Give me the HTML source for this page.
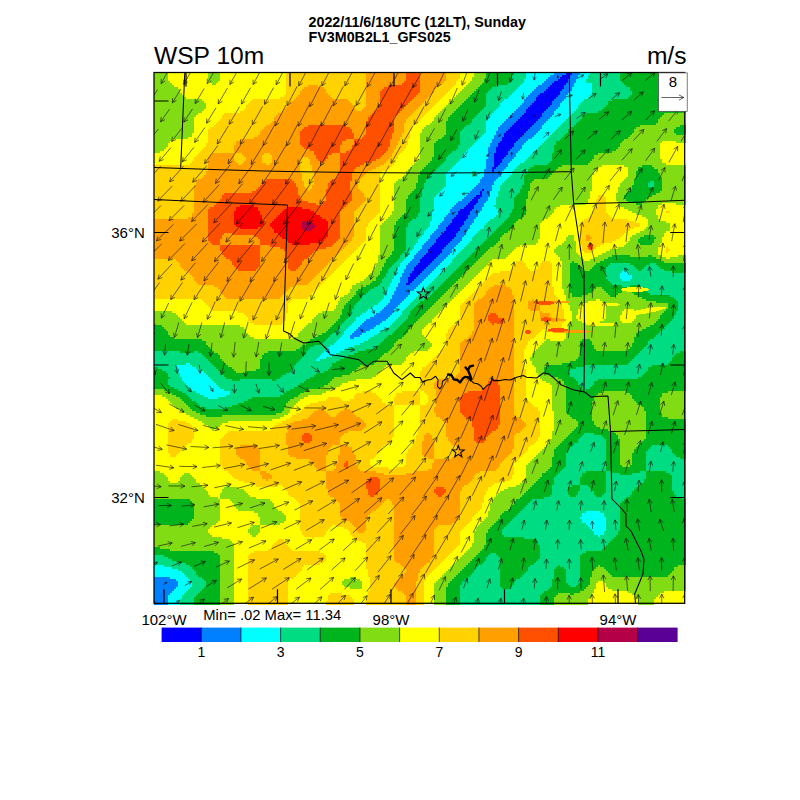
<!DOCTYPE html>
<html><head><meta charset="utf-8"><title>WSP 10m</title>
<style>
html,body{margin:0;padding:0;background:#fff;}
svg{display:block}
text{font-family:"Liberation Sans",sans-serif;fill:#000}
</style></head><body>
<svg width="800" height="800" viewBox="0 0 800 800">
<rect width="800" height="800" fill="#fff"/>
<g shape-rendering="crispEdges"><rect x="154.0" y="72.5" width="531.0" height="531.0" fill="#ffff00"/>
<path fill="#0000ff" d="M566 72.5h6v2h-6zM562 74.5h8v2h-8zM560 76.5h10v2h-10zM558 78.5h10v2h-10zM554 80.5h14v2h-14zM552 82.5h14v2h-14zM550 84.5h14v2h-14zM548 86.5h16v2h-16zM546 88.5h16v2h-16zM544 90.5h16v2h-16zM540 92.5h20v2h-20zM538 94.5h20v2h-20zM536 96.5h20v2h-20zM536 98.5h18v2h-18zM534 100.5h18v2h-18zM532 102.5h20v2h-20zM530 104.5h20v2h-20zM528 106.5h20v2h-20zM526 108.5h20v2h-20zM526 110.5h18v2h-18zM524 112.5h18v2h-18zM522 114.5h20v2h-20zM520 116.5h20v2h-20zM518 118.5h20v2h-20zM516 120.5h20v2h-20zM514 122.5h20v2h-20zM512 124.5h20v2h-20zM510 126.5h20v2h-20zM508 128.5h20v2h-20zM506 130.5h20v2h-20zM504 132.5h20v2h-20zM504 134.5h18v2h-18zM502 136.5h18v2h-18zM502 138.5h16v2h-16zM500 140.5h16v2h-16zM498 142.5h16v4h-16zM496 146.5h16v2h-16zM496 148.5h14v2h-14zM496 150.5h12v2h-12zM494 152.5h14v2h-14zM494 154.5h12v2h-12zM494 156.5h10v2h-10zM494 158.5h8v4h-8zM494 162.5h6v2h-6zM494 164.5h4v2h-4zM492 166.5h4v2h-4zM492 168.5h2v4h-2zM482 188.5h2v2h-2zM480 190.5h2v4h-2zM476 194.5h6v2h-6zM474 196.5h6v2h-6zM472 198.5h6v2h-6zM470 200.5h8v2h-8zM468 202.5h8v2h-8zM466 204.5h8v2h-8zM464 206.5h10v2h-10zM460 208.5h12v2h-12zM458 210.5h12v4h-12zM456 214.5h12v2h-12zM454 216.5h14v2h-14zM452 218.5h14v2h-14zM452 220.5h12v2h-12zM450 222.5h14v2h-14zM448 224.5h14v2h-14zM446 226.5h14v4h-14zM444 230.5h14v2h-14zM442 232.5h14v2h-14zM440 234.5h16v2h-16zM438 236.5h16v2h-16zM436 238.5h16v2h-16zM436 240.5h14v2h-14zM434 242.5h14v2h-14zM432 244.5h14v2h-14zM430 246.5h14v2h-14zM428 248.5h14v4h-14zM426 252.5h14v2h-14zM424 254.5h14v2h-14zM422 256.5h14v2h-14zM420 258.5h14v2h-14zM420 260.5h12v2h-12zM418 262.5h12v2h-12zM416 264.5h12v2h-12zM414 266.5h12v2h-12zM414 268.5h10v2h-10zM412 270.5h10v2h-10zM410 272.5h10v2h-10zM410 274.5h8v2h-8zM408 276.5h8v2h-8zM408 278.5h6v2h-6zM408 280.5h4v2h-4zM406 282.5h4v2h-4z"/>
<path fill="#0080ff" d="M572 72.5h8v2h-8zM554 72.5h12v2h-12zM550 74.5h12v2h-12zM570 74.5h8v4h-8zM548 76.5h12v2h-12zM546 78.5h12v2h-12zM568 78.5h8v4h-8zM544 80.5h10v2h-10zM542 82.5h10v2h-10zM566 82.5h8v2h-8zM564 84.5h10v2h-10zM538 84.5h12v2h-12zM536 86.5h12v2h-12zM564 86.5h8v2h-8zM562 88.5h10v2h-10zM534 88.5h12v2h-12zM560 90.5h10v2h-10zM532 90.5h12v2h-12zM560 92.5h8v2h-8zM530 92.5h10v2h-10zM558 94.5h8v2h-8zM528 94.5h10v2h-10zM556 96.5h10v2h-10zM526 96.5h10v2h-10zM524 98.5h12v2h-12zM554 98.5h10v2h-10zM524 100.5h10v2h-10zM552 100.5h10v2h-10zM522 102.5h10v2h-10zM552 102.5h8v2h-8zM550 104.5h10v2h-10zM520 104.5h10v2h-10zM518 106.5h10v2h-10zM548 106.5h10v2h-10zM546 108.5h10v2h-10zM516 108.5h10v2h-10zM544 110.5h10v2h-10zM514 110.5h12v2h-12zM512 112.5h12v2h-12zM542 112.5h12v2h-12zM510 114.5h12v2h-12zM542 114.5h10v2h-10zM508 116.5h12v2h-12zM540 116.5h10v2h-10zM506 118.5h12v2h-12zM538 118.5h10v2h-10zM536 120.5h10v2h-10zM504 120.5h12v2h-12zM502 122.5h12v2h-12zM534 122.5h10v2h-10zM500 124.5h12v2h-12zM532 124.5h10v2h-10zM530 126.5h12v2h-12zM498 126.5h12v2h-12zM498 128.5h10v2h-10zM528 128.5h12v2h-12zM526 130.5h12v2h-12zM496 130.5h10v2h-10zM524 132.5h12v2h-12zM496 132.5h8v2h-8zM494 134.5h10v2h-10zM522 134.5h12v2h-12zM520 136.5h12v2h-12zM494 136.5h8v2h-8zM492 138.5h10v2h-10zM518 138.5h10v2h-10zM492 140.5h8v2h-8zM516 140.5h10v2h-10zM514 142.5h10v2h-10zM490 142.5h8v4h-8zM514 144.5h8v2h-8zM512 146.5h10v2h-10zM510 148.5h10v2h-10zM488 146.5h8v6h-8zM508 150.5h10v2h-10zM508 152.5h8v2h-8zM506 154.5h10v2h-10zM488 152.5h6v6h-6zM504 156.5h10v2h-10zM502 158.5h10v2h-10zM502 160.5h8v2h-8zM500 162.5h8v2h-8zM486 158.5h8v8h-8zM498 164.5h10v2h-10zM486 166.5h6v2h-6zM496 166.5h10v2h-10zM494 168.5h10v2h-10zM484 168.5h8v4h-8zM494 170.5h8v2h-8zM484 172.5h18v2h-18zM484 174.5h16v2h-16zM482 176.5h16v2h-16zM480 178.5h16v2h-16zM480 180.5h14v2h-14zM478 182.5h16v2h-16zM476 184.5h16v2h-16zM474 186.5h18v2h-18zM484 188.5h8v2h-8zM472 188.5h10v2h-10zM470 190.5h10v2h-10zM468 192.5h12v2h-12zM482 190.5h8v6h-8zM466 194.5h10v2h-10zM480 196.5h8v2h-8zM464 196.5h10v2h-10zM478 198.5h10v2h-10zM462 198.5h10v2h-10zM458 200.5h12v2h-12zM478 200.5h8v2h-8zM456 202.5h12v2h-12zM476 202.5h8v2h-8zM454 204.5h12v2h-12zM474 204.5h10v2h-10zM474 206.5h8v2h-8zM452 206.5h12v2h-12zM472 208.5h10v2h-10zM450 208.5h10v2h-10zM450 210.5h8v2h-8zM470 210.5h10v2h-10zM448 212.5h10v2h-10zM470 212.5h8v2h-8zM468 214.5h10v2h-10zM446 214.5h10v2h-10zM444 216.5h10v2h-10zM468 216.5h8v2h-8zM466 218.5h8v2h-8zM444 218.5h8v2h-8zM442 220.5h10v2h-10zM464 220.5h10v2h-10zM464 222.5h8v2h-8zM440 222.5h10v2h-10zM438 224.5h10v2h-10zM462 224.5h8v2h-8zM460 226.5h10v2h-10zM438 226.5h8v2h-8zM436 228.5h10v2h-10zM460 228.5h8v2h-8zM458 230.5h8v2h-8zM434 230.5h10v2h-10zM456 232.5h10v2h-10zM432 232.5h10v2h-10zM430 234.5h10v2h-10zM456 234.5h8v2h-8zM430 236.5h8v2h-8zM454 236.5h8v2h-8zM428 238.5h8v2h-8zM452 238.5h10v2h-10zM426 240.5h10v2h-10zM450 240.5h10v2h-10zM424 242.5h10v2h-10zM448 242.5h10v2h-10zM422 244.5h10v2h-10zM446 244.5h10v2h-10zM444 246.5h10v2h-10zM422 246.5h8v2h-8zM420 248.5h8v2h-8zM442 248.5h10v4h-10zM418 250.5h10v2h-10zM416 252.5h10v2h-10zM440 252.5h10v2h-10zM414 254.5h10v2h-10zM438 254.5h10v2h-10zM436 256.5h10v2h-10zM414 256.5h8v2h-8zM434 258.5h10v2h-10zM412 258.5h8v2h-8zM410 260.5h10v2h-10zM432 260.5h10v2h-10zM430 262.5h10v2h-10zM408 262.5h10v2h-10zM428 264.5h10v2h-10zM406 264.5h10v2h-10zM426 266.5h10v2h-10zM406 266.5h8v2h-8zM424 268.5h10v2h-10zM404 268.5h10v2h-10zM422 270.5h10v2h-10zM404 270.5h8v2h-8zM420 272.5h10v2h-10zM402 272.5h8v4h-8zM418 274.5h10v2h-10zM416 276.5h10v2h-10zM414 278.5h10v2h-10zM400 276.5h8v6h-8zM412 280.5h10v2h-10zM398 282.5h8v2h-8zM410 282.5h10v2h-10zM398 284.5h20v2h-20zM396 286.5h20v2h-20zM396 288.5h18v2h-18zM394 290.5h16v4h-16zM392 294.5h16v2h-16zM392 296.5h14v2h-14zM390 298.5h14v2h-14zM390 300.5h12v2h-12zM388 302.5h12v2h-12zM386 304.5h12v2h-12zM384 306.5h12v2h-12zM382 308.5h12v2h-12zM380 310.5h14v2h-14zM376 312.5h16v2h-16zM374 314.5h16v2h-16zM370 316.5h18v2h-18zM366 318.5h20v2h-20zM364 320.5h18v2h-18zM362 322.5h18v2h-18zM360 324.5h16v2h-16zM358 326.5h16v2h-16zM356 328.5h14v2h-14zM354 330.5h12v2h-12zM352 332.5h10v2h-10zM350 334.5h10v2h-10zM350 336.5h4v2h-4zM154 576.5h16v2h-16zM154 578.5h22v2h-22zM154 580.5h24v6h-24zM154 586.5h22v2h-22zM154 588.5h20v2h-20zM154 590.5h18v2h-18zM154 592.5h16v2h-16zM154 594.5h14v10h-14z"/>
<path fill="#00ffff" d="M526 72.5h28v2h-28zM580 72.5h10v2h-10zM526 74.5h24v2h-24zM578 74.5h10v4h-10zM526 76.5h22v2h-22zM524 78.5h22v2h-22zM576 78.5h10v4h-10zM524 80.5h20v2h-20zM522 82.5h20v2h-20zM574 82.5h18v4h-18zM520 84.5h18v2h-18zM518 86.5h18v2h-18zM572 86.5h20v4h-20zM516 88.5h18v2h-18zM514 90.5h18v2h-18zM570 90.5h22v2h-22zM512 92.5h18v2h-18zM568 92.5h24v2h-24zM566 94.5h24v2h-24zM510 94.5h18v2h-18zM508 96.5h18v2h-18zM566 96.5h22v2h-22zM564 98.5h20v2h-20zM504 98.5h20v2h-20zM562 100.5h20v2h-20zM502 100.5h22v2h-22zM500 102.5h22v2h-22zM560 102.5h20v2h-20zM560 104.5h18v2h-18zM500 104.5h20v2h-20zM558 106.5h20v2h-20zM498 106.5h20v2h-20zM556 108.5h20v2h-20zM496 108.5h20v2h-20zM494 110.5h20v2h-20zM554 110.5h20v2h-20zM554 112.5h18v2h-18zM492 112.5h20v2h-20zM552 114.5h18v2h-18zM490 114.5h20v2h-20zM550 116.5h18v2h-18zM488 116.5h20v2h-20zM488 118.5h18v2h-18zM548 118.5h18v2h-18zM546 120.5h18v2h-18zM486 120.5h18v2h-18zM486 122.5h16v2h-16zM544 122.5h18v2h-18zM542 124.5h18v2h-18zM486 124.5h14v2h-14zM542 126.5h16v2h-16zM486 126.5h12v4h-12zM540 128.5h16v2h-16zM538 130.5h16v2h-16zM486 130.5h10v2h-10zM484 132.5h12v2h-12zM536 132.5h16v2h-16zM482 134.5h12v2h-12zM534 134.5h16v2h-16zM480 136.5h14v2h-14zM532 136.5h16v2h-16zM528 138.5h18v2h-18zM478 138.5h14v2h-14zM476 140.5h16v2h-16zM526 140.5h18v2h-18zM474 142.5h16v2h-16zM524 142.5h18v2h-18zM522 144.5h18v2h-18zM472 144.5h18v2h-18zM470 146.5h18v2h-18zM522 146.5h16v2h-16zM520 148.5h16v2h-16zM468 148.5h20v2h-20zM518 150.5h16v2h-16zM466 150.5h22v2h-22zM464 152.5h24v2h-24zM516 152.5h16v2h-16zM516 154.5h14v2h-14zM462 154.5h26v4h-26zM514 156.5h14v2h-14zM512 158.5h14v2h-14zM460 158.5h26v2h-26zM458 160.5h28v2h-28zM510 160.5h14v2h-14zM456 162.5h30v2h-30zM508 162.5h12v2h-12zM508 164.5h10v2h-10zM454 164.5h32v2h-32zM506 166.5h10v2h-10zM452 166.5h34v2h-34zM450 168.5h34v2h-34zM504 168.5h10v2h-10zM448 170.5h24v2h-24zM476 170.5h8v4h-8zM502 170.5h10v4h-10zM446 172.5h26v4h-26zM500 174.5h10v2h-10zM474 174.5h10v2h-10zM498 176.5h10v2h-10zM446 176.5h36v2h-36zM496 178.5h10v2h-10zM446 178.5h34v4h-34zM494 180.5h10v2h-10zM494 182.5h8v2h-8zM446 182.5h32v2h-32zM446 184.5h30v2h-30zM444 186.5h30v2h-30zM492 184.5h8v6h-8zM442 188.5h30v2h-30zM440 190.5h30v2h-30zM438 192.5h30v2h-30zM490 190.5h8v6h-8zM436 194.5h30v2h-30zM434 196.5h30v2h-30zM488 196.5h8v4h-8zM434 198.5h28v2h-28zM434 200.5h24v2h-24zM486 200.5h10v2h-10zM434 202.5h22v2h-22zM484 202.5h12v2h-12zM434 204.5h20v2h-20zM484 204.5h10v2h-10zM482 206.5h14v2h-14zM434 206.5h18v2h-18zM434 208.5h16v2h-16zM482 208.5h16v2h-16zM480 210.5h18v2h-18zM432 210.5h18v2h-18zM432 212.5h16v2h-16zM478 212.5h20v2h-20zM478 214.5h18v2h-18zM432 214.5h14v2h-14zM476 216.5h18v2h-18zM432 216.5h12v4h-12zM474 218.5h16v2h-16zM430 220.5h12v2h-12zM474 220.5h14v2h-14zM472 222.5h14v2h-14zM430 222.5h10v2h-10zM430 224.5h8v2h-8zM470 224.5h14v4h-14zM428 226.5h10v2h-10zM468 228.5h12v2h-12zM426 228.5h10v2h-10zM424 230.5h10v2h-10zM466 230.5h12v2h-12zM424 232.5h8v2h-8zM466 232.5h10v2h-10zM422 234.5h8v2h-8zM464 234.5h10v2h-10zM420 236.5h10v2h-10zM462 236.5h10v4h-10zM418 238.5h10v2h-10zM418 240.5h8v2h-8zM460 240.5h10v2h-10zM416 242.5h8v2h-8zM458 242.5h10v2h-10zM456 244.5h10v2h-10zM414 244.5h8v4h-8zM454 246.5h10v2h-10zM452 248.5h10v2h-10zM412 248.5h8v2h-8zM452 250.5h8v2h-8zM410 250.5h8v2h-8zM410 252.5h6v2h-6zM450 252.5h8v2h-8zM448 254.5h8v2h-8zM408 254.5h6v2h-6zM446 256.5h8v2h-8zM406 256.5h8v2h-8zM404 258.5h8v2h-8zM444 258.5h8v2h-8zM402 260.5h8v2h-8zM442 260.5h10v2h-10zM440 262.5h10v2h-10zM400 262.5h8v2h-8zM400 264.5h6v2h-6zM438 264.5h10v2h-10zM398 266.5h8v2h-8zM436 266.5h10v2h-10zM398 268.5h6v2h-6zM434 268.5h10v2h-10zM396 270.5h8v2h-8zM622 270.5h6v2h-6zM432 270.5h10v2h-10zM396 272.5h6v2h-6zM430 272.5h10v2h-10zM620 272.5h10v2h-10zM394 274.5h8v2h-8zM428 274.5h10v2h-10zM620 274.5h12v4h-12zM394 276.5h6v2h-6zM426 276.5h10v2h-10zM424 278.5h10v2h-10zM622 278.5h8v2h-8zM392 278.5h8v4h-8zM422 280.5h10v2h-10zM420 282.5h10v2h-10zM390 282.5h8v4h-8zM418 284.5h10v2h-10zM416 286.5h10v2h-10zM388 286.5h8v4h-8zM414 288.5h10v2h-10zM410 290.5h12v2h-12zM386 290.5h8v4h-8zM410 292.5h10v2h-10zM408 294.5h10v2h-10zM384 294.5h8v4h-8zM406 296.5h10v2h-10zM382 298.5h8v2h-8zM404 298.5h10v2h-10zM380 300.5h10v2h-10zM402 300.5h10v2h-10zM378 302.5h10v2h-10zM400 302.5h10v2h-10zM374 304.5h12v2h-12zM398 304.5h10v2h-10zM372 306.5h12v2h-12zM396 306.5h10v2h-10zM368 308.5h14v2h-14zM394 308.5h10v2h-10zM394 310.5h8v2h-8zM366 310.5h14v2h-14zM362 312.5h14v2h-14zM392 312.5h10v2h-10zM360 314.5h14v2h-14zM390 314.5h10v2h-10zM356 316.5h14v2h-14zM388 316.5h10v2h-10zM356 318.5h10v2h-10zM386 318.5h10v2h-10zM354 320.5h10v2h-10zM382 320.5h12v2h-12zM380 322.5h12v2h-12zM352 322.5h10v2h-10zM350 324.5h10v2h-10zM376 324.5h14v2h-14zM374 326.5h14v2h-14zM348 326.5h10v2h-10zM370 328.5h14v2h-14zM346 328.5h10v2h-10zM366 330.5h14v2h-14zM344 330.5h10v2h-10zM344 332.5h8v2h-8zM362 332.5h16v2h-16zM342 334.5h8v2h-8zM360 334.5h14v2h-14zM340 336.5h10v2h-10zM354 336.5h16v2h-16zM338 338.5h30v2h-30zM336 340.5h28v2h-28zM334 342.5h26v2h-26zM330 344.5h24v2h-24zM328 346.5h20v2h-20zM326 348.5h18v2h-18zM324 350.5h16v2h-16zM322 352.5h14v2h-14zM320 354.5h12v2h-12zM318 356.5h8v2h-8zM316 358.5h4v2h-4zM186 362.5h4v2h-4zM176 364.5h16v2h-16zM178 366.5h18v2h-18zM178 368.5h22v2h-22zM178 370.5h26v2h-26zM180 372.5h26v2h-26zM180 374.5h28v2h-28zM182 376.5h28v2h-28zM182 378.5h30v2h-30zM184 380.5h30v2h-30zM186 382.5h30v2h-30zM188 384.5h30v2h-30zM190 386.5h30v2h-30zM192 388.5h32v2h-32zM196 390.5h34v2h-34zM200 392.5h30v2h-30zM204 394.5h22v2h-22zM208 396.5h10v2h-10zM586 510.5h14v2h-14zM582 512.5h22v4h-22zM580 516.5h26v2h-26zM582 518.5h24v4h-24zM586 522.5h20v2h-20zM588 524.5h18v2h-18zM590 526.5h16v2h-16zM592 528.5h14v2h-14zM594 530.5h10v4h-10zM598 534.5h2v2h-2zM154 564.5h10v2h-10zM154 566.5h18v2h-18zM154 568.5h24v2h-24zM154 570.5h28v2h-28zM154 572.5h30v2h-30zM154 574.5h32v2h-32zM170 576.5h18v2h-18zM176 578.5h14v2h-14zM178 580.5h12v2h-12zM178 582.5h14v4h-14zM176 586.5h14v2h-14zM174 588.5h14v2h-14zM172 590.5h14v2h-14zM170 592.5h14v2h-14zM168 594.5h14v4h-14zM168 598.5h12v6h-12z"/>
<path fill="#00dc82" d="M590 72.5h30v2h-30zM514 72.5h12v2h-12zM588 74.5h32v4h-32zM512 74.5h14v4h-14zM512 78.5h12v2h-12zM586 78.5h34v2h-34zM510 80.5h14v2h-14zM586 80.5h36v2h-36zM592 82.5h32v2h-32zM508 82.5h14v2h-14zM496 84.5h24v2h-24zM592 84.5h34v2h-34zM492 86.5h26v2h-26zM592 86.5h38v4h-38zM490 88.5h26v2h-26zM488 90.5h26v2h-26zM592 90.5h40v4h-40zM486 92.5h26v2h-26zM590 94.5h40v2h-40zM486 94.5h24v2h-24zM588 96.5h40v2h-40zM486 96.5h22v2h-22zM584 98.5h28v2h-28zM486 98.5h18v2h-18zM486 100.5h16v2h-16zM582 100.5h26v2h-26zM580 102.5h28v2h-28zM486 102.5h14v4h-14zM578 104.5h28v2h-28zM578 106.5h26v2h-26zM484 106.5h14v2h-14zM482 108.5h14v2h-14zM576 108.5h26v2h-26zM574 110.5h24v2h-24zM480 110.5h14v2h-14zM572 112.5h14v2h-14zM478 112.5h14v2h-14zM476 114.5h14v2h-14zM570 114.5h12v2h-12zM474 116.5h14v2h-14zM568 116.5h14v2h-14zM566 118.5h14v2h-14zM472 118.5h16v2h-16zM472 120.5h14v2h-14zM564 120.5h14v2h-14zM562 122.5h14v2h-14zM470 122.5h16v2h-16zM466 124.5h20v2h-20zM560 124.5h14v2h-14zM464 126.5h22v2h-22zM558 126.5h12v2h-12zM556 128.5h12v2h-12zM462 128.5h24v2h-24zM554 130.5h14v2h-14zM460 130.5h26v2h-26zM460 132.5h24v2h-24zM552 132.5h14v2h-14zM460 134.5h22v2h-22zM550 134.5h14v2h-14zM548 136.5h14v2h-14zM460 136.5h20v2h-20zM546 138.5h14v2h-14zM460 138.5h18v2h-18zM460 140.5h16v2h-16zM544 140.5h12v2h-12zM542 142.5h14v2h-14zM460 142.5h14v2h-14zM458 144.5h14v2h-14zM540 144.5h14v2h-14zM538 146.5h16v2h-16zM458 146.5h12v2h-12zM536 148.5h18v2h-18zM456 148.5h12v2h-12zM534 150.5h20v2h-20zM452 150.5h14v2h-14zM532 152.5h20v2h-20zM450 152.5h14v2h-14zM448 154.5h14v2h-14zM530 154.5h22v2h-22zM528 156.5h24v2h-24zM446 156.5h16v2h-16zM526 158.5h26v2h-26zM446 158.5h14v2h-14zM524 160.5h26v2h-26zM444 160.5h14v2h-14zM520 162.5h28v2h-28zM442 162.5h14v2h-14zM440 164.5h14v2h-14zM518 164.5h16v2h-16zM438 166.5h14v2h-14zM516 166.5h14v2h-14zM514 168.5h14v2h-14zM436 168.5h14v2h-14zM512 170.5h16v2h-16zM434 170.5h14v2h-14zM472 170.5h4v4h-4zM432 172.5h14v2h-14zM512 172.5h14v2h-14zM510 174.5h14v2h-14zM472 174.5h2v2h-2zM430 174.5h16v2h-16zM428 176.5h18v2h-18zM508 176.5h16v2h-16zM506 178.5h18v2h-18zM426 178.5h20v4h-20zM650 180.5h4v2h-4zM504 180.5h20v2h-20zM502 182.5h22v2h-22zM424 182.5h22v4h-22zM648 182.5h6v4h-6zM500 184.5h22v4h-22zM424 186.5h20v2h-20zM422 188.5h20v2h-20zM500 188.5h20v2h-20zM498 190.5h22v2h-22zM422 190.5h18v2h-18zM422 192.5h16v2h-16zM498 192.5h20v2h-20zM422 194.5h14v2h-14zM498 194.5h18v2h-18zM496 196.5h18v8h-18zM494 204.5h20v2h-20zM496 206.5h18v2h-18zM420 196.5h14v14h-14zM498 208.5h14v4h-14zM420 210.5h12v2h-12zM498 212.5h12v2h-12zM418 212.5h14v4h-14zM496 214.5h14v2h-14zM494 216.5h14v2h-14zM416 216.5h16v2h-16zM490 218.5h16v2h-16zM412 218.5h20v2h-20zM488 220.5h16v2h-16zM410 220.5h20v2h-20zM486 222.5h16v2h-16zM408 222.5h22v4h-22zM484 224.5h16v2h-16zM406 226.5h22v2h-22zM484 226.5h14v2h-14zM480 228.5h16v2h-16zM406 228.5h20v2h-20zM478 230.5h16v2h-16zM406 230.5h18v4h-18zM476 232.5h16v2h-16zM474 234.5h16v2h-16zM406 234.5h16v2h-16zM406 236.5h14v2h-14zM472 236.5h16v2h-16zM472 238.5h14v2h-14zM406 238.5h12v4h-12zM470 240.5h14v2h-14zM406 242.5h10v2h-10zM468 242.5h14v2h-14zM466 244.5h14v2h-14zM406 244.5h8v4h-8zM464 246.5h14v2h-14zM406 248.5h6v2h-6zM462 248.5h14v2h-14zM404 250.5h6v2h-6zM460 250.5h14v2h-14zM458 252.5h14v2h-14zM402 252.5h8v2h-8zM400 254.5h8v2h-8zM456 254.5h14v2h-14zM454 256.5h14v2h-14zM400 256.5h6v2h-6zM398 258.5h6v2h-6zM452 258.5h14v2h-14zM452 260.5h12v2h-12zM396 260.5h6v2h-6zM610 262.5h20v2h-20zM394 262.5h6v2h-6zM450 262.5h12v2h-12zM650 262.5h6v2h-6zM392 264.5h8v2h-8zM646 264.5h12v2h-12zM448 264.5h12v2h-12zM608 264.5h26v2h-26zM606 266.5h30v2h-30zM446 266.5h12v2h-12zM644 266.5h16v2h-16zM390 266.5h8v2h-8zM642 268.5h22v2h-22zM606 268.5h32v2h-32zM444 268.5h12v2h-12zM388 268.5h10v2h-10zM442 270.5h12v2h-12zM606 270.5h16v2h-16zM628 270.5h44v2h-44zM388 270.5h8v2h-8zM386 272.5h10v2h-10zM630 272.5h56v2h-56zM440 272.5h12v2h-12zM386 274.5h8v2h-8zM438 274.5h12v2h-12zM606 272.5h14v6h-14zM632 274.5h54v4h-54zM384 276.5h10v2h-10zM436 276.5h12v2h-12zM434 278.5h12v2h-12zM608 278.5h14v2h-14zM630 278.5h56v2h-56zM382 278.5h10v4h-10zM610 280.5h76v2h-76zM432 280.5h12v2h-12zM612 282.5h74v2h-74zM380 282.5h10v2h-10zM430 282.5h12v2h-12zM622 284.5h8v2h-8zM640 284.5h46v2h-46zM428 284.5h12v2h-12zM378 284.5h12v2h-12zM426 286.5h12v2h-12zM374 286.5h14v2h-14zM644 286.5h42v2h-42zM370 288.5h18v2h-18zM646 288.5h40v2h-40zM424 288.5h12v2h-12zM422 290.5h12v2h-12zM368 290.5h18v2h-18zM648 290.5h38v2h-38zM366 292.5h20v2h-20zM420 292.5h12v2h-12zM650 292.5h36v2h-36zM418 294.5h12v2h-12zM670 294.5h16v2h-16zM362 294.5h22v4h-22zM674 296.5h12v2h-12zM416 296.5h12v2h-12zM360 298.5h22v2h-22zM414 298.5h10v2h-10zM676 298.5h10v2h-10zM358 300.5h22v2h-22zM412 300.5h8v2h-8zM356 302.5h22v2h-22zM410 302.5h8v2h-8zM408 304.5h8v2h-8zM354 304.5h20v2h-20zM406 306.5h8v2h-8zM354 306.5h18v2h-18zM678 300.5h8v10h-8zM404 308.5h8v2h-8zM352 308.5h16v2h-16zM352 310.5h14v2h-14zM402 310.5h8v4h-8zM676 310.5h10v4h-10zM350 312.5h12v2h-12zM400 314.5h8v2h-8zM350 314.5h10v2h-10zM674 314.5h12v4h-12zM398 316.5h10v2h-10zM348 316.5h8v2h-8zM396 318.5h10v2h-10zM672 318.5h14v2h-14zM346 318.5h10v2h-10zM394 320.5h10v2h-10zM344 320.5h10v2h-10zM670 320.5h16v2h-16zM342 322.5h10v2h-10zM392 322.5h10v2h-10zM668 322.5h18v2h-18zM666 324.5h20v2h-20zM390 324.5h10v2h-10zM340 324.5h10v2h-10zM340 326.5h8v2h-8zM664 326.5h22v2h-22zM388 326.5h10v2h-10zM662 328.5h24v2h-24zM338 328.5h8v2h-8zM384 328.5h12v2h-12zM380 330.5h14v2h-14zM660 330.5h26v2h-26zM336 330.5h8v2h-8zM378 332.5h14v2h-14zM658 332.5h28v2h-28zM332 332.5h12v2h-12zM656 334.5h30v2h-30zM374 334.5h14v2h-14zM330 334.5h12v2h-12zM328 336.5h12v2h-12zM370 336.5h16v2h-16zM654 336.5h32v2h-32zM368 338.5h16v2h-16zM326 338.5h12v2h-12zM650 338.5h36v2h-36zM364 340.5h18v2h-18zM324 340.5h12v2h-12zM648 340.5h38v4h-38zM360 342.5h20v2h-20zM322 342.5h12v2h-12zM354 344.5h24v2h-24zM646 344.5h40v2h-40zM314 344.5h16v2h-16zM348 346.5h28v2h-28zM644 346.5h42v2h-42zM310 346.5h18v2h-18zM344 348.5h22v2h-22zM308 348.5h18v2h-18zM642 348.5h44v2h-44zM306 350.5h18v2h-18zM154 350.5h26v2h-26zM194 350.5h4v2h-4zM340 350.5h18v2h-18zM640 350.5h40v2h-40zM306 352.5h16v2h-16zM336 352.5h18v2h-18zM154 352.5h48v2h-48zM638 352.5h38v2h-38zM304 354.5h16v2h-16zM636 354.5h38v2h-38zM154 354.5h50v2h-50zM332 354.5h16v2h-16zM634 356.5h38v2h-38zM154 356.5h52v2h-52zM302 356.5h16v2h-16zM326 356.5h18v2h-18zM300 358.5h16v2h-16zM320 358.5h20v2h-20zM632 358.5h40v2h-40zM154 358.5h54v2h-54zM154 360.5h56v2h-56zM630 360.5h40v2h-40zM298 360.5h38v2h-38zM628 362.5h40v2h-40zM190 362.5h22v2h-22zM154 362.5h32v2h-32zM296 362.5h36v2h-36zM584 364.5h68v2h-68zM294 364.5h38v2h-38zM192 364.5h22v2h-22zM154 364.5h22v2h-22zM294 366.5h36v2h-36zM158 366.5h20v2h-20zM576 366.5h72v2h-72zM196 366.5h20v2h-20zM200 368.5h18v2h-18zM292 368.5h36v2h-36zM570 368.5h78v2h-78zM162 368.5h16v2h-16zM568 370.5h78v2h-78zM166 370.5h12v2h-12zM204 370.5h16v2h-16zM290 370.5h34v2h-34zM570 372.5h74v2h-74zM286 372.5h30v2h-30zM206 372.5h16v2h-16zM168 372.5h12v4h-12zM282 374.5h32v2h-32zM208 374.5h16v2h-16zM570 374.5h72v2h-72zM210 376.5h16v2h-16zM280 376.5h30v2h-30zM574 376.5h64v2h-64zM170 376.5h12v2h-12zM212 378.5h20v2h-20zM276 378.5h30v2h-30zM240 378.5h32v2h-32zM576 378.5h22v2h-22zM168 378.5h14v2h-14zM214 380.5h90v2h-90zM168 380.5h16v2h-16zM578 380.5h16v4h-16zM216 382.5h84v2h-84zM168 382.5h18v2h-18zM218 384.5h80v2h-80zM580 384.5h12v2h-12zM170 384.5h18v2h-18zM220 386.5h74v2h-74zM174 386.5h16v2h-16zM582 386.5h8v2h-8zM178 388.5h14v2h-14zM224 388.5h66v2h-66zM584 388.5h2v2h-2zM182 390.5h14v2h-14zM230 390.5h56v2h-56zM186 392.5h14v2h-14zM230 392.5h54v2h-54zM226 394.5h54v2h-54zM188 394.5h16v2h-16zM190 396.5h18v2h-18zM218 396.5h34v2h-34zM192 398.5h56v2h-56zM196 400.5h48v2h-48zM198 402.5h40v2h-40zM200 404.5h32v2h-32zM206 406.5h20v2h-20zM584 432.5h10v2h-10zM582 434.5h20v2h-20zM580 436.5h24v2h-24zM578 438.5h28v4h-28zM574 442.5h32v2h-32zM652 444.5h16v2h-16zM572 444.5h34v2h-34zM570 446.5h36v2h-36zM650 446.5h20v2h-20zM648 448.5h24v2h-24zM568 448.5h38v4h-38zM646 450.5h26v2h-26zM646 452.5h28v2h-28zM646 454.5h30v2h-30zM646 456.5h34v2h-34zM566 452.5h40v14h-40zM564 466.5h42v2h-42zM646 458.5h40v12h-40zM562 468.5h44v2h-44zM666 470.5h20v2h-20zM560 470.5h26v2h-26zM640 470.5h6v2h-6zM606 470.5h6v2h-6zM606 472.5h14v2h-14zM558 472.5h24v2h-24zM632 472.5h14v2h-14zM670 472.5h16v2h-16zM556 474.5h26v2h-26zM606 474.5h40v4h-40zM606 478.5h38v4h-38zM554 476.5h26v8h-26zM606 482.5h34v2h-34zM606 484.5h32v2h-32zM580 484.5h8v2h-8zM552 484.5h20v2h-20zM580 486.5h10v2h-10zM606 486.5h30v2h-30zM672 474.5h14v16h-14zM606 488.5h28v2h-28zM580 488.5h12v2h-12zM606 490.5h26v2h-26zM552 486.5h16v8h-16zM674 490.5h12v4h-12zM578 490.5h16v4h-16zM604 492.5h28v2h-28zM576 494.5h20v2h-20zM550 494.5h20v2h-20zM602 494.5h28v2h-28zM676 494.5h10v2h-10zM682 496.5h4v2h-4zM544 496.5h82v2h-82zM532 498.5h92v2h-92zM530 500.5h92v2h-92zM528 502.5h92v2h-92zM526 504.5h94v2h-94zM524 506.5h96v2h-96zM522 508.5h98v2h-98zM600 510.5h20v2h-20zM520 510.5h66v2h-66zM518 512.5h64v2h-64zM604 512.5h16v4h-16zM516 514.5h66v2h-66zM514 516.5h66v2h-66zM512 518.5h70v2h-70zM510 520.5h72v2h-72zM508 522.5h78v2h-78zM506 524.5h82v2h-82zM504 526.5h86v2h-86zM606 516.5h14v14h-14zM502 528.5h90v2h-90zM604 530.5h14v4h-14zM502 530.5h92v4h-92zM504 534.5h94v2h-94zM600 534.5h16v2h-16zM524 536.5h90v2h-90zM536 538.5h76v2h-76zM538 540.5h72v2h-72zM538 542.5h70v2h-70zM540 544.5h66v2h-66zM540 546.5h64v2h-64zM540 548.5h62v2h-62zM540 550.5h46v2h-46zM540 552.5h42v2h-42zM490 552.5h6v2h-6zM154 554.5h10v2h-10zM488 554.5h10v2h-10zM540 554.5h40v4h-40zM154 556.5h14v2h-14zM486 556.5h14v4h-14zM154 558.5h18v2h-18zM538 558.5h42v2h-42zM154 560.5h24v2h-24zM484 560.5h16v2h-16zM536 560.5h44v2h-44zM154 562.5h32v2h-32zM534 562.5h46v2h-46zM482 562.5h18v2h-18zM164 564.5h26v2h-26zM530 564.5h28v2h-28zM560 564.5h20v2h-20zM478 564.5h22v2h-22zM528 566.5h28v2h-28zM476 566.5h24v2h-24zM172 566.5h20v2h-20zM564 566.5h16v2h-16zM178 568.5h16v2h-16zM528 568.5h26v2h-26zM474 568.5h26v4h-26zM182 570.5h14v2h-14zM526 570.5h28v2h-28zM184 572.5h12v2h-12zM524 572.5h30v2h-30zM472 572.5h28v2h-28zM470 574.5h30v2h-30zM186 574.5h12v2h-12zM522 574.5h32v2h-32zM188 576.5h14v2h-14zM468 576.5h32v2h-32zM520 576.5h34v2h-34zM464 578.5h36v2h-36zM190 578.5h14v2h-14zM516 578.5h36v2h-36zM566 568.5h14v14h-14zM190 580.5h16v2h-16zM514 580.5h38v4h-38zM462 580.5h38v4h-38zM568 582.5h10v2h-10zM192 582.5h14v4h-14zM460 584.5h40v2h-40zM512 584.5h40v2h-40zM570 584.5h6v2h-6zM190 586.5h14v2h-14zM510 586.5h40v2h-40zM460 586.5h42v2h-42zM460 588.5h88v2h-88zM188 588.5h14v2h-14zM186 590.5h14v2h-14zM460 590.5h84v2h-84zM460 592.5h82v2h-82zM184 592.5h14v2h-14zM182 594.5h14v2h-14zM182 596.5h12v2h-12zM460 594.5h80v10h-80zM180 598.5h14v6h-14z"/>
<path fill="#00b41e" d="M486 72.5h28v2h-28zM486 74.5h26v4h-26zM620 72.5h66v8h-66zM484 78.5h28v2h-28zM484 80.5h26v2h-26zM622 80.5h64v2h-64zM624 82.5h62v2h-62zM482 82.5h26v2h-26zM480 84.5h16v2h-16zM626 84.5h60v2h-60zM478 86.5h14v2h-14zM630 86.5h56v4h-56zM476 88.5h14v2h-14zM474 90.5h14v2h-14zM632 90.5h54v4h-54zM472 92.5h14v2h-14zM470 94.5h16v2h-16zM630 94.5h56v2h-56zM628 96.5h58v2h-58zM468 96.5h18v2h-18zM612 98.5h74v2h-74zM466 98.5h20v2h-20zM464 100.5h22v2h-22zM608 100.5h78v4h-78zM462 102.5h24v2h-24zM460 104.5h26v2h-26zM606 104.5h80v2h-80zM458 106.5h26v2h-26zM604 106.5h82v2h-82zM602 108.5h84v2h-84zM456 108.5h26v2h-26zM598 110.5h88v2h-88zM454 110.5h26v2h-26zM452 112.5h26v2h-26zM586 112.5h78v2h-78zM450 114.5h26v2h-26zM582 114.5h80v2h-80zM448 116.5h26v2h-26zM582 116.5h78v2h-78zM448 118.5h24v2h-24zM580 118.5h78v2h-78zM446 120.5h26v2h-26zM578 120.5h80v2h-80zM576 122.5h80v2h-80zM446 122.5h24v2h-24zM680 124.5h6v2h-6zM574 124.5h66v2h-66zM446 124.5h20v2h-20zM446 126.5h18v2h-18zM676 126.5h10v2h-10zM570 126.5h66v2h-66zM446 128.5h16v2h-16zM568 128.5h66v4h-66zM674 128.5h12v4h-12zM446 130.5h14v4h-14zM676 132.5h10v2h-10zM566 132.5h66v2h-66zM564 134.5h66v2h-66zM444 134.5h16v2h-16zM562 136.5h66v2h-66zM442 136.5h18v2h-18zM438 138.5h22v2h-22zM560 138.5h64v2h-64zM436 140.5h24v2h-24zM556 140.5h66v2h-66zM556 142.5h64v2h-64zM434 142.5h26v2h-26zM554 144.5h66v2h-66zM434 144.5h24v4h-24zM554 146.5h64v2h-64zM434 148.5h22v2h-22zM554 148.5h62v2h-62zM434 150.5h18v2h-18zM554 150.5h58v2h-58zM552 152.5h46v2h-46zM434 152.5h16v2h-16zM434 154.5h14v2h-14zM552 154.5h42v4h-42zM432 156.5h14v4h-14zM552 158.5h40v2h-40zM430 160.5h14v2h-14zM550 160.5h40v2h-40zM428 162.5h14v2h-14zM548 162.5h40v2h-40zM534 164.5h28v2h-28zM426 164.5h14v2h-14zM642 164.5h10v2h-10zM638 166.5h16v2h-16zM530 166.5h28v2h-28zM424 166.5h14v2h-14zM638 168.5h20v2h-20zM422 168.5h14v2h-14zM528 168.5h28v2h-28zM528 170.5h26v2h-26zM636 170.5h22v2h-22zM420 170.5h14v2h-14zM420 172.5h12v2h-12zM526 172.5h26v2h-26zM636 172.5h24v4h-24zM418 174.5h12v2h-12zM524 174.5h26v2h-26zM524 176.5h24v2h-24zM418 176.5h10v2h-10zM636 176.5h26v2h-26zM524 178.5h10v2h-10zM634 178.5h28v2h-28zM418 178.5h8v4h-8zM634 180.5h16v2h-16zM524 180.5h8v2h-8zM524 182.5h6v2h-6zM634 182.5h14v2h-14zM654 180.5h8v6h-8zM632 184.5h16v2h-16zM416 182.5h8v6h-8zM522 184.5h8v4h-8zM632 186.5h30v2h-30zM630 188.5h32v2h-32zM414 188.5h8v2h-8zM520 188.5h10v2h-10zM628 190.5h32v2h-32zM520 190.5h8v2h-8zM412 190.5h10v2h-10zM410 192.5h12v2h-12zM626 192.5h30v2h-30zM518 192.5h10v2h-10zM624 194.5h28v2h-28zM408 194.5h14v2h-14zM516 194.5h12v2h-12zM624 196.5h24v2h-24zM514 196.5h14v2h-14zM408 196.5h12v2h-12zM626 198.5h20v2h-20zM628 200.5h16v2h-16zM636 202.5h6v2h-6zM514 198.5h12v10h-12zM406 198.5h14v14h-14zM512 208.5h14v4h-14zM404 212.5h14v2h-14zM510 212.5h16v2h-16zM402 214.5h16v2h-16zM510 214.5h14v2h-14zM400 216.5h16v2h-16zM508 216.5h14v2h-14zM506 218.5h12v2h-12zM398 218.5h14v2h-14zM396 220.5h14v2h-14zM504 220.5h12v2h-12zM502 222.5h12v2h-12zM396 222.5h12v2h-12zM394 224.5h14v2h-14zM500 224.5h14v2h-14zM498 226.5h14v2h-14zM496 228.5h14v2h-14zM494 230.5h14v2h-14zM492 232.5h12v2h-12zM644 234.5h10v2h-10zM490 234.5h12v2h-12zM488 236.5h12v2h-12zM640 236.5h16v2h-16zM486 238.5h14v2h-14zM638 238.5h16v4h-16zM484 240.5h14v2h-14zM482 242.5h14v2h-14zM640 242.5h12v2h-12zM480 244.5h14v2h-14zM478 246.5h12v2h-12zM394 226.5h12v24h-12zM476 248.5h12v2h-12zM474 250.5h12v2h-12zM392 250.5h12v2h-12zM472 252.5h12v2h-12zM392 252.5h10v2h-10zM390 254.5h10v2h-10zM470 254.5h12v2h-12zM612 254.5h18v2h-18zM648 254.5h4v2h-4zM608 256.5h48v2h-48zM468 256.5h12v2h-12zM388 256.5h12v2h-12zM604 258.5h56v2h-56zM466 258.5h12v2h-12zM386 258.5h12v2h-12zM464 260.5h12v2h-12zM600 260.5h64v2h-64zM572 260.5h2v2h-2zM386 260.5h10v2h-10zM656 262.5h30v2h-30zM630 262.5h20v2h-20zM462 262.5h12v2h-12zM570 262.5h8v2h-8zM596 262.5h14v2h-14zM384 262.5h10v2h-10zM658 264.5h28v2h-28zM634 264.5h12v2h-12zM384 264.5h8v2h-8zM594 264.5h14v2h-14zM570 264.5h10v2h-10zM460 264.5h12v2h-12zM660 266.5h26v2h-26zM458 266.5h12v2h-12zM570 266.5h12v2h-12zM382 266.5h8v2h-8zM636 266.5h8v2h-8zM592 266.5h14v2h-14zM456 268.5h12v2h-12zM590 268.5h16v2h-16zM382 268.5h6v2h-6zM570 268.5h14v2h-14zM638 268.5h4v2h-4zM664 268.5h22v2h-22zM454 270.5h12v2h-12zM380 270.5h8v2h-8zM672 270.5h14v2h-14zM380 272.5h6v2h-6zM452 272.5h12v2h-12zM450 274.5h12v2h-12zM378 274.5h8v2h-8zM570 270.5h36v8h-36zM448 276.5h12v2h-12zM376 276.5h8v2h-8zM446 278.5h12v2h-12zM570 278.5h38v2h-38zM376 278.5h6v2h-6zM372 280.5h10v2h-10zM570 280.5h40v2h-40zM444 280.5h12v2h-12zM370 282.5h10v2h-10zM570 282.5h42v2h-42zM442 282.5h12v2h-12zM440 284.5h12v2h-12zM366 284.5h12v2h-12zM570 284.5h52v2h-52zM630 284.5h10v2h-10zM570 286.5h26v2h-26zM602 286.5h42v2h-42zM438 286.5h12v2h-12zM362 286.5h12v2h-12zM436 288.5h12v2h-12zM358 288.5h12v2h-12zM604 288.5h42v2h-42zM570 288.5h24v2h-24zM632 290.5h16v2h-16zM606 290.5h16v2h-16zM434 290.5h12v2h-12zM356 290.5h12v2h-12zM570 290.5h22v2h-22zM634 292.5h16v2h-16zM356 292.5h10v2h-10zM572 292.5h16v2h-16zM432 292.5h12v2h-12zM608 292.5h10v2h-10zM430 294.5h12v2h-12zM638 294.5h32v2h-32zM354 294.5h8v2h-8zM610 294.5h6v2h-6zM572 294.5h10v2h-10zM352 296.5h10v2h-10zM428 296.5h12v2h-12zM642 296.5h32v2h-32zM350 298.5h10v2h-10zM646 298.5h30v2h-30zM424 298.5h14v2h-14zM348 300.5h10v2h-10zM420 300.5h16v2h-16zM656 300.5h22v2h-22zM418 302.5h16v2h-16zM346 302.5h10v2h-10zM416 304.5h16v2h-16zM668 302.5h10v6h-10zM344 304.5h10v4h-10zM414 306.5h16v2h-16zM412 308.5h16v2h-16zM666 308.5h12v2h-12zM342 308.5h10v4h-10zM664 310.5h12v2h-12zM410 310.5h16v2h-16zM662 312.5h14v2h-14zM342 312.5h8v2h-8zM410 312.5h14v2h-14zM340 314.5h10v2h-10zM408 314.5h14v2h-14zM660 314.5h14v4h-14zM340 316.5h8v2h-8zM408 316.5h12v2h-12zM338 318.5h8v2h-8zM658 318.5h14v2h-14zM406 318.5h12v2h-12zM336 320.5h8v2h-8zM656 320.5h14v2h-14zM404 320.5h12v2h-12zM402 322.5h12v2h-12zM334 322.5h8v2h-8zM654 322.5h14v2h-14zM332 324.5h8v2h-8zM650 324.5h16v2h-16zM154 324.5h8v2h-8zM400 324.5h12v2h-12zM646 326.5h18v2h-18zM398 326.5h12v2h-12zM330 326.5h10v2h-10zM154 326.5h10v2h-10zM642 328.5h20v2h-20zM154 328.5h12v2h-12zM328 328.5h10v2h-10zM396 328.5h12v2h-12zM394 330.5h14v2h-14zM638 330.5h22v2h-22zM326 330.5h10v2h-10zM154 330.5h14v4h-14zM636 332.5h22v2h-22zM392 332.5h14v2h-14zM322 332.5h10v2h-10zM154 334.5h16v2h-16zM388 334.5h16v2h-16zM318 334.5h12v2h-12zM636 334.5h20v2h-20zM634 336.5h20v2h-20zM154 336.5h20v2h-20zM386 336.5h16v2h-16zM314 336.5h14v2h-14zM582 338.5h8v2h-8zM634 338.5h16v2h-16zM154 338.5h48v2h-48zM384 338.5h14v2h-14zM310 338.5h16v2h-16zM382 340.5h14v2h-14zM308 340.5h16v2h-16zM634 340.5h14v2h-14zM154 340.5h52v4h-52zM580 340.5h12v4h-12zM632 342.5h16v2h-16zM380 342.5h14v2h-14zM306 342.5h16v2h-16zM632 344.5h14v2h-14zM154 344.5h54v2h-54zM302 344.5h12v2h-12zM378 344.5h16v2h-16zM580 344.5h14v4h-14zM154 346.5h56v2h-56zM300 346.5h10v2h-10zM376 346.5h16v2h-16zM630 346.5h14v2h-14zM296 348.5h12v2h-12zM154 348.5h58v2h-58zM580 348.5h16v2h-16zM366 348.5h24v2h-24zM628 348.5h14v2h-14zM198 350.5h16v2h-16zM358 350.5h30v2h-30zM680 350.5h6v2h-6zM268 350.5h38v2h-38zM580 350.5h60v2h-60zM180 350.5h14v2h-14zM580 352.5h58v2h-58zM264 352.5h42v2h-42zM354 352.5h30v2h-30zM676 352.5h10v2h-10zM202 352.5h16v2h-16zM580 354.5h56v2h-56zM348 354.5h34v2h-34zM204 354.5h16v2h-16zM674 354.5h12v2h-12zM262 354.5h42v2h-42zM206 356.5h14v2h-14zM262 356.5h40v2h-40zM578 356.5h56v2h-56zM344 356.5h36v2h-36zM672 356.5h14v4h-14zM340 358.5h38v2h-38zM576 358.5h56v2h-56zM208 358.5h14v2h-14zM260 358.5h40v2h-40zM670 360.5h16v2h-16zM260 360.5h38v2h-38zM336 360.5h40v2h-40zM570 360.5h60v2h-60zM210 360.5h14v2h-14zM668 362.5h18v2h-18zM212 362.5h14v2h-14zM562 362.5h66v2h-66zM260 362.5h36v2h-36zM332 362.5h42v2h-42zM214 364.5h14v2h-14zM652 364.5h34v2h-34zM546 364.5h38v2h-38zM332 364.5h28v2h-28zM260 364.5h34v4h-34zM154 366.5h4v2h-4zM216 366.5h16v2h-16zM544 366.5h32v2h-32zM330 366.5h28v2h-28zM648 366.5h38v4h-38zM154 368.5h8v2h-8zM218 368.5h16v2h-16zM328 368.5h28v2h-28zM256 368.5h36v2h-36zM544 368.5h26v2h-26zM544 370.5h24v2h-24zM154 370.5h12v2h-12zM246 370.5h44v2h-44zM646 370.5h40v2h-40zM324 370.5h28v2h-28zM220 370.5h16v2h-16zM644 372.5h42v2h-42zM316 372.5h34v2h-34zM222 372.5h64v2h-64zM546 372.5h24v2h-24zM154 372.5h14v4h-14zM224 374.5h58v2h-58zM314 374.5h28v2h-28zM642 374.5h44v2h-44zM552 374.5h18v2h-18zM638 376.5h48v2h-48zM226 376.5h54v2h-54zM154 376.5h16v2h-16zM558 376.5h16v2h-16zM310 376.5h24v2h-24zM232 378.5h8v2h-8zM272 378.5h4v2h-4zM562 378.5h14v2h-14zM598 378.5h88v2h-88zM306 378.5h26v2h-26zM304 380.5h26v2h-26zM154 378.5h14v6h-14zM594 380.5h92v4h-92zM564 380.5h14v4h-14zM300 382.5h28v2h-28zM154 384.5h16v2h-16zM592 384.5h94v2h-94zM566 384.5h14v2h-14zM298 384.5h26v2h-26zM294 386.5h26v2h-26zM154 386.5h20v2h-20zM590 386.5h96v2h-96zM566 386.5h16v2h-16zM566 388.5h18v2h-18zM586 388.5h100v2h-100zM290 388.5h18v2h-18zM164 388.5h14v2h-14zM168 390.5h14v2h-14zM626 390.5h42v2h-42zM286 390.5h18v2h-18zM566 390.5h36v2h-36zM566 392.5h32v2h-32zM172 392.5h14v2h-14zM630 392.5h32v2h-32zM284 392.5h16v2h-16zM566 394.5h30v2h-30zM280 394.5h18v2h-18zM632 394.5h30v2h-30zM176 394.5h12v2h-12zM632 396.5h28v2h-28zM180 396.5h10v2h-10zM252 396.5h42v2h-42zM566 396.5h28v4h-28zM634 398.5h26v2h-26zM182 398.5h10v2h-10zM248 398.5h42v2h-42zM244 400.5h44v2h-44zM184 400.5h12v2h-12zM636 400.5h24v2h-24zM186 402.5h12v2h-12zM638 402.5h22v2h-22zM238 402.5h48v2h-48zM232 404.5h54v2h-54zM188 404.5h12v2h-12zM642 404.5h18v2h-18zM190 406.5h16v2h-16zM226 406.5h58v2h-58zM644 406.5h16v4h-16zM192 408.5h92v2h-92zM566 400.5h26v12h-26zM646 410.5h14v2h-14zM196 410.5h86v2h-86zM568 412.5h24v2h-24zM200 412.5h76v2h-76zM646 412.5h16v4h-16zM206 414.5h16v2h-16zM570 414.5h22v2h-22zM572 416.5h20v2h-20zM646 416.5h22v2h-22zM576 418.5h16v2h-16zM578 420.5h16v4h-16zM578 424.5h18v2h-18zM576 426.5h24v2h-24zM574 428.5h34v2h-34zM572 430.5h42v2h-42zM594 432.5h22v2h-22zM570 432.5h14v2h-14zM602 434.5h16v2h-16zM568 434.5h14v2h-14zM646 418.5h40v20h-40zM566 436.5h14v2h-14zM604 436.5h14v2h-14zM564 438.5h14v2h-14zM644 438.5h42v2h-42zM562 440.5h16v2h-16zM642 440.5h44v2h-44zM640 442.5h46v2h-46zM560 442.5h14v2h-14zM558 444.5h14v2h-14zM638 444.5h14v2h-14zM668 444.5h18v2h-18zM636 446.5h14v2h-14zM556 446.5h14v2h-14zM670 446.5h16v2h-16zM634 448.5h14v2h-14zM672 448.5h14v4h-14zM554 448.5h14v4h-14zM634 450.5h12v2h-12zM674 452.5h12v2h-12zM554 452.5h12v4h-12zM676 454.5h10v2h-10zM680 456.5h6v2h-6zM606 438.5h14v26h-14zM632 452.5h14v12h-14zM552 456.5h14v10h-14zM630 464.5h16v2h-16zM606 464.5h16v2h-16zM550 466.5h14v2h-14zM606 466.5h40v4h-40zM548 468.5h14v2h-14zM586 470.5h20v2h-20zM646 470.5h20v2h-20zM546 470.5h14v2h-14zM612 470.5h28v2h-28zM542 472.5h16v2h-16zM646 472.5h24v2h-24zM620 472.5h12v2h-12zM582 472.5h24v4h-24zM542 474.5h14v2h-14zM646 474.5h26v4h-26zM540 476.5h14v2h-14zM538 478.5h16v2h-16zM644 478.5h28v4h-28zM536 480.5h18v2h-18zM580 476.5h26v8h-26zM640 482.5h32v2h-32zM534 482.5h20v2h-20zM588 484.5h18v2h-18zM572 484.5h8v2h-8zM638 484.5h34v2h-34zM532 484.5h20v2h-20zM590 486.5h16v2h-16zM636 486.5h36v2h-36zM530 486.5h22v2h-22zM568 486.5h12v4h-12zM634 488.5h38v2h-38zM528 488.5h24v2h-24zM592 488.5h14v2h-14zM526 490.5h26v2h-26zM594 490.5h12v2h-12zM568 490.5h10v4h-10zM632 490.5h42v4h-42zM524 492.5h28v2h-28zM594 492.5h10v2h-10zM630 494.5h46v2h-46zM596 494.5h6v2h-6zM522 494.5h28v2h-28zM570 494.5h6v2h-6zM626 496.5h56v2h-56zM520 496.5h24v2h-24zM624 498.5h62v2h-62zM154 498.5h36v2h-36zM516 498.5h16v2h-16zM622 500.5h64v2h-64zM154 500.5h38v2h-38zM514 500.5h16v2h-16zM514 502.5h14v2h-14zM512 504.5h14v2h-14zM510 506.5h14v2h-14zM508 508.5h14v2h-14zM504 510.5h16v2h-16zM502 512.5h16v2h-16zM500 514.5h16v2h-16zM154 502.5h40v16h-40zM500 516.5h14v2h-14zM498 518.5h14v2h-14zM154 518.5h38v2h-38zM154 520.5h36v2h-36zM496 520.5h14v2h-14zM154 522.5h34v2h-34zM494 522.5h14v2h-14zM492 524.5h14v2h-14zM490 526.5h14v2h-14zM620 502.5h66v28h-66zM488 528.5h14v4h-14zM618 530.5h68v4h-68zM486 532.5h16v2h-16zM486 534.5h18v2h-18zM616 534.5h70v2h-70zM486 536.5h38v2h-38zM614 536.5h72v2h-72zM486 538.5h50v2h-50zM612 538.5h74v2h-74zM610 540.5h76v2h-76zM486 540.5h52v4h-52zM608 542.5h78v2h-78zM606 544.5h80v2h-80zM484 544.5h56v4h-56zM154 546.5h6v2h-6zM604 546.5h82v2h-82zM154 548.5h16v2h-16zM602 548.5h84v2h-84zM482 548.5h58v2h-58zM154 550.5h60v2h-60zM586 550.5h100v2h-100zM480 550.5h60v2h-60zM154 552.5h64v2h-64zM478 552.5h12v2h-12zM582 552.5h104v2h-104zM496 552.5h44v2h-44zM498 554.5h42v2h-42zM164 554.5h56v2h-56zM476 554.5h12v2h-12zM168 556.5h52v2h-52zM500 556.5h40v2h-40zM474 556.5h12v2h-12zM500 558.5h38v2h-38zM472 558.5h14v2h-14zM172 558.5h48v2h-48zM500 560.5h36v2h-36zM470 560.5h14v2h-14zM178 560.5h42v2h-42zM580 554.5h106v10h-106zM186 562.5h34v2h-34zM468 562.5h14v2h-14zM500 562.5h34v2h-34zM580 564.5h18v2h-18zM500 564.5h30v2h-30zM190 564.5h30v2h-30zM466 564.5h12v2h-12zM600 564.5h78v2h-78zM558 564.5h2v2h-2zM464 566.5h12v2h-12zM580 566.5h16v2h-16zM604 566.5h70v2h-70zM556 566.5h8v2h-8zM192 566.5h28v2h-28zM500 566.5h28v4h-28zM580 568.5h14v2h-14zM462 568.5h12v2h-12zM194 568.5h26v2h-26zM606 568.5h68v2h-68zM608 570.5h64v2h-64zM460 570.5h14v2h-14zM500 570.5h26v2h-26zM196 570.5h24v4h-24zM500 572.5h24v2h-24zM610 572.5h60v2h-60zM458 572.5h14v2h-14zM580 570.5h12v6h-12zM612 574.5h56v2h-56zM456 574.5h14v2h-14zM198 574.5h22v2h-22zM500 574.5h22v2h-22zM554 568.5h12v10h-12zM500 576.5h20v2h-20zM202 576.5h18v2h-18zM454 576.5h14v2h-14zM500 578.5h16v2h-16zM204 578.5h16v2h-16zM452 578.5h12v2h-12zM580 576.5h10v6h-10zM552 578.5h14v4h-14zM450 580.5h12v2h-12zM500 580.5h14v4h-14zM552 582.5h16v2h-16zM448 582.5h14v2h-14zM578 582.5h12v2h-12zM206 580.5h14v6h-14zM448 584.5h12v2h-12zM500 584.5h12v2h-12zM576 584.5h12v2h-12zM552 584.5h18v2h-18zM502 586.5h8v2h-8zM204 586.5h16v2h-16zM550 586.5h36v2h-36zM202 588.5h18v2h-18zM548 588.5h36v2h-36zM200 590.5h20v2h-20zM544 590.5h36v2h-36zM542 592.5h16v2h-16zM570 592.5h4v2h-4zM198 592.5h22v2h-22zM540 594.5h16v2h-16zM196 594.5h24v2h-24zM446 586.5h14v18h-14zM194 596.5h26v8h-26zM540 596.5h14v8h-14z"/>
<path fill="#82dc14" d="M474 72.5h12v4h-12zM472 76.5h14v2h-14zM154 72.5h14v8h-14zM208 72.5h12v8h-12zM472 78.5h12v2h-12zM210 80.5h8v2h-8zM154 80.5h16v2h-16zM470 80.5h14v2h-14zM212 82.5h4v2h-4zM468 82.5h14v2h-14zM154 82.5h18v2h-18zM154 84.5h20v2h-20zM466 84.5h14v2h-14zM154 86.5h24v2h-24zM464 86.5h14v2h-14zM462 88.5h14v2h-14zM154 88.5h26v4h-26zM460 90.5h14v2h-14zM154 92.5h28v2h-28zM458 92.5h14v2h-14zM456 94.5h14v2h-14zM154 94.5h30v2h-30zM454 96.5h14v2h-14zM154 96.5h32v2h-32zM452 98.5h14v2h-14zM154 98.5h48v2h-48zM154 100.5h50v2h-50zM450 100.5h14v2h-14zM448 102.5h14v2h-14zM446 104.5h14v2h-14zM154 102.5h52v6h-52zM444 106.5h14v2h-14zM154 108.5h50v2h-50zM442 108.5h14v2h-14zM440 110.5h14v2h-14zM154 110.5h48v2h-48zM664 112.5h22v2h-22zM438 112.5h14v2h-14zM154 112.5h44v2h-44zM436 114.5h14v2h-14zM154 114.5h42v2h-42zM662 114.5h24v2h-24zM660 116.5h26v2h-26zM434 116.5h14v4h-14zM658 118.5h28v4h-28zM432 120.5h14v2h-14zM430 122.5h16v2h-16zM656 122.5h30v2h-30zM640 124.5h40v2h-40zM426 124.5h20v2h-20zM636 126.5h40v2h-40zM424 126.5h22v2h-22zM154 116.5h40v16h-40zM634 128.5h40v4h-40zM422 128.5h24v4h-24zM632 132.5h44v2h-44zM420 132.5h26v2h-26zM154 132.5h38v4h-38zM420 134.5h24v2h-24zM630 134.5h56v2h-56zM154 136.5h34v2h-34zM420 136.5h22v2h-22zM628 136.5h58v2h-58zM624 138.5h62v2h-62zM420 138.5h18v2h-18zM154 138.5h18v2h-18zM420 140.5h16v2h-16zM154 140.5h16v2h-16zM622 140.5h40v2h-40zM676 140.5h10v2h-10zM620 142.5h40v4h-40zM154 142.5h14v4h-14zM154 146.5h12v2h-12zM618 146.5h42v2h-42zM616 148.5h44v2h-44zM154 148.5h10v2h-10zM154 150.5h6v2h-6zM612 150.5h48v2h-48zM598 152.5h62v2h-62zM420 142.5h14v14h-14zM594 154.5h66v4h-66zM420 156.5h12v2h-12zM418 158.5h14v2h-14zM592 158.5h70v2h-70zM590 160.5h72v2h-72zM416 160.5h14v2h-14zM414 162.5h14v2h-14zM588 162.5h78v2h-78zM652 164.5h34v2h-34zM624 164.5h18v2h-18zM562 164.5h40v2h-40zM412 164.5h14v2h-14zM654 166.5h32v2h-32zM410 166.5h14v2h-14zM558 166.5h40v2h-40zM628 166.5h10v4h-10zM408 168.5h14v2h-14zM556 168.5h40v2h-40zM658 168.5h28v4h-28zM554 170.5h40v2h-40zM406 170.5h14v4h-14zM552 172.5h42v2h-42zM628 170.5h8v6h-8zM660 172.5h26v4h-26zM550 174.5h42v2h-42zM404 174.5h14v2h-14zM626 176.5h10v2h-10zM548 176.5h44v2h-44zM402 176.5h16v2h-16zM624 178.5h10v2h-10zM534 178.5h58v2h-58zM398 178.5h20v2h-20zM396 180.5h22v2h-22zM532 180.5h60v2h-60zM622 180.5h12v2h-12zM620 182.5h14v2h-14zM620 184.5h12v2h-12zM394 182.5h22v6h-22zM618 186.5h14v2h-14zM662 176.5h24v14h-24zM530 182.5h62v8h-62zM618 188.5h12v2h-12zM394 188.5h20v2h-20zM618 190.5h10v2h-10zM660 190.5h26v2h-26zM394 190.5h18v2h-18zM394 192.5h16v2h-16zM616 192.5h10v2h-10zM656 192.5h30v2h-30zM652 194.5h34v2h-34zM528 190.5h62v8h-62zM616 194.5h8v4h-8zM394 194.5h14v4h-14zM648 196.5h38v2h-38zM616 198.5h10v2h-10zM646 198.5h40v2h-40zM526 198.5h62v4h-62zM644 200.5h42v2h-42zM618 200.5h10v2h-10zM618 202.5h18v2h-18zM526 202.5h60v2h-60zM642 202.5h20v2h-20zM676 202.5h10v2h-10zM620 204.5h38v2h-38zM526 204.5h34v2h-34zM526 206.5h30v2h-30zM624 206.5h34v2h-34zM394 198.5h12v12h-12zM628 208.5h28v2h-28zM526 208.5h28v4h-28zM392 210.5h14v2h-14zM632 210.5h24v2h-24zM526 212.5h26v2h-26zM392 212.5h12v2h-12zM636 212.5h20v2h-20zM524 214.5h26v2h-26zM390 214.5h12v2h-12zM642 214.5h16v2h-16zM388 216.5h12v2h-12zM646 216.5h12v2h-12zM522 216.5h26v2h-26zM386 218.5h12v2h-12zM518 218.5h26v2h-26zM648 218.5h12v2h-12zM516 220.5h26v2h-26zM648 220.5h18v2h-18zM384 220.5h12v2h-12zM382 222.5h14v2h-14zM648 222.5h22v4h-22zM514 222.5h26v4h-26zM646 226.5h24v2h-24zM512 226.5h28v2h-28zM644 228.5h26v2h-26zM510 228.5h30v2h-30zM508 230.5h32v2h-32zM640 230.5h26v2h-26zM504 232.5h36v2h-36zM636 232.5h28v2h-28zM502 234.5h38v2h-38zM632 234.5h12v2h-12zM568 234.5h6v2h-6zM654 234.5h10v2h-10zM656 236.5h6v2h-6zM500 236.5h40v2h-40zM630 236.5h10v2h-10zM566 236.5h8v4h-8zM630 238.5h8v2h-8zM500 238.5h38v2h-38zM654 238.5h8v4h-8zM498 240.5h40v2h-40zM564 240.5h12v2h-12zM628 240.5h10v2h-10zM496 242.5h40v2h-40zM562 242.5h14v2h-14zM626 242.5h14v2h-14zM652 242.5h8v2h-8zM624 244.5h36v2h-36zM494 244.5h26v2h-26zM558 244.5h18v2h-18zM490 246.5h26v2h-26zM618 246.5h40v2h-40zM556 246.5h20v2h-20zM380 224.5h14v26h-14zM610 248.5h48v2h-48zM488 248.5h26v2h-26zM554 248.5h22v4h-22zM486 250.5h26v2h-26zM606 250.5h52v2h-52zM380 250.5h12v4h-12zM484 252.5h26v2h-26zM556 252.5h22v2h-22zM602 252.5h56v2h-56zM558 254.5h22v2h-22zM678 254.5h8v2h-8zM630 254.5h18v2h-18zM598 254.5h14v2h-14zM378 254.5h12v2h-12zM482 254.5h26v2h-26zM652 254.5h10v2h-10zM594 256.5h14v2h-14zM656 256.5h10v2h-10zM670 256.5h16v2h-16zM560 256.5h22v2h-22zM378 256.5h10v2h-10zM480 256.5h26v2h-26zM590 258.5h14v2h-14zM660 258.5h26v2h-26zM478 258.5h14v2h-14zM560 258.5h24v2h-24zM378 258.5h8v4h-8zM574 260.5h26v2h-26zM562 260.5h10v2h-10zM664 260.5h22v2h-22zM476 260.5h14v2h-14zM578 262.5h18v2h-18zM474 262.5h14v2h-14zM376 262.5h8v4h-8zM472 264.5h14v2h-14zM580 264.5h14v2h-14zM582 266.5h10v2h-10zM470 266.5h14v2h-14zM374 266.5h8v4h-8zM468 268.5h14v2h-14zM584 268.5h6v2h-6zM466 270.5h14v2h-14zM372 270.5h8v2h-8zM464 272.5h14v2h-14zM370 272.5h10v2h-10zM462 274.5h14v2h-14zM368 274.5h10v2h-10zM460 276.5h14v2h-14zM366 276.5h10v2h-10zM458 278.5h14v2h-14zM364 278.5h12v2h-12zM360 280.5h12v2h-12zM456 280.5h14v2h-14zM356 282.5h14v2h-14zM454 282.5h14v2h-14zM452 284.5h14v2h-14zM352 284.5h14v2h-14zM562 262.5h8v26h-8zM596 286.5h6v2h-6zM450 286.5h14v2h-14zM352 286.5h10v2h-10zM594 288.5h10v2h-10zM448 288.5h14v2h-14zM350 288.5h8v2h-8zM564 288.5h6v4h-6zM350 290.5h6v2h-6zM622 290.5h10v2h-10zM592 290.5h14v2h-14zM446 290.5h14v2h-14zM444 292.5h14v2h-14zM618 292.5h16v2h-16zM588 292.5h20v2h-20zM348 292.5h8v2h-8zM564 292.5h8v2h-8zM582 294.5h28v2h-28zM616 294.5h22v2h-22zM566 294.5h6v2h-6zM344 294.5h10v2h-10zM442 294.5h14v2h-14zM440 296.5h14v2h-14zM340 296.5h12v2h-12zM566 296.5h76v2h-76zM566 298.5h30v2h-30zM340 298.5h10v2h-10zM600 298.5h46v2h-46zM438 298.5h14v2h-14zM602 300.5h54v2h-54zM436 300.5h14v2h-14zM338 300.5h10v2h-10zM568 300.5h20v2h-20zM434 302.5h14v2h-14zM338 302.5h8v2h-8zM604 302.5h64v2h-64zM568 302.5h14v2h-14zM432 304.5h14v2h-14zM336 304.5h8v4h-8zM570 304.5h10v4h-10zM606 304.5h62v4h-62zM430 306.5h14v2h-14zM334 308.5h8v2h-8zM634 308.5h32v2h-32zM428 308.5h14v2h-14zM606 308.5h18v2h-18zM570 308.5h8v2h-8zM426 310.5h14v2h-14zM322 310.5h20v2h-20zM636 310.5h28v2h-28zM154 310.5h18v2h-18zM572 310.5h6v4h-6zM606 310.5h16v4h-16zM636 312.5h26v2h-26zM424 312.5h14v2h-14zM154 312.5h22v2h-22zM318 312.5h24v2h-24zM422 314.5h14v2h-14zM316 314.5h24v2h-24zM154 314.5h24v2h-24zM572 314.5h4v4h-4zM606 314.5h14v4h-14zM636 314.5h24v4h-24zM420 316.5h14v2h-14zM314 316.5h26v2h-26zM154 316.5h26v2h-26zM634 318.5h24v2h-24zM418 318.5h14v2h-14zM154 318.5h28v2h-28zM312 318.5h26v2h-26zM572 318.5h6v2h-6zM604 318.5h16v2h-16zM570 320.5h12v2h-12zM312 320.5h24v2h-24zM416 320.5h16v2h-16zM600 320.5h22v2h-22zM632 320.5h24v2h-24zM154 320.5h30v2h-30zM570 322.5h16v2h-16zM414 322.5h14v2h-14zM154 322.5h32v2h-32zM308 322.5h26v2h-26zM590 322.5h64v2h-64zM162 324.5h78v2h-78zM568 324.5h82v2h-82zM412 324.5h14v2h-14zM306 324.5h26v2h-26zM410 326.5h14v2h-14zM164 326.5h80v2h-80zM568 326.5h78v2h-78zM304 326.5h26v2h-26zM568 328.5h74v2h-74zM302 328.5h26v2h-26zM166 328.5h80v2h-80zM408 328.5h14v4h-14zM300 330.5h26v2h-26zM568 330.5h70v2h-70zM168 330.5h78v2h-78zM298 332.5h24v2h-24zM406 332.5h16v2h-16zM168 332.5h80v2h-80zM566 332.5h70v4h-70zM298 334.5h20v2h-20zM170 334.5h80v2h-80zM404 334.5h20v2h-20zM402 336.5h24v2h-24zM294 336.5h20v2h-20zM566 336.5h68v2h-68zM174 336.5h80v2h-80zM546 338.5h4v2h-4zM564 338.5h18v2h-18zM590 338.5h44v2h-44zM202 338.5h108v2h-108zM398 338.5h30v2h-30zM544 340.5h36v2h-36zM592 340.5h42v2h-42zM396 340.5h34v2h-34zM206 340.5h102v2h-102zM592 342.5h40v2h-40zM542 342.5h38v2h-38zM206 342.5h100v2h-100zM394 342.5h38v4h-38zM540 344.5h40v2h-40zM208 344.5h94v2h-94zM594 344.5h38v2h-38zM538 346.5h42v2h-42zM594 346.5h36v2h-36zM210 346.5h90v2h-90zM392 346.5h38v2h-38zM596 348.5h32v2h-32zM536 348.5h44v2h-44zM212 348.5h84v2h-84zM390 348.5h38v2h-38zM214 350.5h54v2h-54zM388 350.5h26v2h-26zM534 350.5h46v2h-46zM218 352.5h46v2h-46zM384 352.5h26v2h-26zM532 352.5h48v4h-48zM382 354.5h26v2h-26zM220 354.5h42v4h-42zM380 356.5h26v2h-26zM530 356.5h48v2h-48zM222 358.5h38v2h-38zM378 358.5h28v2h-28zM530 358.5h46v2h-46zM532 360.5h38v2h-38zM376 360.5h28v2h-28zM224 360.5h36v2h-36zM532 362.5h30v2h-30zM374 362.5h28v2h-28zM226 362.5h34v2h-34zM360 364.5h26v2h-26zM534 364.5h12v2h-12zM228 364.5h32v2h-32zM358 366.5h26v2h-26zM232 366.5h28v2h-28zM356 368.5h26v2h-26zM234 368.5h22v2h-22zM536 366.5h8v6h-8zM236 370.5h10v2h-10zM352 370.5h28v2h-28zM350 372.5h28v2h-28zM538 372.5h8v2h-8zM538 374.5h14v2h-14zM342 374.5h34v2h-34zM540 376.5h18v2h-18zM334 376.5h38v2h-38zM332 378.5h24v2h-24zM542 378.5h20v2h-20zM330 380.5h18v2h-18zM546 380.5h18v2h-18zM328 382.5h14v2h-14zM550 382.5h14v2h-14zM324 384.5h16v2h-16zM320 386.5h16v2h-16zM154 388.5h10v2h-10zM308 388.5h22v2h-22zM668 390.5h18v2h-18zM154 390.5h14v2h-14zM602 390.5h24v2h-24zM304 390.5h22v2h-22zM300 392.5h22v2h-22zM598 392.5h32v2h-32zM154 392.5h18v2h-18zM662 392.5h24v4h-24zM298 394.5h10v2h-10zM596 394.5h36v2h-36zM162 394.5h14v2h-14zM294 396.5h10v2h-10zM166 396.5h14v2h-14zM594 396.5h38v2h-38zM168 398.5h14v2h-14zM594 398.5h40v2h-40zM290 398.5h10v2h-10zM170 400.5h14v2h-14zM288 400.5h10v2h-10zM592 400.5h44v2h-44zM592 402.5h46v2h-46zM286 402.5h10v2h-10zM172 402.5h14v2h-14zM592 404.5h50v2h-50zM174 404.5h14v2h-14zM286 404.5h8v2h-8zM176 406.5h14v2h-14zM284 406.5h8v2h-8zM552 384.5h14v26h-14zM592 406.5h52v4h-52zM284 408.5h6v2h-6zM180 408.5h12v2h-12zM660 396.5h26v16h-26zM554 410.5h12v2h-12zM282 410.5h8v2h-8zM182 410.5h14v2h-14zM186 412.5h14v2h-14zM554 412.5h14v2h-14zM276 412.5h12v2h-12zM662 412.5h24v4h-24zM190 414.5h16v2h-16zM222 414.5h62v2h-62zM554 414.5h16v2h-16zM194 416.5h86v2h-86zM554 416.5h18v2h-18zM668 416.5h18v2h-18zM592 410.5h54v10h-54zM198 418.5h74v2h-74zM554 418.5h22v2h-22zM202 420.5h26v2h-26zM594 420.5h52v4h-52zM204 422.5h18v2h-18zM554 420.5h24v6h-24zM596 424.5h50v2h-50zM208 424.5h12v2h-12zM210 426.5h8v2h-8zM600 426.5h46v2h-46zM554 426.5h22v2h-22zM554 428.5h20v2h-20zM608 428.5h38v2h-38zM212 428.5h2v2h-2zM552 430.5h20v2h-20zM614 430.5h32v2h-32zM552 432.5h18v2h-18zM616 432.5h30v2h-30zM552 434.5h16v2h-16zM618 434.5h28v4h-28zM552 436.5h14v2h-14zM550 438.5h14v2h-14zM620 438.5h24v2h-24zM620 440.5h22v2h-22zM550 440.5h12v2h-12zM620 442.5h20v2h-20zM548 442.5h12v2h-12zM620 444.5h18v2h-18zM546 444.5h12v2h-12zM620 446.5h16v2h-16zM544 446.5h12v2h-12zM542 448.5h12v2h-12zM620 448.5h14v4h-14zM540 450.5h14v2h-14zM538 452.5h16v2h-16zM536 454.5h18v2h-18zM534 456.5h18v2h-18zM532 458.5h20v2h-20zM530 460.5h22v2h-22zM620 452.5h12v12h-12zM528 462.5h24v2h-24zM526 464.5h26v2h-26zM622 464.5h8v2h-8zM526 466.5h24v2h-24zM526 468.5h22v2h-22zM154 470.5h6v2h-6zM526 470.5h20v2h-20zM184 472.5h6v2h-6zM154 472.5h10v2h-10zM526 472.5h16v4h-16zM154 474.5h12v2h-12zM182 474.5h10v2h-10zM526 476.5h14v2h-14zM180 476.5h14v2h-14zM154 476.5h14v4h-14zM180 478.5h16v2h-16zM524 478.5h14v2h-14zM522 480.5h14v2h-14zM178 480.5h18v2h-18zM154 480.5h16v2h-16zM520 482.5h14v2h-14zM154 482.5h46v2h-46zM516 484.5h16v2h-16zM226 484.5h4v2h-4zM154 484.5h48v2h-48zM224 486.5h14v2h-14zM154 486.5h50v2h-50zM508 486.5h22v2h-22zM154 488.5h52v2h-52zM222 488.5h22v2h-22zM504 488.5h24v2h-24zM500 490.5h26v2h-26zM222 490.5h24v2h-24zM154 490.5h54v4h-54zM220 492.5h28v2h-28zM498 492.5h26v2h-26zM154 494.5h56v2h-56zM220 494.5h30v2h-30zM496 494.5h26v2h-26zM220 496.5h36v2h-36zM494 496.5h26v2h-26zM154 496.5h64v2h-64zM492 498.5h24v2h-24zM190 498.5h30v2h-30zM230 498.5h40v2h-40zM232 500.5h40v2h-40zM192 500.5h28v2h-28zM492 500.5h22v2h-22zM490 502.5h24v2h-24zM234 502.5h40v4h-40zM490 504.5h22v2h-22zM490 506.5h20v2h-20zM236 506.5h40v2h-40zM238 508.5h40v2h-40zM490 508.5h18v2h-18zM488 510.5h16v2h-16zM254 510.5h28v2h-28zM488 512.5h14v2h-14zM258 512.5h26v2h-26zM488 514.5h12v2h-12zM258 514.5h28v2h-28zM194 502.5h26v16h-26zM486 516.5h14v2h-14zM260 516.5h26v4h-26zM192 518.5h28v2h-28zM484 518.5h14v2h-14zM482 520.5h14v2h-14zM260 520.5h24v2h-24zM190 520.5h28v2h-28zM188 522.5h28v2h-28zM480 522.5h14v2h-14zM260 522.5h20v2h-20zM252 524.5h8v2h-8zM154 524.5h58v2h-58zM478 524.5h14v2h-14zM250 526.5h10v2h-10zM154 526.5h56v2h-56zM476 526.5h14v2h-14zM476 528.5h12v2h-12zM154 528.5h54v4h-54zM248 528.5h12v4h-12zM474 530.5h14v2h-14zM154 532.5h56v2h-56zM250 532.5h8v2h-8zM252 534.5h4v2h-4zM154 534.5h58v2h-58zM154 536.5h68v2h-68zM154 538.5h76v2h-76zM474 532.5h12v10h-12zM154 540.5h78v2h-78zM472 542.5h14v2h-14zM154 542.5h80v4h-80zM472 544.5h12v2h-12zM470 546.5h14v2h-14zM160 546.5h74v2h-74zM170 548.5h64v2h-64zM468 548.5h14v2h-14zM214 550.5h20v2h-20zM466 550.5h14v2h-14zM464 552.5h14v2h-14zM218 552.5h16v2h-16zM462 554.5h14v2h-14zM460 556.5h14v2h-14zM458 558.5h14v2h-14zM456 560.5h14v2h-14zM454 562.5h14v2h-14zM678 564.5h8v2h-8zM452 564.5h14v2h-14zM598 564.5h2v2h-2zM450 566.5h14v2h-14zM596 566.5h8v2h-8zM674 566.5h12v4h-12zM448 568.5h14v2h-14zM594 568.5h12v2h-12zM592 570.5h16v2h-16zM446 570.5h14v2h-14zM672 570.5h14v2h-14zM670 572.5h16v2h-16zM444 572.5h14v2h-14zM592 572.5h18v2h-18zM668 574.5h18v2h-18zM592 574.5h20v2h-20zM442 574.5h14v2h-14zM350 576.5h6v2h-6zM440 576.5h14v2h-14zM590 576.5h96v4h-96zM344 578.5h16v2h-16zM438 578.5h14v2h-14zM436 580.5h14v2h-14zM590 580.5h8v2h-8zM604 580.5h82v2h-82zM342 580.5h20v4h-20zM590 582.5h6v2h-6zM606 582.5h80v4h-80zM434 582.5h14v4h-14zM588 584.5h8v2h-8zM344 584.5h18v2h-18zM608 586.5h78v2h-78zM586 586.5h10v2h-10zM350 586.5h12v2h-12zM612 588.5h74v2h-74zM584 588.5h10v2h-10zM580 590.5h14v2h-14zM628 590.5h36v2h-36zM558 592.5h12v2h-12zM574 592.5h18v2h-18zM632 592.5h28v2h-28zM556 594.5h36v2h-36zM636 594.5h22v2h-22zM636 596.5h20v2h-20zM554 596.5h36v2h-36zM220 554.5h14v50h-14zM434 586.5h12v18h-12zM638 598.5h16v6h-16zM554 598.5h34v6h-34z"/>
<path fill="#ffd200" d="M446 72.5h14v6h-14zM446 78.5h12v2h-12zM444 80.5h12v2h-12zM286 72.5h80v12h-80zM442 82.5h14v2h-14zM286 84.5h22v2h-22zM438 84.5h16v2h-16zM318 84.5h48v2h-48zM324 86.5h42v2h-42zM436 86.5h16v2h-16zM286 86.5h18v2h-18zM286 88.5h16v2h-16zM434 88.5h16v2h-16zM326 88.5h40v4h-40zM434 90.5h14v2h-14zM286 90.5h14v4h-14zM432 92.5h14v2h-14zM328 92.5h38v2h-38zM430 94.5h14v2h-14zM284 94.5h14v2h-14zM330 94.5h36v2h-36zM280 96.5h16v2h-16zM332 96.5h34v2h-34zM428 96.5h14v2h-14zM426 98.5h14v2h-14zM348 98.5h18v2h-18zM252 98.5h42v2h-42zM350 100.5h16v2h-16zM250 100.5h40v2h-40zM424 100.5h14v2h-14zM352 102.5h14v2h-14zM422 102.5h14v2h-14zM248 102.5h42v2h-42zM420 104.5h14v2h-14zM246 104.5h42v2h-42zM354 104.5h12v2h-12zM246 106.5h40v2h-40zM354 106.5h10v2h-10zM418 106.5h14v2h-14zM416 108.5h14v2h-14zM244 108.5h40v2h-40zM356 108.5h6v2h-6zM414 110.5h14v2h-14zM240 110.5h42v2h-42zM224 112.5h54v2h-54zM412 112.5h14v2h-14zM222 114.5h54v2h-54zM410 114.5h14v2h-14zM408 116.5h14v2h-14zM222 116.5h52v2h-52zM220 118.5h54v2h-54zM406 118.5h14v2h-14zM406 120.5h12v2h-12zM218 120.5h54v2h-54zM216 122.5h54v2h-54zM404 122.5h12v2h-12zM404 124.5h10v2h-10zM214 124.5h52v2h-52zM210 126.5h54v2h-54zM404 126.5h8v4h-8zM208 128.5h54v2h-54zM404 130.5h6v2h-6zM208 130.5h52v4h-52zM402 132.5h8v4h-8zM208 134.5h50v2h-50zM400 136.5h10v2h-10zM208 136.5h46v2h-46zM208 138.5h32v2h-32zM400 138.5h8v2h-8zM208 140.5h28v2h-28zM398 140.5h10v4h-10zM206 142.5h30v2h-30zM206 144.5h28v2h-28zM396 144.5h10v4h-10zM204 146.5h30v2h-30zM202 148.5h32v2h-32zM394 148.5h10v2h-10zM394 150.5h8v2h-8zM200 150.5h34v2h-34zM234 152.5h8v2h-8zM198 152.5h14v2h-14zM264 152.5h6v2h-6zM392 152.5h8v2h-8zM392 154.5h6v2h-6zM234 154.5h10v2h-10zM196 154.5h14v2h-14zM302 156.5h6v2h-6zM390 156.5h8v2h-8zM194 156.5h14v4h-14zM234 156.5h12v4h-12zM388 158.5h8v2h-8zM262 154.5h10v8h-10zM236 160.5h8v2h-8zM192 160.5h16v2h-16zM386 160.5h10v2h-10zM300 158.5h10v6h-10zM384 162.5h10v2h-10zM266 162.5h4v2h-4zM238 162.5h4v2h-4zM190 162.5h18v2h-18zM380 164.5h12v2h-12zM376 166.5h14v2h-14zM300 164.5h12v6h-12zM154 164.5h54v6h-54zM372 168.5h14v2h-14zM300 170.5h14v2h-14zM368 170.5h14v2h-14zM154 170.5h52v4h-52zM366 172.5h14v2h-14zM364 174.5h16v2h-16zM154 174.5h50v2h-50zM154 176.5h48v2h-48zM362 176.5h18v2h-18zM302 172.5h12v8h-12zM154 178.5h44v2h-44zM360 178.5h20v2h-20zM154 180.5h42v4h-42zM304 180.5h10v4h-10zM304 184.5h8v2h-8zM358 180.5h22v8h-22zM306 186.5h6v2h-6zM308 188.5h2v2h-2zM360 188.5h20v2h-20zM362 190.5h18v2h-18zM364 192.5h16v4h-16zM598 194.5h6v2h-6zM598 196.5h8v2h-8zM366 196.5h14v4h-14zM364 200.5h16v2h-16zM362 202.5h18v2h-18zM596 198.5h10v8h-10zM360 204.5h20v2h-20zM358 206.5h22v2h-22zM594 206.5h12v4h-12zM356 208.5h24v2h-24zM154 184.5h40v28h-40zM666 210.5h4v2h-4zM354 210.5h26v2h-26zM592 210.5h14v2h-14zM354 212.5h24v2h-24zM592 212.5h16v2h-16zM154 212.5h38v4h-38zM590 214.5h20v2h-20zM354 214.5h22v2h-22zM354 216.5h20v2h-20zM154 216.5h34v2h-34zM588 216.5h24v2h-24zM584 218.5h44v2h-44zM354 218.5h18v2h-18zM354 220.5h16v2h-16zM582 220.5h54v2h-54zM354 222.5h14v4h-14zM580 222.5h60v4h-60zM580 226.5h54v2h-54zM580 228.5h50v2h-50zM580 230.5h46v2h-46zM580 232.5h44v2h-44zM354 226.5h12v10h-12zM590 234.5h32v2h-32zM592 236.5h28v2h-28zM580 234.5h6v6h-6zM352 236.5h14v4h-14zM590 238.5h26v2h-26zM350 240.5h14v2h-14zM580 240.5h32v2h-32zM348 242.5h14v2h-14zM580 242.5h24v2h-24zM346 244.5h14v2h-14zM582 244.5h18v2h-18zM344 246.5h14v2h-14zM582 246.5h14v2h-14zM666 246.5h2v2h-2zM342 248.5h14v2h-14zM582 248.5h12v2h-12zM666 248.5h4v2h-4zM340 250.5h14v2h-14zM584 250.5h8v2h-8zM666 250.5h2v2h-2zM338 252.5h14v2h-14zM336 254.5h14v2h-14zM334 256.5h14v2h-14zM154 258.5h22v2h-22zM332 258.5h14v2h-14zM516 260.5h8v2h-8zM154 260.5h24v2h-24zM330 260.5h14v2h-14zM542 260.5h8v2h-8zM328 262.5h14v2h-14zM514 262.5h12v4h-12zM154 262.5h26v4h-26zM540 262.5h12v4h-12zM326 264.5h14v2h-14zM538 266.5h14v2h-14zM154 266.5h28v2h-28zM512 266.5h16v2h-16zM324 266.5h14v2h-14zM154 268.5h30v2h-30zM510 268.5h20v2h-20zM536 268.5h16v2h-16zM322 268.5h14v2h-14zM500 270.5h52v2h-52zM154 270.5h34v2h-34zM320 270.5h14v2h-14zM154 272.5h36v2h-36zM492 272.5h60v2h-60zM318 272.5h14v2h-14zM154 274.5h38v2h-38zM490 274.5h62v2h-62zM316 274.5h14v2h-14zM488 276.5h64v2h-64zM314 276.5h14v2h-14zM154 276.5h40v4h-40zM486 278.5h66v2h-66zM312 278.5h14v2h-14zM310 280.5h14v2h-14zM154 280.5h42v2h-42zM484 280.5h68v2h-68zM308 282.5h14v2h-14zM154 282.5h44v2h-44zM482 282.5h70v2h-70zM294 284.5h26v2h-26zM506 284.5h46v2h-46zM154 284.5h60v2h-60zM480 284.5h14v2h-14zM510 286.5h44v2h-44zM154 286.5h64v2h-64zM478 286.5h12v2h-12zM290 286.5h28v2h-28zM476 288.5h12v2h-12zM288 288.5h28v2h-28zM154 288.5h66v4h-66zM474 290.5h12v2h-12zM286 290.5h28v2h-28zM512 288.5h42v6h-42zM284 292.5h28v2h-28zM154 292.5h68v2h-68zM472 292.5h14v2h-14zM514 294.5h42v2h-42zM154 294.5h70v2h-70zM470 294.5h14v2h-14zM282 294.5h28v2h-28zM280 296.5h28v2h-28zM468 296.5h14v2h-14zM154 296.5h72v2h-72zM514 296.5h44v2h-44zM466 298.5h12v2h-12zM514 298.5h18v2h-18zM534 298.5h26v2h-26zM202 298.5h90v2h-90zM464 300.5h12v2h-12zM204 300.5h86v2h-86zM538 300.5h22v2h-22zM206 302.5h82v2h-82zM538 302.5h24v2h-24zM462 302.5h12v2h-12zM208 304.5h80v2h-80zM514 300.5h14v8h-14zM540 304.5h22v4h-22zM210 306.5h78v2h-78zM514 308.5h16v2h-16zM212 308.5h76v2h-76zM540 308.5h24v2h-24zM238 310.5h50v2h-50zM542 310.5h22v2h-22zM244 312.5h42v2h-42zM550 312.5h14v4h-14zM246 314.5h40v2h-40zM460 304.5h14v14h-14zM514 310.5h26v8h-26zM552 316.5h12v2h-12zM248 316.5h38v4h-38zM550 318.5h14v2h-14zM514 318.5h28v2h-28zM458 318.5h16v4h-16zM250 320.5h34v2h-34zM514 320.5h50v2h-50zM456 322.5h18v2h-18zM254 322.5h28v2h-28zM452 324.5h22v2h-22zM514 322.5h48v6h-48zM450 326.5h24v2h-24zM550 328.5h12v2h-12zM448 328.5h26v2h-26zM514 328.5h28v2h-28zM448 330.5h24v2h-24zM554 330.5h6v2h-6zM514 330.5h26v2h-26zM514 332.5h24v2h-24zM446 332.5h26v2h-26zM446 334.5h24v2h-24zM514 334.5h22v2h-22zM446 336.5h22v2h-22zM514 336.5h20v2h-20zM514 338.5h16v2h-16zM446 338.5h18v2h-18zM446 340.5h16v2h-16zM514 340.5h14v4h-14zM446 342.5h14v4h-14zM514 344.5h12v4h-12zM444 346.5h16v2h-16zM442 348.5h18v2h-18zM440 350.5h20v2h-20zM438 352.5h22v2h-22zM436 354.5h24v2h-24zM434 356.5h26v2h-26zM432 358.5h28v2h-28zM430 360.5h30v2h-30zM428 362.5h32v2h-32zM426 364.5h34v2h-34zM514 348.5h10v20h-10zM422 366.5h38v4h-38zM420 370.5h40v2h-40zM420 372.5h38v2h-38zM420 374.5h36v2h-36zM420 376.5h32v2h-32zM420 378.5h18v2h-18zM420 380.5h16v2h-16zM420 382.5h14v6h-14zM420 388.5h16v2h-16zM362 390.5h10v2h-10zM424 390.5h12v2h-12zM402 390.5h18v2h-18zM356 392.5h20v2h-20zM426 392.5h10v2h-10zM396 392.5h24v4h-24zM354 394.5h24v2h-24zM514 368.5h12v30h-12zM354 396.5h26v2h-26zM328 396.5h12v2h-12zM350 398.5h32v2h-32zM514 398.5h14v2h-14zM326 398.5h16v2h-16zM428 394.5h8v8h-8zM318 400.5h64v2h-64zM514 400.5h16v2h-16zM394 396.5h26v8h-26zM426 402.5h10v2h-10zM310 402.5h76v2h-76zM514 402.5h18v2h-18zM514 404.5h20v2h-20zM420 404.5h16v2h-16zM306 404.5h88v2h-88zM304 406.5h90v2h-90zM514 406.5h24v4h-24zM302 408.5h16v2h-16zM324 408.5h20v2h-20zM350 408.5h44v2h-44zM420 406.5h14v6h-14zM326 410.5h14v2h-14zM300 410.5h14v2h-14zM354 410.5h40v4h-40zM514 410.5h26v4h-26zM296 412.5h16v2h-16zM328 412.5h10v2h-10zM420 412.5h16v4h-16zM356 414.5h38v2h-38zM292 414.5h18v2h-18zM516 414.5h24v2h-24zM330 414.5h6v2h-6zM360 416.5h34v2h-34zM290 416.5h18v2h-18zM520 416.5h20v2h-20zM420 416.5h20v2h-20zM172 418.5h6v2h-6zM420 418.5h22v2h-22zM286 418.5h16v2h-16zM362 418.5h32v2h-32zM522 418.5h18v2h-18zM364 420.5h30v2h-30zM170 420.5h16v2h-16zM282 420.5h12v2h-12zM420 420.5h24v2h-24zM524 420.5h16v2h-16zM278 422.5h12v2h-12zM168 422.5h22v2h-22zM420 422.5h26v4h-26zM526 422.5h14v4h-14zM366 422.5h28v4h-28zM168 424.5h24v2h-24zM274 424.5h14v2h-14zM364 426.5h30v2h-30zM524 426.5h16v2h-16zM272 426.5h16v2h-16zM362 428.5h32v2h-32zM522 428.5h18v2h-18zM270 428.5h18v2h-18zM418 426.5h28v6h-28zM348 430.5h46v2h-46zM520 430.5h20v2h-20zM228 430.5h60v2h-60zM344 432.5h50v2h-50zM418 432.5h8v2h-8zM226 432.5h60v2h-60zM430 432.5h16v2h-16zM516 432.5h24v2h-24zM432 434.5h14v2h-14zM342 434.5h52v2h-52zM224 434.5h62v2h-62zM514 434.5h26v2h-26zM168 426.5h26v12h-26zM222 436.5h64v2h-64zM432 436.5h16v2h-16zM416 434.5h8v6h-8zM514 436.5h24v4h-24zM340 436.5h52v4h-52zM434 438.5h14v2h-14zM168 438.5h24v4h-24zM340 440.5h50v2h-50zM514 440.5h22v2h-22zM434 440.5h16v2h-16zM220 438.5h66v6h-66zM414 440.5h8v4h-8zM168 442.5h20v2h-20zM434 442.5h18v2h-18zM514 442.5h20v2h-20zM340 442.5h48v2h-48zM332 444.5h8v2h-8zM220 444.5h20v2h-20zM514 444.5h16v2h-16zM348 444.5h36v2h-36zM434 444.5h22v2h-22zM168 444.5h18v2h-18zM412 444.5h10v2h-10zM256 444.5h32v2h-32zM410 446.5h12v2h-12zM514 446.5h14v2h-14zM258 446.5h30v2h-30zM330 446.5h10v2h-10zM168 446.5h16v2h-16zM352 446.5h30v4h-30zM168 448.5h14v2h-14zM512 448.5h16v2h-16zM408 448.5h14v4h-14zM512 450.5h14v2h-14zM354 450.5h26v2h-26zM168 450.5h12v2h-12zM434 446.5h24v8h-24zM220 446.5h16v8h-16zM260 448.5h28v6h-28zM328 448.5h12v6h-12zM354 452.5h24v2h-24zM406 452.5h16v2h-16zM170 452.5h8v2h-8zM510 452.5h14v2h-14zM356 454.5h20v2h-20zM260 454.5h30v2h-30zM434 454.5h22v2h-22zM170 454.5h6v2h-6zM220 454.5h18v2h-18zM508 454.5h14v2h-14zM406 454.5h18v2h-18zM220 456.5h20v2h-20zM434 456.5h18v2h-18zM506 456.5h14v2h-14zM356 456.5h18v2h-18zM260 456.5h36v2h-36zM406 456.5h22v2h-22zM220 458.5h24v2h-24zM504 458.5h14v2h-14zM260 458.5h50v2h-50zM326 454.5h12v8h-12zM406 458.5h28v4h-28zM260 460.5h52v2h-52zM502 460.5h14v2h-14zM356 458.5h14v6h-14zM220 460.5h26v4h-26zM406 462.5h26v2h-26zM260 462.5h54v4h-54zM500 462.5h14v4h-14zM404 464.5h28v2h-28zM358 464.5h14v2h-14zM222 464.5h26v2h-26zM326 462.5h10v6h-10zM358 466.5h30v2h-30zM260 466.5h56v2h-56zM498 466.5h16v2h-16zM396 466.5h36v2h-36zM222 466.5h28v2h-28zM496 468.5h18v2h-18zM326 468.5h8v2h-8zM360 468.5h68v2h-68zM260 468.5h58v2h-58zM224 468.5h28v2h-28zM480 470.5h34v2h-34zM228 470.5h32v2h-32zM376 470.5h38v2h-38zM266 470.5h60v2h-60zM230 472.5h30v2h-30zM270 472.5h56v2h-56zM476 472.5h38v2h-38zM384 472.5h22v2h-22zM232 474.5h30v2h-30zM272 474.5h54v4h-54zM474 474.5h38v4h-38zM234 476.5h28v2h-28zM472 478.5h38v2h-38zM238 478.5h28v2h-28zM268 478.5h58v2h-58zM470 480.5h32v2h-32zM244 480.5h82v2h-82zM468 482.5h26v2h-26zM252 482.5h74v2h-74zM256 484.5h22v2h-22zM282 484.5h44v2h-44zM464 484.5h28v2h-28zM284 486.5h42v2h-42zM462 486.5h26v4h-26zM286 488.5h42v2h-42zM288 490.5h40v4h-40zM460 490.5h26v4h-26zM290 494.5h40v2h-40zM294 496.5h40v2h-40zM386 498.5h4v2h-4zM296 498.5h40v2h-40zM460 494.5h24v8h-24zM384 500.5h8v2h-8zM298 500.5h40v2h-40zM382 502.5h10v2h-10zM380 504.5h14v2h-14zM460 502.5h22v6h-22zM378 506.5h16v2h-16zM460 508.5h20v2h-20zM376 508.5h18v2h-18zM460 510.5h18v2h-18zM372 510.5h22v2h-22zM370 512.5h24v2h-24zM460 512.5h16v2h-16zM300 502.5h40v14h-40zM460 514.5h14v2h-14zM368 514.5h26v4h-26zM300 516.5h42v2h-42zM458 516.5h14v4h-14zM300 518.5h44v2h-44zM456 520.5h14v2h-14zM300 520.5h50v2h-50zM300 522.5h52v2h-52zM452 522.5h16v2h-16zM336 524.5h18v2h-18zM438 524.5h28v2h-28zM300 524.5h32v2h-32zM344 526.5h12v2h-12zM436 526.5h28v2h-28zM300 526.5h30v2h-30zM366 518.5h28v12h-28zM300 528.5h28v2h-28zM434 528.5h28v2h-28zM348 528.5h8v2h-8zM350 530.5h8v2h-8zM364 530.5h30v2h-30zM302 530.5h24v4h-24zM350 532.5h44v2h-44zM352 534.5h42v2h-42zM304 534.5h20v2h-20zM354 536.5h40v2h-40zM312 536.5h2v2h-2zM356 538.5h38v2h-38zM278 538.5h6v2h-6zM276 540.5h10v2h-10zM362 540.5h32v2h-32zM434 530.5h26v14h-26zM274 542.5h12v2h-12zM434 544.5h24v2h-24zM272 544.5h16v2h-16zM434 546.5h22v2h-22zM272 546.5h18v2h-18zM268 548.5h24v2h-24zM434 548.5h20v2h-20zM434 550.5h18v2h-18zM254 550.5h66v2h-66zM250 552.5h74v2h-74zM434 552.5h16v2h-16zM434 554.5h14v2h-14zM432 556.5h14v2h-14zM366 542.5h28v18h-28zM248 554.5h78v6h-78zM430 558.5h14v2h-14zM366 560.5h30v2h-30zM430 560.5h12v2h-12zM248 560.5h76v2h-76zM248 562.5h72v2h-72zM366 562.5h34v2h-34zM426 562.5h14v2h-14zM248 564.5h56v2h-56zM366 564.5h36v2h-36zM424 564.5h14v2h-14zM366 566.5h38v2h-38zM422 566.5h14v2h-14zM248 566.5h54v4h-54zM420 568.5h14v2h-14zM368 568.5h38v4h-38zM420 570.5h12v2h-12zM248 570.5h52v2h-52zM248 572.5h50v2h-50zM418 572.5h12v2h-12zM368 572.5h36v2h-36zM368 574.5h34v2h-34zM418 574.5h10v2h-10zM248 574.5h48v2h-48zM370 576.5h30v2h-30zM248 576.5h46v2h-46zM418 576.5h8v4h-8zM370 578.5h28v2h-28zM248 578.5h42v2h-42zM370 580.5h26v2h-26zM370 582.5h24v4h-24zM370 586.5h26v2h-26zM370 588.5h28v2h-28zM368 590.5h34v2h-34zM330 592.5h12v2h-12zM368 592.5h36v2h-36zM328 594.5h22v2h-22zM368 594.5h38v4h-38zM328 596.5h24v2h-24zM328 598.5h26v2h-26zM248 580.5h40v24h-40zM416 580.5h8v24h-8zM366 598.5h40v6h-40zM326 600.5h28v4h-28z"/>
<path fill="#ffa000" d="M366 72.5h40v8h-40zM420 72.5h26v8h-26zM420 80.5h24v2h-24zM366 80.5h38v2h-38zM366 82.5h36v2h-36zM420 82.5h22v2h-22zM308 84.5h10v2h-10zM366 84.5h22v2h-22zM420 84.5h18v2h-18zM420 86.5h16v2h-16zM304 86.5h20v2h-20zM366 86.5h18v2h-18zM366 88.5h16v2h-16zM302 88.5h24v2h-24zM420 88.5h14v4h-14zM300 90.5h26v2h-26zM418 92.5h14v2h-14zM300 92.5h28v2h-28zM298 94.5h32v2h-32zM416 94.5h14v2h-14zM414 96.5h14v2h-14zM296 96.5h36v2h-36zM294 98.5h54v2h-54zM412 98.5h14v2h-14zM410 100.5h14v2h-14zM290 100.5h60v2h-60zM408 102.5h14v2h-14zM290 102.5h62v2h-62zM366 90.5h14v16h-14zM406 104.5h14v2h-14zM288 104.5h66v2h-66zM286 106.5h68v2h-68zM364 106.5h14v2h-14zM404 106.5h14v2h-14zM362 108.5h14v2h-14zM402 108.5h14v2h-14zM284 108.5h72v2h-72zM400 110.5h14v2h-14zM282 110.5h92v2h-92zM278 112.5h94v2h-94zM398 112.5h14v2h-14zM276 114.5h94v2h-94zM396 114.5h14v2h-14zM394 116.5h14v2h-14zM274 116.5h94v4h-94zM394 118.5h12v4h-12zM272 120.5h94v2h-94zM270 122.5h96v2h-96zM346 124.5h20v2h-20zM266 124.5h42v2h-42zM264 126.5h40v2h-40zM350 126.5h16v2h-16zM262 128.5h40v2h-40zM394 122.5h10v10h-10zM352 128.5h14v4h-14zM260 130.5h40v4h-40zM354 132.5h12v2h-12zM392 132.5h10v4h-10zM354 134.5h10v2h-10zM258 134.5h42v2h-42zM354 136.5h8v2h-8zM392 136.5h8v2h-8zM254 136.5h46v2h-46zM346 138.5h8v2h-8zM240 138.5h60v2h-60zM390 138.5h10v2h-10zM342 140.5h12v4h-12zM390 140.5h8v4h-8zM236 140.5h64v4h-64zM234 144.5h68v2h-68zM390 144.5h6v2h-6zM340 144.5h12v4h-12zM388 146.5h8v2h-8zM234 146.5h70v2h-70zM340 148.5h10v2h-10zM234 148.5h76v2h-76zM388 148.5h6v2h-6zM386 150.5h8v2h-8zM234 150.5h80v2h-80zM340 150.5h6v2h-6zM212 152.5h22v2h-22zM270 152.5h44v2h-44zM242 152.5h22v2h-22zM332 152.5h8v2h-8zM384 152.5h8v2h-8zM272 154.5h44v2h-44zM210 154.5h24v2h-24zM244 154.5h18v2h-18zM382 154.5h10v2h-10zM328 154.5h12v4h-12zM380 156.5h10v2h-10zM272 156.5h30v2h-30zM308 156.5h8v2h-8zM246 156.5h16v4h-16zM208 156.5h26v4h-26zM376 158.5h12v2h-12zM310 158.5h8v2h-8zM326 158.5h14v2h-14zM272 158.5h28v4h-28zM310 160.5h10v2h-10zM208 160.5h28v2h-28zM372 160.5h14v2h-14zM244 160.5h18v2h-18zM324 160.5h16v2h-16zM242 162.5h24v2h-24zM310 162.5h30v2h-30zM208 162.5h30v2h-30zM364 162.5h20v2h-20zM270 162.5h30v2h-30zM360 164.5h20v2h-20zM356 166.5h20v2h-20zM312 164.5h28v6h-28zM208 164.5h92v6h-92zM354 168.5h18v2h-18zM354 170.5h14v2h-14zM314 170.5h26v2h-26zM206 170.5h94v2h-94zM206 172.5h96v2h-96zM352 172.5h14v2h-14zM314 172.5h24v4h-24zM204 174.5h98v2h-98zM352 174.5h12v2h-12zM202 176.5h100v2h-100zM314 176.5h22v2h-22zM352 176.5h10v2h-10zM352 178.5h8v2h-8zM314 178.5h18v2h-18zM292 178.5h10v2h-10zM198 178.5h68v2h-68zM294 180.5h10v2h-10zM314 180.5h16v2h-16zM196 180.5h66v4h-66zM314 182.5h14v2h-14zM296 182.5h8v4h-8zM194 184.5h66v2h-66zM350 180.5h8v8h-8zM312 184.5h16v4h-16zM194 186.5h64v2h-64zM298 186.5h8v2h-8zM194 188.5h62v2h-62zM298 188.5h10v2h-10zM350 188.5h10v2h-10zM310 188.5h16v2h-16zM352 190.5h10v2h-10zM194 190.5h58v2h-58zM298 190.5h28v4h-28zM194 192.5h30v2h-30zM352 192.5h12v4h-12zM300 194.5h26v4h-26zM194 194.5h28v4h-28zM352 196.5h14v4h-14zM194 198.5h26v2h-26zM302 198.5h24v2h-24zM308 200.5h16v2h-16zM350 200.5h14v2h-14zM194 200.5h24v2h-24zM194 202.5h22v2h-22zM348 202.5h14v2h-14zM316 202.5h6v2h-6zM346 204.5h14v2h-14zM194 204.5h20v2h-20zM194 206.5h16v2h-16zM344 206.5h14v2h-14zM342 208.5h14v2h-14zM194 208.5h14v4h-14zM192 212.5h16v4h-16zM188 216.5h20v2h-20zM224 232.5h8v2h-8zM340 210.5h14v26h-14zM222 234.5h32v2h-32zM586 234.5h4v2h-4zM222 236.5h36v2h-36zM340 236.5h12v2h-12zM586 236.5h6v2h-6zM154 218.5h54v22h-54zM586 238.5h4v2h-4zM338 238.5h14v2h-14zM336 240.5h14v2h-14zM154 240.5h56v2h-56zM220 238.5h40v6h-40zM154 242.5h58v2h-58zM334 242.5h14v2h-14zM260 244.5h10v2h-10zM332 244.5h14v2h-14zM260 246.5h20v2h-20zM326 246.5h18v2h-18zM154 244.5h66v6h-66zM260 248.5h24v2h-24zM318 248.5h24v2h-24zM314 250.5h26v2h-26zM154 250.5h68v4h-68zM312 252.5h26v2h-26zM310 254.5h26v2h-26zM154 254.5h70v2h-70zM260 250.5h26v8h-26zM154 256.5h72v2h-72zM308 256.5h26v2h-26zM176 258.5h54v2h-54zM304 258.5h28v2h-28zM178 260.5h54v2h-54zM302 260.5h28v2h-28zM302 262.5h26v2h-26zM180 262.5h52v2h-52zM260 258.5h28v8h-28zM300 264.5h26v2h-26zM180 264.5h54v2h-54zM182 266.5h54v2h-54zM258 266.5h30v2h-30zM298 266.5h26v2h-26zM296 268.5h26v2h-26zM184 268.5h54v2h-54zM256 268.5h34v2h-34zM188 270.5h132v2h-132zM190 272.5h128v2h-128zM192 274.5h124v2h-124zM194 276.5h120v2h-120zM194 278.5h118v2h-118zM196 280.5h114v2h-114zM198 282.5h110v2h-110zM214 284.5h80v2h-80zM494 284.5h12v2h-12zM218 286.5h72v2h-72zM490 286.5h20v2h-20zM220 288.5h68v2h-68zM488 288.5h24v2h-24zM220 290.5h66v2h-66zM486 290.5h26v4h-26zM222 292.5h62v2h-62zM484 294.5h30v2h-30zM224 294.5h58v2h-58zM482 296.5h32v2h-32zM226 296.5h54v2h-54zM478 298.5h36v2h-36zM532 298.5h2v2h-2zM476 300.5h38v2h-38zM528 300.5h10v4h-10zM528 304.5h12v4h-12zM530 308.5h10v2h-10zM474 302.5h40v10h-40zM540 310.5h2v2h-2zM474 312.5h16v2h-16zM496 312.5h18v2h-18zM540 312.5h10v4h-10zM540 316.5h12v2h-12zM474 314.5h14v6h-14zM542 318.5h8v2h-8zM498 314.5h16v8h-16zM474 320.5h16v2h-16zM494 322.5h20v2h-20zM474 322.5h18v2h-18zM474 324.5h40v6h-40zM472 330.5h42v4h-42zM470 334.5h44v2h-44zM468 336.5h46v2h-46zM464 338.5h50v2h-50zM462 340.5h52v2h-52zM460 342.5h54v30h-54zM458 372.5h56v2h-56zM456 374.5h58v2h-58zM452 376.5h62v2h-62zM496 378.5h18v2h-18zM438 378.5h54v2h-54zM436 380.5h52v2h-52zM498 380.5h16v4h-16zM434 382.5h54v2h-54zM434 384.5h52v2h-52zM434 386.5h50v2h-50zM436 388.5h46v2h-46zM436 390.5h32v2h-32zM436 392.5h28v2h-28zM436 394.5h26v2h-26zM436 396.5h24v10h-24zM318 408.5h6v2h-6zM344 408.5h6v2h-6zM434 406.5h26v6h-26zM340 410.5h14v2h-14zM314 410.5h12v2h-12zM500 384.5h14v30h-14zM338 412.5h16v2h-16zM436 412.5h26v2h-26zM312 412.5h16v2h-16zM436 414.5h28v2h-28zM336 414.5h20v2h-20zM310 414.5h20v2h-20zM500 414.5h16v2h-16zM500 416.5h20v2h-20zM440 416.5h26v2h-26zM308 416.5h52v2h-52zM500 418.5h22v2h-22zM302 418.5h60v2h-60zM442 418.5h28v2h-28zM444 420.5h28v2h-28zM500 420.5h24v2h-24zM294 420.5h70v2h-70zM290 422.5h76v2h-76zM500 422.5h26v2h-26zM446 422.5h26v4h-26zM288 424.5h78v2h-78zM498 424.5h28v2h-28zM498 426.5h26v2h-26zM288 426.5h76v2h-76zM288 428.5h74v2h-74zM496 428.5h26v2h-26zM492 430.5h28v2h-28zM288 430.5h60v2h-60zM426 432.5h4v2h-4zM490 432.5h26v2h-26zM310 432.5h34v2h-34zM286 432.5h18v2h-18zM446 426.5h28v10h-28zM488 434.5h26v2h-26zM312 434.5h30v2h-30zM424 434.5h8v4h-8zM286 434.5h16v6h-16zM312 436.5h28v4h-28zM448 436.5h26v4h-26zM486 436.5h28v4h-28zM424 438.5h10v2h-10zM484 440.5h30v2h-30zM310 440.5h30v2h-30zM286 440.5h18v2h-18zM450 440.5h26v2h-26zM452 442.5h62v2h-62zM286 442.5h54v2h-54zM456 444.5h58v2h-58zM340 444.5h8v2h-8zM240 444.5h16v2h-16zM288 444.5h44v2h-44zM458 446.5h56v2h-56zM288 446.5h42v2h-42zM236 446.5h22v2h-22zM340 446.5h12v4h-12zM458 448.5h54v4h-54zM422 440.5h12v14h-12zM236 448.5h24v6h-24zM288 448.5h40v6h-40zM340 450.5h14v4h-14zM458 452.5h52v2h-52zM238 454.5h22v2h-22zM456 454.5h52v2h-52zM290 454.5h36v2h-36zM424 454.5h10v2h-10zM296 456.5h30v2h-30zM452 456.5h54v2h-54zM428 456.5h6v2h-6zM240 456.5h20v2h-20zM338 454.5h18v6h-18zM434 458.5h70v2h-70zM244 458.5h16v2h-16zM310 458.5h16v2h-16zM312 460.5h14v2h-14zM434 460.5h68v2h-68zM338 460.5h8v2h-8zM348 460.5h8v4h-8zM246 460.5h14v4h-14zM336 462.5h8v4h-8zM432 462.5h68v4h-68zM314 462.5h12v4h-12zM248 464.5h12v2h-12zM348 464.5h10v4h-10zM250 466.5h10v2h-10zM316 466.5h10v2h-10zM336 466.5h10v2h-10zM432 466.5h66v2h-66zM428 468.5h68v2h-68zM334 468.5h26v2h-26zM252 468.5h8v2h-8zM318 468.5h8v2h-8zM260 470.5h6v2h-6zM414 470.5h66v2h-66zM326 470.5h50v2h-50zM260 472.5h10v2h-10zM326 472.5h58v2h-58zM406 472.5h70v2h-70zM326 474.5h148v2h-148zM262 474.5h10v4h-10zM378 476.5h96v2h-96zM326 476.5h44v2h-44zM326 478.5h42v2h-42zM380 478.5h92v2h-92zM266 478.5h2v2h-2zM380 480.5h90v2h-90zM380 482.5h88v2h-88zM380 484.5h84v2h-84zM326 480.5h40v8h-40zM444 486.5h18v2h-18zM380 486.5h56v2h-56zM380 488.5h54v2h-54zM446 488.5h16v2h-16zM378 490.5h56v2h-56zM446 490.5h14v2h-14zM328 488.5h40v6h-40zM444 492.5h16v2h-16zM378 492.5h58v2h-58zM442 494.5h18v2h-18zM374 494.5h64v2h-64zM330 494.5h40v2h-40zM334 496.5h126v2h-126zM336 498.5h50v2h-50zM390 498.5h70v2h-70zM338 500.5h46v2h-46zM392 500.5h68v4h-68zM340 502.5h42v2h-42zM340 504.5h40v2h-40zM340 506.5h38v2h-38zM340 508.5h36v2h-36zM340 510.5h32v2h-32zM340 512.5h30v2h-30zM394 504.5h66v12h-66zM340 514.5h28v2h-28zM342 516.5h26v2h-26zM394 516.5h64v4h-64zM344 518.5h22v2h-22zM394 520.5h62v2h-62zM350 520.5h16v2h-16zM394 522.5h58v2h-58zM352 522.5h14v2h-14zM354 524.5h12v2h-12zM394 524.5h44v2h-44zM394 526.5h42v2h-42zM356 526.5h10v4h-10zM358 530.5h6v2h-6zM394 528.5h40v28h-40zM394 556.5h38v2h-38zM394 558.5h36v2h-36zM396 560.5h34v2h-34zM400 562.5h26v2h-26zM402 564.5h22v2h-22zM404 566.5h18v2h-18zM406 568.5h14v4h-14zM404 572.5h14v2h-14zM402 574.5h16v2h-16zM400 576.5h18v2h-18zM398 578.5h20v2h-20zM396 580.5h20v2h-20zM394 582.5h22v4h-22zM396 586.5h20v2h-20zM398 588.5h18v2h-18zM402 590.5h14v2h-14zM404 592.5h12v2h-12zM406 594.5h10v10h-10z"/>
<path fill="#ff5000" d="M406 72.5h14v8h-14zM404 80.5h16v2h-16zM402 82.5h18v2h-18zM388 84.5h32v2h-32zM384 86.5h36v2h-36zM382 88.5h38v2h-38zM380 90.5h40v2h-40zM380 92.5h38v2h-38zM380 94.5h36v2h-36zM380 96.5h34v2h-34zM380 98.5h32v2h-32zM380 100.5h30v2h-30zM380 102.5h28v2h-28zM380 104.5h26v2h-26zM378 106.5h26v2h-26zM376 108.5h26v2h-26zM374 110.5h26v2h-26zM372 112.5h26v2h-26zM370 114.5h26v2h-26zM368 116.5h26v4h-26zM308 124.5h38v2h-38zM304 126.5h46v2h-46zM302 128.5h50v2h-50zM366 120.5h28v12h-28zM300 130.5h52v2h-52zM366 132.5h26v2h-26zM364 134.5h28v2h-28zM300 132.5h54v6h-54zM362 136.5h30v2h-30zM300 138.5h46v2h-46zM354 138.5h36v6h-36zM300 140.5h42v4h-42zM352 144.5h38v2h-38zM302 144.5h38v2h-38zM304 146.5h36v2h-36zM352 146.5h36v2h-36zM310 148.5h30v2h-30zM350 148.5h38v2h-38zM314 150.5h26v2h-26zM346 150.5h40v2h-40zM340 152.5h44v2h-44zM314 152.5h18v2h-18zM340 154.5h42v2h-42zM316 154.5h12v4h-12zM340 156.5h40v2h-40zM318 158.5h8v2h-8zM340 158.5h36v2h-36zM320 160.5h4v2h-4zM340 160.5h32v2h-32zM340 162.5h24v2h-24zM340 164.5h20v2h-20zM340 166.5h16v2h-16zM340 168.5h14v4h-14zM338 172.5h14v4h-14zM336 176.5h16v2h-16zM266 178.5h26v2h-26zM332 178.5h20v2h-20zM262 180.5h32v2h-32zM330 180.5h20v2h-20zM262 182.5h34v2h-34zM260 184.5h36v2h-36zM328 182.5h22v6h-22zM258 186.5h40v2h-40zM326 188.5h24v2h-24zM256 188.5h42v2h-42zM252 190.5h46v2h-46zM224 192.5h74v2h-74zM222 194.5h78v4h-78zM326 190.5h26v10h-26zM220 198.5h82v2h-82zM218 200.5h90v2h-90zM324 200.5h26v2h-26zM216 202.5h100v2h-100zM322 202.5h26v2h-26zM214 204.5h26v2h-26zM254 204.5h92v2h-92zM258 206.5h30v2h-30zM302 206.5h42v2h-42zM210 206.5h26v2h-26zM258 208.5h26v2h-26zM208 208.5h28v2h-28zM310 208.5h32v2h-32zM260 210.5h22v2h-22zM314 210.5h26v2h-26zM260 212.5h20v2h-20zM316 212.5h24v2h-24zM262 214.5h16v2h-16zM320 214.5h20v2h-20zM322 216.5h18v2h-18zM262 216.5h14v2h-14zM326 218.5h14v2h-14zM262 218.5h12v2h-12zM264 220.5h8v2h-8zM208 210.5h26v14h-26zM264 222.5h6v2h-6zM208 224.5h28v2h-28zM262 224.5h8v2h-8zM258 226.5h14v2h-14zM208 226.5h32v2h-32zM208 228.5h66v4h-66zM232 232.5h46v2h-46zM208 232.5h16v2h-16zM328 220.5h12v16h-12zM254 234.5h26v2h-26zM208 234.5h14v4h-14zM258 236.5h24v2h-24zM326 236.5h14v2h-14zM260 238.5h26v2h-26zM324 238.5h14v2h-14zM208 238.5h12v2h-12zM210 240.5h10v2h-10zM320 240.5h16v2h-16zM260 240.5h28v2h-28zM212 242.5h8v2h-8zM310 242.5h24v2h-24zM260 242.5h32v2h-32zM270 244.5h62v2h-62zM280 246.5h46v2h-46zM220 244.5h40v6h-40zM284 248.5h34v2h-34zM286 250.5h28v2h-28zM222 250.5h38v4h-38zM286 252.5h26v2h-26zM286 254.5h24v2h-24zM224 254.5h36v2h-36zM286 256.5h22v2h-22zM226 256.5h34v2h-34zM230 258.5h30v2h-30zM288 258.5h16v2h-16zM288 260.5h14v4h-14zM232 260.5h28v4h-28zM234 264.5h26v2h-26zM288 264.5h12v2h-12zM288 266.5h10v2h-10zM236 266.5h22v2h-22zM290 268.5h6v2h-6zM238 268.5h18v2h-18zM490 312.5h6v2h-6zM488 314.5h10v6h-10zM490 320.5h8v2h-8zM492 322.5h2v2h-2zM492 378.5h4v2h-4zM488 380.5h10v4h-10zM486 384.5h14v2h-14zM484 386.5h16v2h-16zM482 388.5h18v2h-18zM468 390.5h32v2h-32zM464 392.5h36v2h-36zM462 394.5h38v2h-38zM460 396.5h40v16h-40zM462 412.5h38v2h-38zM464 414.5h36v2h-36zM466 416.5h34v2h-34zM470 418.5h30v2h-30zM472 420.5h28v4h-28zM472 424.5h26v2h-26zM474 426.5h24v2h-24zM474 428.5h22v2h-22zM474 430.5h18v2h-18zM304 432.5h6v2h-6zM474 432.5h16v2h-16zM474 434.5h14v2h-14zM302 434.5h10v6h-10zM474 436.5h12v4h-12zM304 440.5h6v2h-6zM476 440.5h8v2h-8zM346 460.5h2v2h-2zM344 462.5h4v4h-4zM346 466.5h2v2h-2zM370 476.5h8v2h-8zM368 478.5h12v2h-12zM366 480.5h14v8h-14zM436 486.5h8v2h-8zM368 488.5h12v2h-12zM434 488.5h12v4h-12zM368 490.5h10v4h-10zM436 492.5h8v2h-8zM370 494.5h4v2h-4zM438 494.5h4v2h-4z"/>
<path fill="#ff0000" d="M240 204.5h14v2h-14zM288 206.5h14v2h-14zM236 206.5h22v4h-22zM284 208.5h26v2h-26zM282 210.5h32v2h-32zM234 210.5h26v4h-26zM280 212.5h36v2h-36zM278 214.5h42v2h-42zM276 216.5h46v2h-46zM234 214.5h28v6h-28zM274 218.5h52v2h-52zM312 220.5h16v2h-16zM272 220.5h30v2h-30zM234 220.5h30v4h-30zM314 222.5h14v2h-14zM270 222.5h32v4h-32zM316 224.5h12v2h-12zM236 224.5h26v2h-26zM240 226.5h18v2h-18zM314 226.5h14v2h-14zM272 226.5h30v2h-30zM312 228.5h16v2h-16zM274 228.5h30v2h-30zM274 230.5h54v2h-54zM278 232.5h50v2h-50zM280 234.5h48v2h-48zM282 236.5h44v2h-44zM286 238.5h38v2h-38zM288 240.5h32v2h-32zM292 242.5h18v2h-18z"/>
<path fill="#b40046" d="M302 220.5h10v2h-10zM302 222.5h12v2h-12zM302 224.5h14v2h-14zM302 226.5h12v2h-12zM304 228.5h8v2h-8z"/></g>
<g shape-rendering="crispEdges"><ellipse cx="552" cy="302" rx="18" ry="1.5" fill="#ffa000"/><ellipse cx="545" cy="303" rx="9" ry="2" fill="#ff5000"/><ellipse cx="555" cy="320" rx="12" ry="1.6" fill="#ffa000"/><ellipse cx="546" cy="319.5" rx="5" ry="2.2" fill="#ff5000"/><ellipse cx="570" cy="331.5" rx="23" ry="1.5" fill="#ffa000"/><ellipse cx="558" cy="330" rx="10" ry="2" fill="#ff5000"/><ellipse cx="528" cy="332" rx="3" ry="2" fill="#ff5000"/><ellipse cx="500" cy="321" rx="3.5" ry="3.5" fill="#ff5000"/><ellipse cx="590.5" cy="246.5" rx="3" ry="3.5" fill="#ff5000"/><ellipse cx="604.5" cy="304.5" rx="16" ry="2" fill="#ffff00"/><ellipse cx="646" cy="311" rx="20" ry="2.5" fill="#ffff00" transform="rotate(-10 646 311)"/><ellipse cx="602" cy="324.5" rx="14" ry="2" fill="#ffff00"/><ellipse cx="635" cy="289.5" rx="14" ry="2.5" fill="#ffff00"/></g>
<g clip-path="url(#pc2)"><clipPath id="pc2"><rect x="154.0" y="72.5" width="531.0" height="531.0"/></clipPath><path d="M184.8 72.0L180.7 167.8M154.0 167.5L220.0 169.8L287.0 171.5L353.0 172.6L420.0 173.0L486.0 172.8L553.0 172.0L571.3 171.6M154.0 199.5L220.0 202.5L287.5 205.0M287.5 205.0L285.5 270.0L283.5 331.0M569.2 72.0L571.3 172.0L573.8 205.0L584.0 272.0L584.5 338.0L584.0 391.0M573.6 203.7L630.0 202.4L685.0 200.3M283.5 331.0L290.0 334.0L293.7 338.0L303.7 343.0L318.7 341.3L327.0 349.7L330.3 354.7L342.0 356.3L358.7 359.7L367.0 366.3L373.7 361.3L387.0 361.3L393.7 373.0L402.0 379.7L410.3 373.0L415.0 377.5L420.0 377.5L422.5 381.9L427.5 380.0L431.3 379.4L435.6 376.3L438.1 380.0L437.5 386.3L440.0 388.8L441.9 386.3L442.5 381.3L445.6 378.8L448.1 374.4L451.3 375.0L453.8 379.4L457.5 380.0L460.0 382.5L462.5 378.8L465.0 376.9L468.8 377.5L470.6 380.0L471.3 380.6L473.8 383.1L477.5 383.8L481.3 386.3L483.1 389.4L485.0 387.5L487.5 385.0L490.0 384.4L491.3 381.9L491.9 378.1L493.1 380.6L500.0 380.6L505.0 379.4L510.0 380.0L515.0 378.1L516.7 377.2L523.3 375.5L526.7 377.2L536.7 378.0L543.3 373.0L548.3 373.8L553.0 377.2L561.0 384.7L573.0 389.7L584.7 392.0L591.0 397.0L600.0 396.3L608.0 396.0M608.0 396.0L610.5 431.0L611.3 471.0L612.0 499.0L621.0 508.0L626.0 514.0L626.0 526.0L631.0 531.0L636.0 541.0L641.0 551.0L644.0 559.0L643.0 574.0L638.0 586.0L634.7 594.0L635.5 603.5M610.5 431.5L650.0 430.5L686.0 429.5" stroke="#000" stroke-width="1.05" fill="none" stroke-linejoin="round"/><path d="M448.1 374.4L451.3 375.0L453.8 379.4L457.5 380.0L460.0 382.5L462.5 378.8L465.0 376.9L468.8 377.5L470.6 380.0M465.6 367.5L468.1 370.6L470.0 375.0L471.3 378.8M468.1 370.0L470.0 366.3L473.1 365.6" stroke="#000" stroke-width="2.4" fill="none" stroke-linejoin="round" stroke-linecap="round"/><path d="M423.3 287.6L424.8 291.8L429.2 291.9L425.7 294.6L426.9 298.8L423.3 296.3L419.7 298.8L420.9 294.6L417.4 291.9L421.8 291.8ZM458.3 445.6L459.8 449.8L464.2 449.9L460.7 452.6L461.9 456.8L458.3 454.3L454.7 456.8L455.9 452.6L452.4 449.9L456.8 449.8Z" stroke="#000" stroke-width="1.1" fill="none" stroke-linejoin="miter"/></g>
<clipPath id="pc"><rect x="154.0" y="72.5" width="531.0" height="531.0"/></clipPath>
<path clip-path="url(#pc)" d="M169.0 69.4L161.1 83.6M165.1 81.0L161.1 83.6L161.2 78.8M192.7 68.6L183.6 84.4M187.7 81.9L183.6 84.4L183.8 79.6M215.3 69.5L207.2 83.5M211.3 81.0L207.2 83.5L207.4 78.7M238.8 68.6L229.9 84.4M233.9 81.9L229.9 84.4L230.0 79.7M261.8 68.5L253.1 84.5M257.1 81.9L253.1 84.5L253.1 79.7M284.9 68.3L276.2 84.7M280.2 82.0L276.2 84.7L276.2 79.9M308.6 67.1L298.7 85.9M302.7 83.2L298.7 85.9L298.7 81.1M331.7 67.1L321.8 85.9M325.8 83.2L321.8 85.9L321.8 81.1M354.8 67.2L344.9 85.8M348.9 83.1L344.9 85.8L344.9 81.0M378.6 66.1L367.3 86.9M371.3 84.2L367.3 86.9L367.4 82.1M401.9 66.0L390.2 87.0M394.2 84.4L390.2 87.0L390.3 82.2M425.5 65.4L412.8 87.6M416.9 85.0L412.8 87.6L413.0 82.8M447.2 66.0L437.3 87.0M441.2 84.1L437.3 87.0L437.1 82.2M468.6 67.8L462.1 85.2M465.7 82.0L462.1 85.2L461.5 80.4M490.6 70.2L486.3 82.8M489.8 79.6L486.3 82.8L485.5 78.1M512.7 70.8L510.4 82.2M513.4 78.5L510.4 82.2L509.0 77.6M535.1 72.9L534.2 80.1M536.3 77.1L534.2 80.1L532.9 76.7M557.4 74.8L558.1 78.2M558.6 76.5L558.1 78.2L557.0 76.9M577.9 78.1L583.8 74.9M580.5 74.9L583.8 74.9L581.9 77.7M599.9 79.3L608.0 73.7M603.2 74.3L608.0 73.7L605.8 78.0M622.3 80.5L631.8 72.5M627.1 73.5L631.8 72.5L630.0 77.0M645.3 80.6L655.0 72.4M650.3 73.4L655.0 72.4L653.2 76.9M668.5 80.6L678.0 72.4M673.3 73.4L678.0 72.4L676.3 76.8M691.7 80.8L701.0 72.2M696.3 73.4L701.0 72.2L699.4 76.7M157.6 89.5L149.4 102.5M153.6 100.2L149.4 102.5L149.7 97.8M180.8 89.2L172.4 102.8M176.5 100.4L172.4 102.8L172.7 98.0M204.2 88.5L195.2 103.5M199.3 101.0L195.2 103.5L195.4 98.7M227.4 88.1L218.2 103.9M222.3 101.4L218.2 103.9L218.4 99.1M250.4 87.9L241.4 104.1M245.4 101.5L241.4 104.1L241.5 99.3M273.5 87.6L264.5 104.4M268.5 101.7L264.5 104.4L264.5 99.6M297.1 86.4L287.1 105.6M291.0 102.9L287.1 105.6L287.0 100.8M320.7 85.4L309.7 106.6M313.6 103.9L309.7 106.6L309.6 101.8M343.4 86.3L333.2 105.7M337.2 103.0L333.2 105.7L333.2 100.9M366.5 86.6L356.3 105.4M360.3 102.8L356.3 105.4L356.3 100.6M390.8 84.5L378.2 107.5M382.2 104.9L378.2 107.5L378.2 102.7M414.0 84.5L401.2 107.5M405.2 104.9L401.2 107.5L401.3 102.7M435.8 86.2L425.6 105.8M429.5 103.1L425.6 105.8L425.5 101.1M457.3 88.0L450.3 104.0M454.0 101.1L450.3 104.0L449.9 99.2M479.2 89.9L474.6 102.1M478.2 98.9L474.6 102.1L474.0 97.4M501.4 91.5L498.6 100.5M501.9 97.2L498.6 100.5L497.7 95.9M523.6 92.8L522.6 99.2M524.5 96.6L522.6 99.2L521.6 96.1M546.1 95.7L546.3 96.3M546.4 96.0L546.3 96.3L546.1 96.1M566.3 96.7L572.3 95.3M569.3 94.5L572.3 95.3L570.0 97.3M588.7 98.5L596.1 93.5M591.7 94.0L596.1 93.5L594.0 97.4M611.4 99.3L619.6 92.7M614.9 93.6L619.6 92.7L617.7 97.1M634.0 100.2L643.2 91.8M638.6 93.0L643.2 91.8L641.6 96.3M657.2 100.4L666.2 91.6M661.6 92.9L666.2 91.6L664.8 96.2M680.5 100.6L689.1 91.4M684.6 92.9L689.1 91.4L687.9 96.0M169.5 109.2L160.6 121.8M164.9 119.7L160.6 121.8L161.2 117.1M192.5 108.9L183.8 122.1M188.0 119.8L183.8 122.1L184.2 117.3M216.0 107.8L206.5 123.2M210.6 120.8L206.5 123.2L206.8 118.4M239.5 106.7L229.2 124.3M233.3 121.8L229.2 124.3L229.4 119.5M262.6 106.3L252.3 124.7M256.4 122.1L252.3 124.7L252.4 119.9M285.9 105.2L275.2 125.8M279.1 123.1L275.2 125.8L275.1 121.0M309.1 104.9L298.2 126.1M302.1 123.4L298.2 126.1L298.1 121.3M332.3 104.9L321.2 126.1M325.2 123.4L321.2 126.1L321.2 121.3M355.4 105.0L344.3 126.0M348.2 123.3L344.3 126.0L344.3 121.2M379.1 104.2L366.8 126.8M370.8 124.2L366.8 126.8L366.8 122.0M402.1 104.5L390.0 126.5M394.0 123.8L390.0 126.5L390.1 121.7M424.1 106.5L414.2 124.5M418.2 121.9L414.2 124.5L414.3 119.7M445.7 108.6L438.8 122.4M442.7 119.6L438.8 122.4L438.7 117.6M467.9 109.7L462.8 121.3M466.6 118.3L462.8 121.3L462.5 116.5M490.1 111.6L486.8 119.4M490.1 116.8L486.8 119.4L486.4 115.2M512.7 113.0L510.4 118.0M512.6 116.3L510.4 118.0L510.3 115.3M534.4 115.1L534.9 115.9M534.9 115.4L534.9 115.9L534.5 115.7M554.7 116.7L560.8 114.3M557.5 113.9L560.8 114.3L558.7 116.8M576.4 118.5L585.3 112.5M580.6 113.0L585.3 112.5L583.1 116.7M599.2 119.3L608.7 111.7M604.0 112.6L608.7 111.7L606.8 116.1M622.3 119.7L631.8 111.3M627.1 112.4L631.8 111.3L630.1 115.8M645.7 120.1L654.6 110.9M650.0 112.4L654.6 110.9L653.2 115.5M668.5 121.2L678.0 109.8M673.5 111.6L678.0 109.8L677.0 114.5M692.0 121.4L700.7 109.6M696.4 111.6L700.7 109.6L700.0 114.3M158.4 129.0L148.6 141.0M153.0 139.1L148.6 141.0L149.5 136.3M181.5 128.5L171.7 141.5M176.0 139.5L171.7 141.5L172.5 136.7M204.8 127.6L194.6 142.4M198.8 140.2L194.6 142.4L195.1 137.7M228.3 126.0L217.3 144.0M221.4 141.5L217.3 144.0L217.6 139.2M251.5 125.6L240.3 144.4M244.4 141.9L240.3 144.4L240.5 139.6M274.8 124.6L263.2 145.4M267.3 142.8L263.2 145.4L263.3 140.6M297.6 124.3L286.6 145.7M290.6 143.0L286.6 145.7L286.5 140.9M321.4 123.2L309.0 146.8M312.9 144.1L309.0 146.8L309.0 142.0M344.5 123.4L332.1 146.6M336.1 143.9L332.1 146.6L332.1 141.8M367.3 124.0L355.5 146.0M359.5 143.3L355.5 146.0L355.5 141.2M390.9 123.4L378.1 146.6M382.1 144.0L378.1 146.6L378.2 141.8M412.7 126.0L402.5 144.0M406.6 141.4L402.5 144.0L402.7 139.2M434.5 128.4L426.9 141.6M430.9 139.0L426.9 141.6L427.1 136.8M456.9 129.5L450.7 140.5M454.8 137.9L450.7 140.5L450.8 135.7M478.6 130.7L475.2 139.3M478.7 136.3L475.2 139.3L474.7 134.7M501.1 133.6L498.9 136.4M500.6 135.7L498.9 136.4L499.2 134.7M522.7 136.5L523.5 133.5M522.5 134.6L523.5 133.5L523.8 135.0M543.4 137.8L549.0 132.2M545.2 133.4L549.0 132.2L547.9 136.0M564.8 139.0L573.8 131.0M569.1 132.1L573.8 131.0L572.1 135.5M587.6 139.1L597.2 130.9M592.5 131.9L597.2 130.9L595.5 135.3M610.7 139.2L620.3 130.8M615.6 131.9L620.3 130.8L618.6 135.3M633.4 140.6L643.8 129.4M639.3 131.0L643.8 129.4L642.6 134.1M656.9 141.4L666.5 128.6M662.2 130.7L666.5 128.6L665.7 133.4M681.1 141.1L688.5 128.9M684.4 131.4L688.5 128.9L688.2 133.7M170.9 147.7L159.2 161.3M163.7 159.5L159.2 161.3L160.3 156.6M194.0 147.2L182.3 161.8M186.7 159.9L182.3 161.8L183.2 157.1M217.9 145.4L204.6 163.6M208.9 161.5L204.6 163.6L205.3 158.9M240.6 145.2L228.1 163.8M232.3 161.5L228.1 163.8L228.6 159.0M263.7 144.6L251.2 164.4M255.4 162.0L251.2 164.4L251.6 159.6M286.6 144.2L274.5 164.8M278.6 162.2L274.5 164.8L274.7 160.0M309.3 144.6L298.0 164.4M302.1 161.9L298.0 164.4L298.1 159.6M333.0 143.3L320.5 165.7M324.5 163.1L320.5 165.7L320.6 160.9M356.2 143.1L343.5 165.9M347.6 163.3L343.5 165.9L343.6 161.1M379.3 142.9L366.6 166.1M370.6 163.5L366.6 166.1L366.6 161.3M401.1 145.7L391.0 163.3M395.1 160.7L391.0 163.3L391.2 158.5M423.7 147.3L414.6 161.7M418.8 159.3L414.6 161.7L415.0 156.9M445.9 149.6L438.6 159.4M443.0 157.3L438.6 159.4L439.4 154.6M467.9 151.4L462.8 157.6M466.5 156.1L462.8 157.6L463.6 153.7M490.1 152.6L486.8 156.4M489.1 155.5L486.8 156.4L487.4 153.9M511.5 156.7L511.6 152.3M510.5 154.2L511.6 152.3L512.6 154.3M532.6 158.7L536.7 150.3M532.9 153.1L536.7 150.3L536.8 155.0M553.9 159.1L561.6 149.9M557.2 151.7L561.6 149.9L560.6 154.6M576.5 159.1L585.2 149.9M580.7 151.4L585.2 149.9L583.9 154.5M598.8 159.8L609.1 149.2M604.6 150.7L609.1 149.2L607.8 153.8M621.9 160.3L632.2 148.7M627.7 150.4L632.2 148.7L631.1 153.4M645.6 160.8L654.7 148.2M650.4 150.3L654.7 148.2L654.0 153.0M668.8 162.5L677.7 146.5M673.7 149.1L677.7 146.5L677.6 151.3M692.5 162.7L700.2 146.3M696.4 149.1L700.2 146.3L700.5 151.0M160.6 166.3L146.4 181.7M150.9 180.1L146.4 181.7L147.6 177.1M183.6 166.2L169.6 181.8M174.1 180.2L169.6 181.8L170.7 177.2M206.7 165.8L192.7 182.2M197.2 180.4L192.7 182.2L193.8 177.5M230.2 164.6L215.4 183.4M219.8 181.4L215.4 183.4L216.3 178.6M253.0 164.4L238.8 183.6M243.2 181.5L238.8 183.6L239.5 178.8M275.9 164.0L262.1 184.0M266.4 181.8L262.1 184.0L262.7 179.2M298.7 163.9L285.5 184.1M289.7 181.8L285.5 184.1L285.9 179.3M321.2 164.3L309.2 183.7M313.4 181.3L309.2 183.7L309.5 178.9M344.7 163.1L331.9 184.9M336.0 182.4L331.9 184.9L332.1 180.1M367.1 163.8L355.7 184.2M359.7 181.6L355.7 184.2L355.8 179.4M389.1 165.8L379.9 182.2M384.0 179.6L379.9 182.2L380.0 177.4M411.9 166.9L403.3 181.1M407.5 178.7L403.3 181.1L403.6 176.3M434.2 169.4L427.2 178.6M431.6 176.6L427.2 178.6L428.0 173.8M456.6 171.6L451.0 176.4M454.6 175.6L451.0 176.4L452.4 173.0M480.7 172.5L473.1 175.5M477.2 175.9L473.1 175.5L475.7 172.4M500.9 176.7L499.1 171.3M498.6 174.1L499.1 171.3L501.1 173.3M520.8 178.8L525.4 169.2M521.5 172.1L525.4 169.2L525.6 174.0M542.5 179.5L549.9 168.5M545.7 170.8L549.9 168.5L549.4 173.3M564.5 180.0L574.1 168.0M569.7 169.9L574.1 168.0L573.2 172.7M587.0 180.5L597.8 167.5M593.3 169.4L597.8 167.5L596.8 172.2M609.9 181.1L621.1 166.9M616.7 168.8L621.1 166.9L620.3 171.6M635.0 179.5L642.2 168.5M638.0 170.8L642.2 168.5L641.8 173.3M658.5 180.4L664.9 167.6M661.0 170.4L664.9 167.6L665.0 172.4M682.0 181.2L687.6 166.8M684.0 169.9L687.6 166.8L688.2 171.5M172.4 185.9L157.7 201.1M162.3 199.6L157.7 201.1L159.0 196.4M195.5 185.7L180.8 201.3M185.3 199.8L180.8 201.3L182.0 196.7M219.3 184.6L203.2 202.4M207.7 200.7L203.2 202.4L204.4 197.7M242.6 183.7L226.1 203.3M230.5 201.5L226.1 203.3L227.1 198.6M265.5 183.3L249.4 203.7M253.8 201.7L249.4 203.7L250.3 198.9M288.6 182.8L272.5 204.2M276.9 202.1L272.5 204.2L273.3 199.4M310.5 183.6L296.8 203.4M301.1 201.2L296.8 203.4L297.4 198.6M333.6 182.9L319.9 204.1M324.1 201.8L319.9 204.1L320.3 199.4M356.5 182.3L343.2 204.7M347.3 202.2L343.2 204.7L343.4 199.9M378.0 184.3L367.9 202.7M371.9 200.1L367.9 202.7L367.9 197.9M399.8 186.4L392.3 200.6M396.2 197.9L392.3 200.6L392.3 195.8M422.3 188.4L416.0 198.6M420.2 196.2L416.0 198.6L416.3 193.9M444.9 190.9L439.6 196.1M443.2 195.0L439.6 196.1L440.7 192.6M468.5 193.0L462.2 194.0M465.2 195.0L462.2 194.0L464.8 192.1M489.4 196.0L487.5 191.0M487.2 193.7L487.5 191.0L489.5 192.8M511.0 198.3L512.1 188.7M509.4 192.6L512.1 188.7L513.9 193.1M531.1 200.3L538.2 186.7M534.2 189.4L538.2 186.7L538.2 191.5M553.3 199.8L562.2 187.2M557.9 189.3L562.2 187.2L561.6 191.9M576.5 199.9L585.2 187.1M580.9 189.3L585.2 187.1L584.7 191.9M598.6 201.6L609.3 185.4M605.1 187.6L609.3 185.4L608.9 190.1M623.5 199.4L630.6 187.6M626.5 190.1L630.6 187.6L630.4 192.4M647.4 199.6L652.9 187.4M649.1 190.4L652.9 187.4L653.2 192.2M671.0 200.9L675.5 186.1M672.1 189.5L675.5 186.1L676.4 190.8M694.5 201.0L698.2 186.0M695.0 189.6L698.2 186.0L699.4 190.7M161.1 205.4L145.9 220.6M150.5 219.2L145.9 220.6L147.3 216.0M184.2 205.4L169.0 220.6M173.6 219.2L169.0 220.6L170.4 216.0M207.9 204.5L191.5 221.5M196.0 220.0L191.5 221.5L192.8 216.9M231.9 203.2L213.7 222.8M218.2 221.2L213.7 222.8L214.9 218.1M255.5 201.9L236.3 224.1M240.7 222.4L236.3 224.1L237.3 219.4M277.6 202.5L260.4 223.5M264.8 221.6L260.4 223.5L261.4 218.8M301.0 201.4L283.2 224.6M287.5 222.6L283.2 224.6L284.0 219.9M323.3 201.4L307.1 224.6M311.4 222.4L307.1 224.6L307.7 219.8M345.1 202.2L331.5 223.8M335.6 221.4L331.5 223.8L331.8 219.0M366.6 203.8L356.2 222.2M360.2 219.7L356.2 222.2L356.3 217.4M388.7 204.9L380.3 221.1M384.3 218.3L380.3 221.1L380.3 216.3M410.7 207.0L404.5 219.0M408.4 216.3L404.5 219.0L404.4 214.2M433.6 209.7L427.8 216.3M431.9 214.7L427.8 216.3L428.8 212.0M455.5 211.9L452.1 214.1M454.1 213.9L452.1 214.1L453.1 212.3M477.3 215.6L476.5 210.4M475.7 212.9L476.5 210.4L478.0 212.5M499.6 217.6L500.4 208.4M497.9 212.3L500.4 208.4L502.2 212.6M521.3 219.6L524.9 206.4M521.6 209.9L524.9 206.4L526.0 211.1M542.8 220.3L549.6 205.7M545.8 208.6L549.6 205.7L549.9 210.5M565.4 221.2L573.2 204.8M569.3 207.6L573.2 204.8L573.4 209.6M588.6 222.2L596.2 203.8M592.5 206.9L596.2 203.8L596.7 208.6M611.8 221.6L619.2 204.4M615.5 207.4L619.2 204.4L619.6 209.2M635.9 220.8L641.3 205.2M637.8 208.5L641.3 205.2L642.1 210.0M659.4 221.8L664.0 204.2M660.8 207.7L664.0 204.2L665.1 208.8M683.2 222.0L686.4 204.0M683.4 207.8L686.4 204.0L687.9 208.6M173.6 224.2L156.5 240.8M161.1 239.5L156.5 240.8L158.0 236.3M196.6 224.0L179.7 241.0M184.3 239.6L179.7 241.0L181.1 236.4M220.2 223.0L202.3 242.0M206.9 240.4L202.3 242.0L203.6 237.3M242.8 223.0L225.9 242.0M230.4 240.3L225.9 242.0L227.0 237.3M265.9 222.5L249.0 242.5M253.5 240.7L249.0 242.5L250.0 237.8M289.4 221.4L271.7 243.6M276.1 241.7L271.7 243.6L272.6 238.9M312.5 220.3L294.8 244.7M299.1 242.6L294.8 244.7L295.4 240.0M334.5 220.7L319.0 244.3M323.2 242.0L319.0 244.3L319.4 239.5M355.7 222.4L344.0 242.6M348.0 240.1L344.0 242.6L344.1 237.8M377.1 224.3L368.8 240.7M372.7 237.9L368.8 240.7L368.7 235.9M398.9 226.5L393.2 238.5M397.0 235.6L393.2 238.5L393.0 233.7M421.4 228.5L416.9 236.5M420.8 234.0L416.9 236.5L417.0 231.9M443.2 231.7L441.3 233.3M442.5 233.0L441.3 233.3L441.8 232.2M464.9 235.2L465.8 229.8M464.1 232.0L465.8 229.8L466.7 232.4M487.6 237.8L489.3 227.2M486.4 231.0L489.3 227.2L490.9 231.7M510.0 239.7L513.1 225.3M510.0 228.9L513.1 225.3L514.4 229.9M532.5 240.2L536.8 224.8M533.5 228.3L536.8 224.8L537.8 229.5M555.4 241.3L560.1 223.7M556.8 227.2L560.1 223.7L561.2 228.4M579.5 242.6L582.2 222.4M579.4 226.3L582.2 222.4L583.9 226.9M603.0 243.0L604.9 222.0M602.3 226.0L604.9 222.0L606.8 226.4M626.0 241.9L628.1 223.1M625.4 227.0L628.1 223.1L629.9 227.5M649.1 239.5L651.2 225.5M648.3 229.4L651.2 225.5L652.8 230.1M671.7 241.3L674.8 223.7M671.9 227.5L674.8 223.7L676.3 228.3M694.8 241.5L697.9 223.5M695.0 227.3L697.9 223.5L699.4 228.1M161.9 243.7L145.1 260.3M149.7 258.9L145.1 260.3L146.5 255.7M184.9 243.5L168.3 260.5M172.9 259.0L168.3 260.5L169.6 255.9M207.8 243.2L191.6 260.8M196.1 259.2L191.6 260.8L192.8 256.1M231.2 242.3L214.4 261.7M218.9 259.9L214.4 261.7L215.5 257.0M254.3 241.8L237.5 262.2M241.9 260.4L237.5 262.2L238.4 257.5M276.5 242.5L261.5 261.5M265.9 259.6L261.5 261.5L262.4 256.8M300.0 241.3L284.2 262.7M288.5 260.6L284.2 262.7L284.9 258.0M322.1 241.5L308.3 262.5M312.5 260.2L308.3 262.5L308.7 257.8M344.1 242.2L332.5 261.8M336.6 259.3L332.5 261.8L332.7 257.0M365.5 243.7L357.3 260.3M361.2 257.5L357.3 260.3L357.1 255.5M387.5 244.8L381.5 259.2M385.2 256.2L381.5 259.2L381.0 254.5M409.6 247.3L405.6 256.7M409.4 253.6L405.6 256.7L405.2 251.9M431.0 251.2L430.4 252.8M431.0 252.2L430.4 252.8L430.3 251.9M452.8 254.9L454.8 249.1M452.5 251.2L454.8 249.1L455.3 252.1M475.2 257.8L478.6 246.2M475.2 249.7L478.6 246.2L479.6 250.9M498.1 259.6L501.9 244.4M498.7 248.0L501.9 244.4L503.0 249.1M520.9 260.8L525.3 243.2M522.1 246.8L525.3 243.2L526.4 247.8M544.4 260.9L548.0 243.1M545.0 246.8L548.0 243.1L549.4 247.7M569.3 259.7L569.3 244.3M567.0 248.5L569.3 244.3L571.5 248.5M594.7 261.5L590.1 242.5M588.9 247.2L590.1 242.5L593.3 246.1M616.7 259.7L614.3 244.3M612.7 248.9L614.3 244.3L617.2 248.2M639.5 259.5L637.7 244.5M636.0 249.0L637.7 244.5L640.4 248.5M660.5 261.0L662.9 243.0M660.1 246.9L662.9 243.0L664.6 247.5M683.5 260.8L686.1 243.2M683.3 247.0L686.1 243.2L687.7 247.7M172.2 263.8L157.9 279.2M162.4 277.6L157.9 279.2L159.1 274.6M195.4 262.8L180.9 280.2M185.3 278.4L180.9 280.2L181.9 275.5M218.6 262.1L203.9 280.9M208.2 278.9L203.9 280.9L204.7 276.2M241.7 261.6L227.0 281.4M231.3 279.4L227.0 281.4L227.7 276.7M264.7 261.4L250.2 281.6M254.5 279.5L250.2 281.6L250.8 276.9M287.4 261.7L273.7 281.3M277.9 279.2L273.7 281.3L274.2 276.6M310.1 261.2L297.2 281.8M301.4 279.4L297.2 281.8L297.5 277.0M331.8 262.3L321.7 280.7M325.7 278.1L321.7 280.7L321.8 275.9M353.8 263.3L345.9 279.7M349.7 276.9L345.9 279.7L345.7 274.9M375.3 263.5L370.6 279.5M374.0 276.1L370.6 279.5L369.6 274.8M397.0 267.6L395.1 275.4M397.8 272.4L395.1 275.4L394.1 271.5M419.5 270.6L418.8 272.4M419.5 271.8L418.8 272.4L418.7 271.5M439.7 275.1L444.8 267.9M440.8 269.9L444.8 267.9L444.3 272.2M462.6 277.8L468.1 265.2M464.4 268.2L468.1 265.2L468.5 270.0M485.7 280.5L491.2 262.5M487.8 265.9L491.2 262.5L492.1 267.2M509.0 281.2L514.1 261.8M510.9 265.3L514.1 261.8L515.2 266.4M532.4 281.2L536.9 261.8M533.7 265.4L536.9 261.8L538.1 266.4M556.7 280.8L558.8 262.2M556.1 266.1L558.8 262.2L560.6 266.6M582.8 278.0L578.9 265.0M578.0 269.7L578.9 265.0L582.3 268.5M606.8 276.7L601.1 266.3M601.1 271.1L601.1 266.3L605.1 268.9M629.3 275.0L624.8 268.0M625.1 272.2L624.8 268.0L628.4 270.0M650.9 276.5L649.4 266.5M647.8 271.0L649.4 266.5L652.3 270.4M673.2 277.1L673.3 265.9M671.0 270.1L673.3 265.9L675.5 270.1M695.5 277.1L697.2 265.9M694.3 269.8L697.2 265.9L698.8 270.5M159.5 282.5L147.5 299.5M151.8 297.4L147.5 299.5L148.1 294.8M182.5 282.4L170.7 299.6M174.9 297.4L170.7 299.6L171.2 294.8M205.4 282.2L194.0 299.8M198.2 297.5L194.0 299.8L194.4 295.1M228.8 281.2L216.8 300.8M221.0 298.3L216.8 300.8L217.1 296.0M251.9 280.8L239.9 301.2M244.0 298.7L239.9 301.2L240.1 296.4M275.0 280.8L263.0 301.2M267.1 298.7L263.0 301.2L263.2 296.4M297.3 281.7L286.9 300.3M290.9 297.7L286.9 300.3L287.0 295.5M319.4 282.2L311.0 299.8M314.9 296.9L311.0 299.8L310.8 295.0M341.3 282.5L335.3 299.5M338.8 296.3L335.3 299.5L334.6 294.8M362.1 284.7L360.7 297.3M363.4 293.4L360.7 297.3L358.9 292.9M383.1 286.8L385.9 295.2M386.6 290.8L385.9 295.2L382.7 292.2M405.3 290.8L409.9 291.2M408.0 290.0L409.9 291.2L407.8 292.1M427.7 295.5L433.7 286.5M429.5 288.8L433.7 286.5L433.2 291.3M450.1 297.8L457.5 284.2M453.5 286.9L457.5 284.2L457.4 289.0M472.9 300.4L480.9 281.6M477.2 284.6L480.9 281.6L481.3 286.3M496.4 302.3L503.6 279.7M500.1 283.1L503.6 279.7L504.4 284.4M520.6 301.3L525.6 280.7M522.4 284.3L525.6 280.7L526.8 285.4M544.4 301.3L548.0 280.7M545.0 284.5L548.0 280.7L549.5 285.3M568.9 298.3L569.7 283.7M567.2 287.8L569.7 283.7L571.7 288.1M592.4 298.1L592.4 283.9M590.2 288.1L592.4 283.9L594.7 288.1M615.5 297.6L615.5 284.4M613.3 288.7L615.5 284.4L617.8 288.7M638.2 297.4L639.0 284.6M636.5 288.7L639.0 284.6L641.0 289.0M661.2 296.1L662.2 285.9M659.5 289.9L662.2 285.9L664.0 290.3M684.3 295.9L685.3 286.1M682.6 290.1L685.3 286.1L687.1 290.5M168.7 302.9L161.4 318.1M165.3 315.2L161.4 318.1L161.2 313.3M192.1 302.3L184.2 318.7M188.1 315.9L184.2 318.7L184.0 313.9M215.2 301.7L207.3 319.3M211.1 316.4L207.3 319.3L207.0 314.5M238.3 301.5L230.4 319.5M234.2 316.5L230.4 319.5L230.1 314.7M261.8 300.9L253.1 320.1M256.9 317.2L253.1 320.1L252.8 315.3M284.9 301.0L276.2 320.0M280.1 317.0L276.2 320.0L275.9 315.2M307.1 302.1L300.2 318.9M303.9 315.9L300.2 318.9L299.7 314.2M329.3 302.5L324.2 318.5M327.6 315.2L324.2 318.5L323.3 313.8M350.2 304.5L349.5 316.5M352.0 312.4L349.5 316.5L347.5 312.1M371.5 307.4L374.4 313.6M374.6 310.2L374.4 313.6L371.7 311.6M392.9 311.6L399.2 309.4M395.9 308.9L399.2 309.4L396.9 311.9M415.7 316.2L422.6 304.8M418.5 307.3L422.6 304.8L422.3 309.6M438.1 318.0L446.4 303.0M442.4 305.6L446.4 303.0L446.3 307.8M460.9 319.9L469.8 301.1M465.9 304.0L469.8 301.1L470.0 305.9M484.1 322.1L492.8 298.9M489.2 302.0L492.8 298.9L493.4 303.6M508.5 321.5L514.6 299.5M511.3 302.9L514.6 299.5L515.7 304.1M532.5 321.5L536.8 299.5M533.8 303.2L536.8 299.5L538.2 304.1M556.4 321.1L559.1 299.9M556.3 303.8L559.1 299.9L560.8 304.4M580.1 319.2L581.6 301.8M579.0 305.9L581.6 301.8L583.5 306.3M603.2 319.2L604.7 301.8M602.1 305.8L604.7 301.8L606.6 306.2M626.3 319.1L627.8 301.9M625.2 305.9L627.8 301.9L629.7 306.3M649.4 318.3L650.9 302.7M648.3 306.7L650.9 302.7L652.8 307.2M672.7 316.5L673.8 304.5M671.2 308.5L673.8 304.5L675.7 308.9M695.9 315.7L696.8 305.3M694.2 309.3L696.8 305.3L698.7 309.8M155.1 323.7L151.9 336.3M155.1 332.8L151.9 336.3L150.7 331.7M178.8 322.6L174.4 337.4M177.7 334.0L174.4 337.4L173.4 332.7M201.9 322.4L197.5 337.6M200.8 334.2L197.5 337.6L196.5 332.9M224.7 322.3L220.9 337.7M224.1 334.2L220.9 337.7L219.7 333.1M248.2 321.9L243.6 338.1M246.9 334.7L243.6 338.1L242.6 333.4M271.9 321.1L266.1 338.9M269.5 335.5L266.1 338.9L265.3 334.1M294.8 321.3L289.4 338.7M292.8 335.3L289.4 338.7L288.5 333.9M316.8 322.4L313.6 337.6M316.7 333.9L313.6 337.6L312.3 333.0M339.4 324.8L337.2 335.2M340.3 331.5L337.2 335.2L335.9 330.6M359.8 328.6L363.0 331.4M362.2 329.4L363.0 331.4L360.9 330.9M380.4 331.3L388.6 328.7M384.4 327.9L388.6 328.7L385.6 331.8M403.0 335.0L412.2 325.0M407.7 326.6L412.2 325.0L411.0 329.6M425.8 337.5L435.6 322.5M431.4 324.8L435.6 322.5L435.2 327.3M449.1 339.1L458.5 320.9M454.5 323.6L458.5 320.9L458.6 325.7M472.5 340.8L481.3 319.2M477.6 322.3L481.3 319.2L481.8 324.0M496.4 341.5L503.6 318.5M500.2 321.9L503.6 318.5L504.5 323.2M520.7 340.3L525.5 319.7M522.3 323.4L525.5 319.7L526.7 324.4M544.8 339.6L547.6 320.4M544.8 324.3L547.6 320.4L549.2 324.9M568.3 338.1L570.3 321.9M567.5 325.9L570.3 321.9L572.0 326.4M591.6 337.5L593.2 322.5M590.5 326.4L593.2 322.5L595.0 326.9M614.8 337.7L616.2 322.3M613.6 326.3L616.2 322.3L618.1 326.7M637.9 337.1L639.3 322.9M636.7 326.9L639.3 322.9L641.1 327.3M661.2 335.6L662.2 324.4M659.6 328.4L662.2 324.4L664.1 328.8M684.5 334.9L685.1 325.1M682.6 329.2L685.1 325.1L687.1 329.4M165.6 343.8L164.5 355.2M167.2 351.2L164.5 355.2L162.7 350.8M189.0 343.7L187.3 355.3M190.1 351.4L187.3 355.3L185.7 350.8M212.1 342.7L210.4 356.3M213.2 352.4L210.4 356.3L208.7 351.9M235.2 341.8L233.5 357.2M236.2 353.2L233.5 357.2L231.7 352.7M258.8 342.0L256.1 357.0M259.1 353.2L256.1 357.0L254.6 352.4M281.8 342.4L279.3 356.6M282.2 352.8L279.3 356.6L277.8 352.0M304.1 343.2L303.2 355.8M305.7 351.7L303.2 355.8L301.2 351.4M324.3 346.2L329.2 352.8M328.6 348.7L329.2 352.8L325.5 351.0M345.2 349.1L354.5 349.9M350.6 347.4L354.5 349.9L350.2 351.7M368.3 352.7L377.6 346.3M372.8 346.8L377.6 346.3L375.4 350.5M390.8 354.8L401.3 344.2M396.8 345.6L401.3 344.2L400.0 348.8M413.9 355.9L424.4 343.1M419.9 345.0L424.4 343.1L423.4 347.8M437.2 358.0L447.3 341.0M443.2 343.5L447.3 341.0L447.1 345.8M460.5 360.2L470.2 338.8M466.4 341.7L470.2 338.8L470.5 343.6M484.5 360.8L492.4 338.2M488.9 341.5L492.4 338.2L493.1 343.0M508.6 360.6L514.5 338.4M511.3 341.9L514.5 338.4L515.6 343.1M533.0 357.8L536.3 341.2M533.3 344.9L536.3 341.2L537.7 345.8M556.6 357.1L558.9 341.9M556.0 345.7L558.9 341.9L560.5 346.4M579.8 356.3L581.9 342.7M579.0 346.6L581.9 342.7L583.5 347.2M603.0 356.6L604.9 342.4M602.1 346.3L604.9 342.4L606.6 346.9M626.1 356.5L628.0 342.5M625.2 346.4L628.0 342.5L629.6 347.0M649.5 354.5L650.8 344.5M648.0 348.4L650.8 344.5L652.5 349.0M672.7 354.7L673.8 344.3M671.1 348.3L673.8 344.3L675.6 348.8M695.8 354.9L696.9 344.1M694.2 348.1L696.9 344.1L698.7 348.5M151.8 363.4L155.2 374.6M156.1 369.9L155.2 374.6L151.8 371.2M175.8 364.7L177.4 373.3M178.7 369.1L177.4 373.3L174.7 369.9M199.3 364.8L200.1 373.2M201.7 369.3L200.1 373.2L197.8 369.7M224.3 363.1L221.3 374.9M224.5 371.3L221.3 374.9L220.2 370.2M246.3 361.6L245.5 376.4M248.0 372.3L245.5 376.4L243.5 372.0M269.0 362.5L269.0 375.5M271.2 371.2L269.0 375.5L266.7 371.2M290.1 363.9L294.1 374.1M294.6 369.4L294.1 374.1L290.4 371.0M311.0 366.0L319.4 372.0M317.2 367.7L319.4 372.0L314.6 371.4M332.1 369.7L344.5 368.3M340.0 366.5L344.5 368.3L340.5 371.0M354.5 371.9L368.3 366.1M363.5 365.7L368.3 366.1L365.3 369.8M377.3 373.8L391.7 364.2M387.0 364.7L391.7 364.2L389.5 368.4M401.2 375.4L414.0 362.6M409.4 364.0L414.0 362.6L412.6 367.2M424.9 377.6L436.5 360.4M432.3 362.6L436.5 360.4L436.0 365.2M449.0 378.5L458.6 359.5M454.7 362.2L458.6 359.5L458.7 364.3M472.6 380.1L481.2 357.9M477.6 361.0L481.2 357.9L481.8 362.6M496.5 380.4L503.5 357.6M500.1 361.0L503.5 357.6L504.4 362.3M520.6 378.8L525.6 359.2M522.4 362.7L525.6 359.2L526.7 363.8M544.8 375.6L547.6 362.4M544.5 366.1L547.6 362.4L548.9 367.0M568.2 374.6L570.4 363.4M567.4 367.1L570.4 363.4L571.8 368.0M591.4 374.1L593.4 363.9M590.4 367.7L593.4 363.9L594.8 368.5M614.5 374.1L616.5 363.9M613.5 367.6L616.5 363.9L617.9 368.5M637.6 373.9L639.6 364.1M636.6 367.8L639.6 364.1L641.0 368.7M660.5 375.0L662.9 363.0M659.9 366.7L662.9 363.0L664.3 367.6M683.6 375.2L686.0 362.8M683.0 366.5L686.0 362.8L687.4 367.4M160.6 383.3L169.5 393.7M168.5 389.1L169.5 393.7L165.1 392.0M185.1 385.2L191.2 391.8M190.0 387.5L191.2 391.8L187.0 390.3M209.4 385.6L213.1 391.4M212.8 388.0L213.1 391.4L210.1 389.7M234.2 383.9L234.5 393.1M236.5 389.0L234.5 393.1L232.2 389.1M256.0 383.8L258.9 393.2M259.8 388.5L258.9 393.2L255.5 389.8M277.3 384.5L283.8 392.5M282.9 387.7L283.8 392.5L279.4 390.6M297.9 385.5L309.4 391.5M306.7 387.5L309.4 391.5L304.6 391.5M318.7 388.0L334.8 389.0M330.7 386.5L334.8 389.0L330.4 391.0M341.0 391.0L358.7 386.0M354.0 385.0L358.7 386.0L355.3 389.3M364.6 393.2L381.3 383.8M376.5 383.9L381.3 383.8L378.8 387.8M388.9 394.8L403.2 382.2M398.5 383.3L403.2 382.2L401.5 386.7M413.4 396.4L424.9 380.6M420.6 382.7L424.9 380.6L424.3 385.3M436.6 399.0L447.9 378.0M443.9 380.7L447.9 378.0L447.9 382.8M460.5 399.9L470.2 377.1M466.4 380.1L470.2 377.1L470.6 381.9M484.3 400.9L492.6 376.1M489.1 379.4L492.6 376.1L493.4 380.8M508.3 399.5L514.8 377.5M511.4 380.9L514.8 377.5L515.7 382.2M532.2 397.3L537.1 379.7M533.8 383.2L537.1 379.7L538.1 384.3M555.7 396.2L559.8 380.8M556.5 384.3L559.8 380.8L560.9 385.4M579.4 394.1L582.3 382.9M579.1 386.4L582.3 382.9L583.4 387.6M602.2 395.1L605.7 381.9M602.4 385.4L605.7 381.9L606.8 386.6M625.3 395.0L628.8 382.0M625.6 385.4L628.8 382.0L629.9 386.6M648.4 394.6L651.9 382.4M648.5 385.9L651.9 382.4L652.9 387.1M671.3 395.1L675.2 381.9M671.8 385.4L675.2 381.9L676.2 386.6M694.5 395.1L698.2 381.9M694.9 385.4L698.2 381.9L699.2 386.6M145.6 403.4L161.4 412.6M158.9 408.5L161.4 412.6L156.6 412.4M169.2 403.9L184.0 412.1M181.3 408.1L184.0 412.1L179.2 412.0M194.3 405.1L205.1 410.9M202.4 406.9L205.1 410.9L200.3 410.9M218.0 405.4L227.6 410.6M224.9 406.6L227.6 410.6L222.8 410.6M240.5 405.3L251.3 410.7M248.6 406.8L251.3 410.7L246.5 410.8M263.1 406.3L274.9 409.7M271.5 406.4L274.9 409.7L270.2 410.7M283.6 406.6L300.6 409.4M296.7 406.5L300.6 409.4L296.0 410.9M304.4 407.9L326.0 408.1M321.7 405.8L326.0 408.1L321.7 410.3M327.7 410.1L348.9 405.9M344.3 404.5L348.9 405.9L345.2 408.9M351.7 412.3L371.1 403.7M366.3 403.4L371.1 403.7L368.1 407.5M376.3 414.1L392.7 401.9M387.9 402.6L392.7 401.9L390.6 406.2M401.5 415.3L413.7 400.7M409.2 402.5L413.7 400.7L412.7 405.4M425.4 417.3L436.0 398.7M432.0 401.2L436.0 398.7L435.9 403.5M448.7 418.9L458.9 397.1M455.0 400.0L458.9 397.1L459.1 401.9M472.3 420.5L481.5 395.5M477.9 398.7L481.5 395.5L482.1 400.2M496.2 419.9L503.8 396.1M500.4 399.4L503.8 396.1L504.7 400.8M520.0 418.0L526.2 398.0M522.8 401.4L526.2 398.0L527.1 402.7M543.5 416.6L548.9 399.4M545.5 402.7L548.9 399.4L549.8 404.1M567.3 414.4L571.3 401.6M567.9 404.9L571.3 401.6L572.2 406.3M590.3 414.7L594.5 401.3M591.1 404.7L594.5 401.3L595.4 406.0M613.1 415.3L617.9 400.7M614.4 404.0L617.9 400.7L618.7 405.4M636.4 415.0L640.8 401.0M637.4 404.4L640.8 401.0L641.7 405.8M659.5 414.8L663.9 401.2M660.5 404.5L663.9 401.2L664.8 405.9M682.1 415.2L687.5 400.8M683.9 404.0L687.5 400.8L688.1 405.5M156.0 424.4L174.1 430.6M170.8 427.1L174.1 430.6L169.4 431.4M178.3 424.5L198.0 430.5M194.6 427.1L198.0 430.5L193.3 431.4M203.2 425.5L219.3 429.5M215.7 426.3L219.3 429.5L214.6 430.7M225.1 425.6L243.6 429.4M239.9 426.3L243.6 429.4L239.0 430.7M248.0 426.7L266.9 428.3M262.8 425.7L266.9 428.3L262.5 430.2M270.0 428.6L291.1 426.4M286.6 424.6L291.1 426.4L287.1 429.1M291.6 429.2L315.7 425.8M311.2 424.2L315.7 425.8L311.8 428.6M315.1 430.3L338.4 424.7M333.7 423.5L338.4 424.7L334.8 427.9M339.1 431.8L360.6 423.2M355.9 422.7L360.6 423.2L357.5 426.9M364.0 433.2L381.9 421.8M377.2 422.2L381.9 421.8L379.6 426.0M389.2 434.1L402.9 420.9M398.3 422.3L402.9 420.9L401.4 425.5M413.4 435.5L424.9 419.5M420.6 421.6L424.9 419.5L424.3 424.2M437.0 437.1L447.5 417.9M443.5 420.6L447.5 417.9L447.4 422.7M460.5 438.5L470.2 416.5M466.4 419.5L470.2 416.5L470.5 421.3M483.9 439.8L493.0 415.2M489.4 418.4L493.0 415.2L493.7 420.0M507.6 438.7L515.5 416.3M511.9 419.6L515.5 416.3L516.2 421.1M531.2 437.2L538.1 417.8M534.5 421.0L538.1 417.8L538.8 422.5M555.1 435.1L560.4 419.9M556.9 423.2L560.4 419.9L561.1 424.7M578.7 433.7L583.0 421.3M579.5 424.6L583.0 421.3L583.7 426.1M601.6 434.2L606.3 420.8M602.8 424.0L606.3 420.8L607.0 425.5M624.6 434.8L629.5 420.2M626.0 423.5L629.5 420.2L630.3 424.9M648.2 433.8L652.1 421.2M648.7 424.6L652.1 421.2L653.0 426.0M671.5 433.6L675.0 421.4M671.7 424.9L675.0 421.4L676.0 426.1M694.7 433.6L698.0 421.4M694.7 424.9L698.0 421.4L699.1 426.0M144.7 444.6L162.3 449.4M158.8 446.1L162.3 449.4L157.6 450.5M166.5 444.9L186.7 449.1M183.0 446.0L186.7 449.1L182.0 450.4M190.5 446.5L208.9 447.5M204.8 445.0L208.9 447.5L204.5 449.5M212.7 447.8L232.9 446.2M228.5 444.3L232.9 446.2L228.8 448.8M234.4 448.3L257.4 445.7M252.9 444.0L257.4 445.7L253.4 448.4M258.6 448.6L279.4 445.4M274.9 443.8L279.4 445.4L275.6 448.3M280.7 450.0L303.5 444.0M298.9 442.9L303.5 444.0L300.0 447.3M303.7 450.7L326.7 443.3M322.0 442.5L326.7 443.3L323.4 446.8M327.9 451.2L348.7 442.8M343.9 442.3L348.7 442.8L345.6 446.5M352.2 452.2L370.6 441.8M365.8 441.9L370.6 441.8L368.0 445.9M377.0 453.1L392.0 440.9M387.3 441.8L392.0 440.9L390.1 445.3M401.2 454.2L414.0 439.8M409.5 441.4L414.0 439.8L412.9 444.4M424.4 456.6L437.0 437.4M432.8 439.7L437.0 437.4L436.6 442.2M448.7 456.7L458.9 437.3M454.9 440.0L458.9 437.3L458.9 442.1M472.0 458.2L481.8 435.8M478.0 438.8L481.8 435.8L482.1 440.6M495.7 458.1L504.3 435.9M500.7 439.0L504.3 435.9L504.9 440.6M519.5 456.6L526.7 437.4M523.1 440.5L526.7 437.4L527.3 442.1M543.3 454.5L549.1 439.5M545.5 442.6L549.1 439.5L549.7 444.3M567.3 452.4L571.3 441.6M567.7 444.8L571.3 441.6L571.9 446.4M590.7 451.6L594.1 442.4M590.5 445.6L594.1 442.4L594.8 447.1M613.3 453.2L617.7 440.8M614.1 444.1L617.7 440.8L618.4 445.6M636.7 453.5L640.5 440.5M637.1 444.0L640.5 440.5L641.5 445.2M660.5 452.2L662.9 441.8M659.7 445.5L662.9 441.8L664.1 446.5M683.7 453.2L685.9 440.8M683.0 444.6L685.9 440.8L687.4 445.4M156.2 465.2L173.9 467.8M170.0 465.0L173.9 467.8L169.3 469.4M179.3 466.3L197.0 466.7M192.8 464.4L197.0 466.7L192.7 468.9M202.2 467.5L220.3 465.5M215.9 463.7L220.3 465.5L216.4 468.2M224.1 468.5L244.6 464.5M240.0 463.1L244.6 464.5L240.8 467.5M246.4 469.3L268.5 463.7M263.8 462.6L268.5 463.7L265.0 466.9M270.6 469.9L290.5 463.1M285.8 462.3L290.5 463.1L287.3 466.6M293.8 470.4L313.5 462.6M308.7 462.1L313.5 462.6L310.4 466.2M316.5 471.1L337.0 461.9M332.2 461.6L337.0 461.9L334.1 465.7M338.7 472.4L361.0 460.6M356.2 460.6L361.0 460.6L358.3 464.6M364.6 472.5L381.3 460.5M376.5 461.2L381.3 460.5L379.1 464.8M389.0 473.4L403.1 459.6M398.5 461.0L403.1 459.6L401.6 464.2M412.4 475.1L425.9 457.9M421.5 459.9L425.9 457.9L425.0 462.7M436.0 476.6L448.5 456.4M444.4 458.8L448.5 456.4L448.2 461.1M460.0 477.2L470.7 455.8M466.8 458.6L470.7 455.8L470.8 460.6M484.0 477.2L492.9 455.8M489.2 458.8L492.9 455.8L493.4 460.6M507.9 475.9L515.2 457.1M511.6 460.2L515.2 457.1L515.8 461.9M531.9 473.7L537.4 459.3M533.8 462.4L537.4 459.3L538.0 464.1M555.5 472.3L560.0 460.7M556.4 463.8L560.0 460.7L560.6 465.4M579.2 471.4L582.5 461.6M579.0 464.9L582.5 461.6L583.3 466.4M602.2 471.7L605.7 461.3M602.2 464.6L605.7 461.3L606.5 466.0M625.1 473.1L629.0 459.9M625.6 463.3L629.0 459.9L629.9 464.6M649.3 471.8L651.0 461.2M648.1 465.0L651.0 461.2L652.6 465.7M672.8 471.6L673.7 461.4M671.1 465.5L673.7 461.4L675.6 465.8M696.0 471.4L696.7 461.6M694.1 465.7L696.7 461.6L698.6 466.0M145.8 485.3L161.2 486.7M157.2 484.1L161.2 486.7L156.8 488.6M168.4 485.9L184.8 486.1M180.5 483.8L184.8 486.1L180.5 488.3M191.5 486.8L207.9 485.2M203.5 483.4L207.9 485.2L203.9 487.9M214.4 487.7L231.2 484.3M226.6 482.9L231.2 484.3L227.5 487.3M237.1 488.5L254.7 483.5M250.0 482.5L254.7 483.5L251.3 486.9M259.4 489.4L278.6 482.6M273.8 481.9L278.6 482.6L275.4 486.1M282.5 490.2L301.7 481.8M296.9 481.4L301.7 481.8L298.7 485.6M305.8 490.7L324.6 481.3M319.8 481.2L324.6 481.3L321.8 485.2M327.9 491.9L348.7 480.1M343.9 480.2L348.7 480.1L346.1 484.1M351.5 492.9L371.3 479.1M366.6 479.7L371.3 479.1L369.1 483.4M375.4 494.1L393.6 477.9M388.9 479.0L393.6 477.9L391.9 482.4M399.7 495.0L415.5 477.0M411.0 478.7L415.5 477.0L414.4 481.7M423.7 496.0L437.7 476.0M433.4 478.2L437.7 476.0L437.1 480.8M447.9 496.4L459.7 475.6M455.7 478.2L459.7 475.6L459.6 480.4M472.3 495.6L481.5 476.4M477.6 479.2L481.5 476.4L481.7 481.2M496.5 494.5L503.5 477.5M499.8 480.5L503.5 477.5L504.0 482.2M520.4 493.5L525.8 478.5M522.2 481.7L525.8 478.5L526.5 483.3M544.3 491.9L548.1 480.1M544.7 483.4L548.1 480.1L549.0 484.8M567.8 491.3L570.8 480.7M567.5 484.2L570.8 480.7L571.8 485.4M591.1 491.8L593.7 480.2M590.6 483.9L593.7 480.2L595.0 484.9M614.6 490.9L616.4 481.1M613.4 484.9L616.4 481.1L617.8 485.7M638.1 491.7L639.1 480.3M636.5 484.4L639.1 480.3L641.0 484.7M661.8 492.3L661.6 479.7M659.4 484.0L661.6 479.7L663.9 483.9M685.0 490.9L684.6 481.1M682.5 485.4L684.6 481.1L687.0 485.2M158.7 505.6L171.4 505.4M167.1 503.2L171.4 505.4L167.2 507.7M181.6 506.1L194.7 504.9M190.3 503.0L194.7 504.9L190.7 507.5M203.6 506.9L218.9 504.1M214.3 502.7L218.9 504.1L215.1 507.1M226.2 507.6L242.5 503.4M237.8 502.3L242.5 503.4L238.9 506.6M249.9 508.0L265.0 503.0M260.2 502.2L265.0 503.0L261.7 506.4M272.3 508.9L288.8 502.1M284.0 501.6L288.8 502.1L285.7 505.8M294.6 510.1L312.7 500.9M307.9 500.8L312.7 500.9L309.9 504.9M317.7 511.0L335.8 500.0M331.0 500.3L335.8 500.0L333.3 504.2M340.2 512.5L359.5 498.5M354.7 499.2L359.5 498.5L357.4 502.8M364.1 513.3L381.8 497.7M377.1 498.8L381.8 497.7L380.1 502.2M388.2 514.0L403.9 497.0M399.4 498.6L403.9 497.0L402.7 501.6M411.9 515.0L426.4 496.0M422.0 498.0L426.4 496.0L425.6 500.7M435.8 515.6L448.7 495.4M444.5 497.8L448.7 495.4L448.3 500.2M460.3 515.0L470.4 496.0M466.4 498.7L470.4 496.0L470.4 500.8M485.0 513.4L491.9 497.6M488.2 500.6L491.9 497.6L492.3 502.4M509.2 512.2L513.9 498.8M510.4 502.1L513.9 498.8L514.6 503.6M533.4 510.3L535.9 500.7M532.7 504.2L535.9 500.7L537.0 505.3M556.8 510.3L558.7 500.7M555.7 504.4L558.7 500.7L560.1 505.2M580.3 510.3L581.4 500.7M578.7 504.6L581.4 500.7L583.2 505.2M603.7 510.3L604.2 500.7M601.7 504.8L604.2 500.7L606.2 505.0M627.2 511.7L626.9 499.3M624.7 503.6L626.9 499.3L629.2 503.5M651.1 511.8L649.2 499.2M647.6 503.8L649.2 499.2L652.1 503.1M674.3 511.7L672.2 499.3M670.7 503.8L672.2 499.3L675.1 503.1M696.8 511.8L695.9 499.2M694.0 503.6L695.9 499.2L698.5 503.3M146.4 525.5L160.6 524.5M156.3 522.5L160.6 524.5L156.6 527.0M169.5 525.9L183.7 524.1M179.2 522.4L183.7 524.1L179.8 526.9M192.2 526.4L207.2 523.6M202.7 522.2L207.2 523.6L203.5 526.6M214.1 527.1L231.5 522.9M226.9 521.7L231.5 522.9L227.9 526.1M237.5 527.7L254.3 522.3M249.6 521.4L254.3 522.3L251.0 525.7M261.1 528.2L276.9 521.8M272.2 521.3L276.9 521.8L273.8 525.5M283.8 529.0L300.4 521.0M295.6 520.8L300.4 521.0L297.5 524.9M306.2 530.4L324.2 519.6M319.4 519.8L324.2 519.6L321.8 523.7M330.4 531.0L346.2 519.0M341.5 519.8L346.2 519.0L344.2 523.4M352.8 532.9L370.0 517.1M365.4 518.3L370.0 517.1L368.4 521.6M377.3 532.7L391.7 517.3M387.2 518.8L391.7 517.3L390.5 521.9M400.2 534.4L415.0 515.6M410.6 517.6L415.0 515.6L414.2 520.4M424.2 534.7L437.2 515.3M433.0 517.6L437.2 515.3L436.7 520.1M448.3 534.5L459.3 515.5M455.2 518.0L459.3 515.5L459.1 520.2M473.1 532.7L480.7 517.3M476.8 520.1L480.7 517.3L480.9 522.1M497.8 530.7L502.2 519.3M498.6 522.5L502.2 519.3L502.8 524.1M521.9 529.8L524.3 520.2M521.1 523.8L524.3 520.2L525.5 524.9M545.6 529.9L546.8 520.1M544.1 524.0L546.8 520.1L548.5 524.6M569.1 529.9L569.5 520.1M567.1 524.2L569.5 520.1L571.6 524.4M592.6 528.9L592.2 521.1M590.5 524.6L592.2 521.1L594.2 524.5M616.0 530.1L615.0 519.9M613.2 524.3L615.0 519.9L617.7 523.9M639.8 531.2L637.4 518.8M636.0 523.4L637.4 518.8L640.4 522.5M663.7 531.0L659.7 519.0M658.9 523.7L659.7 519.0L663.2 522.3M685.6 531.3L684.0 518.7M682.3 523.2L684.0 518.7L686.8 522.7M157.8 546.1L172.3 542.9M167.7 541.6L172.3 542.9L168.6 546.0M180.9 546.4L195.4 542.6M190.8 541.5L195.4 542.6L191.9 545.8M204.0 546.6L218.5 542.4M213.8 541.4L218.5 542.4L215.1 545.7M226.2 547.3L242.5 541.7M237.7 541.0L242.5 541.7L239.2 545.2M248.9 548.1L266.0 540.9M261.2 540.5L266.0 540.9L263.0 544.6M271.3 548.9L289.8 540.1M285.0 539.8L289.8 540.1L287.0 543.9M295.6 549.3L311.7 539.7M306.9 540.0L311.7 539.7L309.2 543.8M319.3 550.0L334.2 539.0M329.4 539.7L334.2 539.0L332.1 543.3M343.1 550.7L356.6 538.3M351.9 539.5L356.6 538.3L355.0 542.8M365.9 552.2L380.0 536.8M375.5 538.4L380.0 536.8L378.8 541.5M388.8 553.6L403.3 535.4M398.9 537.3L403.3 535.4L402.4 540.1M412.4 554.4L425.9 534.6M421.6 536.9L425.9 534.6L425.4 539.4M436.9 553.6L447.6 535.4M443.5 538.0L447.6 535.4L447.4 540.2M461.2 552.6L469.5 536.4M465.5 539.1L469.5 536.4L469.6 541.2M485.9 550.6L491.0 538.4M487.3 541.5L491.0 538.4L491.4 543.2M509.9 550.5L513.2 538.5M509.9 541.9L513.2 538.5L514.3 543.1M533.8 550.5L535.5 538.5M532.7 542.4L535.5 538.5L537.1 543.0M557.7 549.4L557.8 539.6M555.5 543.8L557.8 539.6L560.0 543.9M581.2 549.5L580.5 539.5M578.5 543.9L580.5 539.5L583.0 543.6M604.8 549.8L603.1 539.2M601.5 543.7L603.1 539.2L606.0 543.0M628.2 550.7L625.9 538.3M624.4 542.9L625.9 538.3L628.9 542.0M651.3 550.7L649.0 538.3M647.6 542.8L649.0 538.3L652.0 542.1M673.6 550.8L672.9 538.2M670.9 542.6L672.9 538.2L675.4 542.3M696.4 550.8L696.3 538.2M694.1 542.4L696.3 538.2L698.6 542.4M149.5 565.6L157.5 562.4M153.2 561.9L157.5 562.4L154.7 565.7M171.8 566.0L181.4 562.0M176.6 561.6L181.4 562.0L178.4 565.7M194.0 566.5L205.4 561.5M200.6 561.1L205.4 561.5L202.4 565.3M216.2 567.0L229.4 561.0M224.7 560.7L229.4 561.0L226.5 564.8M237.3 568.2L254.5 559.8M249.7 559.6L254.5 559.8L251.7 563.7M259.7 569.0L278.3 559.0M273.5 559.0L278.3 559.0L275.6 563.0M283.2 569.5L301.0 558.5M296.3 558.8L301.0 558.5L298.6 562.6M307.2 569.9L323.2 558.1M318.4 558.8L323.2 558.1L321.1 562.4M331.5 570.1L345.1 557.9M340.4 559.0L345.1 557.9L343.4 562.4M355.1 570.8L367.7 557.2M363.2 558.8L367.7 557.2L366.5 561.8M377.9 572.3L391.1 555.7M386.7 557.6L391.1 555.7L390.2 560.4M401.1 573.6L414.1 554.4M409.9 556.6L414.1 554.4L413.6 559.1M425.3 573.4L436.1 554.6M432.1 557.2L436.1 554.6L436.0 559.4M450.0 571.6L457.6 556.4M453.7 559.2L457.6 556.4L457.7 561.2M474.7 569.6L479.1 558.4M475.5 561.5L479.1 558.4L479.6 563.2M498.4 569.5L501.6 558.5M498.3 561.9L501.6 558.5L502.6 563.2M522.1 570.1L524.1 557.9M521.2 561.7L524.1 557.9L525.6 562.5M545.9 569.0L546.5 559.0M544.0 563.1L546.5 559.0L548.5 563.3M569.4 569.1L569.2 558.9M567.0 563.2L569.2 558.9L571.5 563.1M592.9 570.6L591.9 557.4M590.0 561.8L591.9 557.4L594.5 561.4M616.4 570.3L614.6 557.7M613.0 562.2L614.6 557.7L617.4 561.6M639.3 570.3L637.9 557.7M636.1 562.2L637.9 557.7L640.6 561.7M661.7 570.3L661.7 557.7M659.5 561.9L661.7 557.7L664.0 561.9M684.7 571.0L684.9 557.0M682.6 561.2L684.9 557.0L687.1 561.3M163.2 584.7L166.9 582.3M164.7 582.5L166.9 582.3L165.9 584.2M184.8 585.6L191.5 581.4M187.6 581.7L191.5 581.4L189.5 584.8M206.1 586.7L216.4 580.3M211.6 580.6L216.4 580.3L214.0 584.5M227.1 588.0L241.6 579.0M236.8 579.3L241.6 579.0L239.2 583.2M248.5 589.1L266.4 577.9M261.6 578.2L266.4 577.9L264.0 582.1M271.9 589.3L289.2 577.7M284.4 578.2L289.2 577.7L286.9 581.9M296.3 589.0L311.0 578.0M306.2 578.7L311.0 578.0L308.9 582.3M319.9 589.6L333.6 577.4M328.9 578.5L333.6 577.4L331.9 581.9M344.4 589.4L355.3 577.6M350.8 579.2L355.3 577.6L354.1 582.3M366.6 591.6L379.3 575.4M375.0 577.4L379.3 575.4L378.5 580.2M389.7 593.0L402.4 574.0M398.2 576.3L402.4 574.0L401.9 578.8M413.8 592.9L424.5 574.1M420.4 576.7L424.5 574.1L424.4 578.9M439.0 590.3L445.5 576.7M441.7 579.5L445.5 576.7L445.7 581.5M463.4 588.4L467.3 578.6M463.6 581.7L467.3 578.6L467.8 583.4M487.0 588.2L489.9 578.8M486.5 582.2L489.9 578.8L490.8 583.5M510.4 589.2L512.7 577.8M509.6 581.5L512.7 577.8L514.1 582.4M534.2 588.4L535.1 578.6M532.5 582.6L535.1 578.6L537.0 583.0M557.7 589.6L557.8 577.4M555.5 581.6L557.8 577.4L560.0 581.7M581.1 589.4L580.6 577.6M578.5 581.9L580.6 577.6L583.0 581.8M604.6 592.1L603.3 574.9M601.4 579.3L603.3 574.9L605.9 579.0M627.7 591.1L626.4 575.9M624.5 580.3L626.4 575.9L629.0 579.9M650.3 591.1L650.0 575.9M647.8 580.2L650.0 575.9L652.3 580.1M673.1 591.2L673.4 575.8M671.1 579.9L673.4 575.8L675.6 580.1M696.1 591.3L696.6 575.7M694.2 579.8L696.6 575.7L698.7 580.0M152.0 604.5L155.0 601.5M153.0 602.1L155.0 601.5L154.4 603.5M173.7 605.5L179.5 600.5M175.8 601.3L179.5 600.5L178.1 604.1M195.0 606.9L204.4 599.1M199.7 600.1L204.4 599.1L202.6 603.6M217.1 607.5L228.5 598.5M223.8 599.3L228.5 598.5L226.6 602.9M238.2 608.8L253.6 597.2M248.8 598.0L253.6 597.2L251.5 601.5M260.6 609.4L277.4 596.6M272.7 597.4L277.4 596.6L275.4 601.0M284.8 608.8L299.4 597.2M294.6 598.1L299.4 597.2L297.4 601.6M308.5 609.2L321.9 596.8M317.3 598.0L321.9 596.8L320.3 601.3M331.1 610.7L345.5 595.3M340.9 596.9L345.5 595.3L344.2 599.9M355.6 610.3L367.2 595.7M362.8 597.6L367.2 595.7L366.4 600.4M378.6 611.7L390.4 594.3M386.2 596.5L390.4 594.3L389.9 599.0M402.0 612.8L413.2 593.2M409.1 595.8L413.2 593.2L413.0 598.0M427.0 610.8L434.4 595.2M430.6 598.0L434.4 595.2L434.6 600.0M451.5 608.9L456.1 597.1M452.5 600.2L456.1 597.1L456.7 601.9M475.5 607.7L478.3 598.3M474.9 601.7L478.3 598.3L479.3 603.0M499.0 607.8L501.0 598.2M497.9 601.9L501.0 598.2L502.3 602.8M522.5 607.9L523.7 598.1M520.9 602.1L523.7 598.1L525.4 602.6M546.0 609.4L546.4 596.6M544.0 600.8L546.4 596.6L548.5 600.9M569.4 610.7L569.2 595.3M567.0 599.6L569.2 595.3L571.5 599.5M592.8 611.7L592.0 594.3M590.0 598.6L592.0 594.3L594.5 598.4M616.0 612.1L615.0 593.9M613.0 598.2L615.0 593.9L617.5 598.0M638.9 611.4L638.3 594.6M636.2 598.9L638.3 594.6L640.7 598.8M661.6 611.8L661.8 594.2M659.5 598.4L661.8 594.2L664.0 598.4M684.5 612.1L685.1 593.9M682.7 598.0L685.1 593.9L687.2 598.2" stroke="#000" stroke-opacity="0.85" stroke-width="0.68" fill="none" stroke-linejoin="miter"/>
<path d="M186 72.5v14 M290 72.5v14 M394 72.5v14 M497.5 72.5v14 M600.5 72.5v14 M164 603.3v-14 M277.5 603.3v-14 M391 603.3v-14 M504.5 603.3v-14 M618 603.3v-14 M154.0 101h14.5 M684.7 101h-14.5 M154.0 232.5h14.5 M684.7 232.5h-14.5 M154.0 365h14.5 M684.7 365h-14.5 M154.0 497.5h14.5 M684.7 497.5h-14.5" stroke="#000" stroke-width="1.2" fill="none"/>
<rect x="154.0" y="72.5" width="530.7" height="530.8" fill="none" stroke="#000" stroke-width="1.25"/>
<rect x="658.6" y="72.9" width="28.6" height="38.4" fill="#fff" stroke="#444" stroke-width="0.7"/>
<text x="672.8" y="86.8" font-size="15" text-anchor="middle">8</text>
<path d="M661.4 97.5H683.9M678.9 94.9L683.9 97.5L678.9 100.1" stroke="#222" stroke-width="0.7" fill="none"/>
<text x="308.5" y="27" font-size="14.3" font-weight="bold">2022/11/6/18UTC (12LT), Sunday</text>
<text x="308.5" y="42.4" font-size="14.3" font-weight="bold">FV3M0B2L1_GFS025</text>
<text x="154" y="64" font-size="24.6">WSP 10m</text>
<text x="686.5" y="64" font-size="24.6" text-anchor="end">m/s</text>
<text x="144.8" y="238" font-size="15" text-anchor="end">36°N</text>
<text x="144.8" y="503" font-size="15" text-anchor="end">32°N</text>
<text x="164" y="625" font-size="15" text-anchor="middle">102°W</text>
<text x="391" y="625" font-size="15" text-anchor="middle">98°W</text>
<text x="618" y="625" font-size="15" text-anchor="middle">94°W</text>
<text x="203.3" y="619.5" font-size="14.8">Min= .02 Max= 11.34</text>
<rect x="161.60" y="627.6" width="39.97" height="14.399999999999977" fill="#0000ff"/><rect x="201.27" y="627.6" width="39.97" height="14.399999999999977" fill="#0080ff"/><rect x="240.94" y="627.6" width="39.97" height="14.399999999999977" fill="#00ffff"/><rect x="280.61" y="627.6" width="39.97" height="14.399999999999977" fill="#00dc82"/><rect x="320.28" y="627.6" width="39.97" height="14.399999999999977" fill="#00b41e"/><rect x="359.95" y="627.6" width="39.97" height="14.399999999999977" fill="#82dc14"/><rect x="399.62" y="627.6" width="39.97" height="14.399999999999977" fill="#ffff00"/><rect x="439.28" y="627.6" width="39.97" height="14.399999999999977" fill="#ffd200"/><rect x="478.95" y="627.6" width="39.97" height="14.399999999999977" fill="#ffa000"/><rect x="518.62" y="627.6" width="39.97" height="14.399999999999977" fill="#ff5000"/><rect x="558.29" y="627.6" width="39.97" height="14.399999999999977" fill="#ff0000"/><rect x="597.96" y="627.6" width="39.97" height="14.399999999999977" fill="#b40046"/><rect x="637.63" y="627.6" width="39.97" height="14.399999999999977" fill="#5a0096"/><path d="M201.27 627.6V642.0 M240.94 627.6V642.0 M280.61 627.6V642.0 M320.28 627.6V642.0 M359.95 627.6V642.0 M399.62 627.6V642.0 M439.28 627.6V642.0 M478.95 627.6V642.0 M518.62 627.6V642.0 M558.29 627.6V642.0 M597.96 627.6V642.0 M637.63 627.6V642.0" stroke="#000" stroke-width="0.7"/>
<text x="201.3" y="657" font-size="14" text-anchor="middle">1</text><text x="280.6" y="657" font-size="14" text-anchor="middle">3</text><text x="359.9" y="657" font-size="14" text-anchor="middle">5</text><text x="439.3" y="657" font-size="14" text-anchor="middle">7</text><text x="518.6" y="657" font-size="14" text-anchor="middle">9</text><text x="598.0" y="657" font-size="14" text-anchor="middle">11</text>
</svg></body></html>
